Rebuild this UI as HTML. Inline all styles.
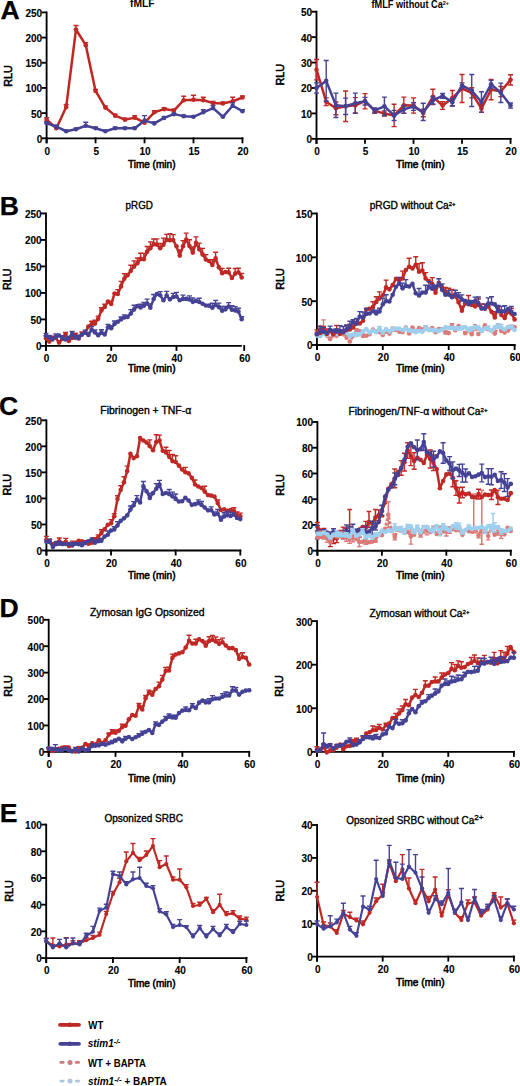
<!DOCTYPE html><html><head><meta charset="utf-8"><style>html,body{margin:0;padding:0;background:#fff;}svg{display:block;}text{font-family:"Liberation Sans", sans-serif;} .tk{font-size:10px;font-weight:bold;fill:#000;stroke:#000;stroke-width:0.1px;} .tt{font-size:10px;font-weight:normal;fill:#000;stroke:#000;stroke-width:0.35px;} .xl{font-size:10.4px;font-weight:normal;fill:#000;stroke:#000;stroke-width:0.55px;} .pl{font-size:26.6px;font-weight:bold;fill:#000;stroke:#000;stroke-width:0.25px;} .lg{font-size:10px;font-weight:bold;fill:#000;}</style></head><body>
<svg width="520" height="1086" viewBox="0 0 520 1086">
<rect width="520" height="1086" fill="#fff"/>
<line x1="46.6" y1="11.48" x2="46.6" y2="143.3" stroke="#000" stroke-width="1.85"/>
<line x1="45.68" y1="138.3" x2="243.38" y2="138.3" stroke="#000" stroke-width="1.85"/>
<line x1="41.6" y1="138.3" x2="46.6" y2="138.3" stroke="#000" stroke-width="1.85"/>
<text x="42.2" y="142.7" text-anchor="end" class="tk">0</text>
<line x1="41.6" y1="113.12" x2="46.6" y2="113.12" stroke="#000" stroke-width="1.85"/>
<text x="42.2" y="117.52" text-anchor="end" class="tk">50</text>
<line x1="41.6" y1="87.94" x2="46.6" y2="87.94" stroke="#000" stroke-width="1.85"/>
<text x="42.2" y="92.34" text-anchor="end" class="tk">100</text>
<line x1="41.6" y1="62.76" x2="46.6" y2="62.76" stroke="#000" stroke-width="1.85"/>
<text x="42.2" y="67.16" text-anchor="end" class="tk">150</text>
<line x1="41.6" y1="37.58" x2="46.6" y2="37.58" stroke="#000" stroke-width="1.85"/>
<text x="42.2" y="41.98" text-anchor="end" class="tk">200</text>
<line x1="41.6" y1="12.4" x2="46.6" y2="12.4" stroke="#000" stroke-width="1.85"/>
<text x="42.2" y="16.8" text-anchor="end" class="tk">250</text>
<line x1="46.6" y1="137.38" x2="46.6" y2="143.3" stroke="#000" stroke-width="1.85"/>
<text x="47.2" y="154.5" text-anchor="middle" class="tk">0</text>
<line x1="95.56" y1="137.38" x2="95.56" y2="143.3" stroke="#000" stroke-width="1.85"/>
<text x="96.16" y="154.5" text-anchor="middle" class="tk">5</text>
<line x1="144.53" y1="137.38" x2="144.53" y2="143.3" stroke="#000" stroke-width="1.85"/>
<text x="145.12" y="154.5" text-anchor="middle" class="tk">10</text>
<line x1="193.49" y1="137.38" x2="193.49" y2="143.3" stroke="#000" stroke-width="1.85"/>
<text x="194.09" y="154.5" text-anchor="middle" class="tk">15</text>
<line x1="242.45" y1="137.38" x2="242.45" y2="143.3" stroke="#000" stroke-width="1.85"/>
<text x="243.05" y="154.5" text-anchor="middle" class="tk">20</text>
<text x="130" y="7.4" class="tt" textLength="24.6" lengthAdjust="spacingAndGlyphs" style="font-weight:bold;stroke-width:0">fMLF</text>
<text x="127.9" y="167.5" class="xl" textLength="47.6" lengthAdjust="spacingAndGlyphs">Time (min)</text>
<text transform="translate(11.6,76) rotate(-90)" text-anchor="middle" class="xl" textLength="21.6" lengthAdjust="spacingAndGlyphs">RLU</text>
<path d="M46.6 119.67V117.65M44.1 117.65H49.1" stroke="#bf2824" stroke-width="1.4" fill="none"/>
<path d="M56.39 128.23V127.22M53.89 127.22H58.89" stroke="#bf2824" stroke-width="1.4" fill="none"/>
<path d="M66.19 107.08V104.56M63.69 104.56H68.69" stroke="#bf2824" stroke-width="1.4" fill="none"/>
<path d="M75.98 29.52V25.49M73.48 25.49H78.48" stroke="#bf2824" stroke-width="1.4" fill="none"/>
<path d="M85.77 45.13V42.62M83.27 42.62H88.27" stroke="#bf2824" stroke-width="1.4" fill="none"/>
<path d="M95.56 90.96V89.45M93.06 89.45H98.06" stroke="#bf2824" stroke-width="1.4" fill="none"/>
<path d="M105.36 107.58V106.07M102.86 106.07H107.86" stroke="#bf2824" stroke-width="1.4" fill="none"/>
<path d="M115.15 115.64V114.13M112.65 114.13H117.65" stroke="#bf2824" stroke-width="1.4" fill="none"/>
<path d="M124.94 119.67V118.16M122.44 118.16H127.44" stroke="#bf2824" stroke-width="1.4" fill="none"/>
<path d="M134.73 117.65V115.64M132.23 115.64H137.23" stroke="#bf2824" stroke-width="1.4" fill="none"/>
<path d="M144.53 122.69V121.18M142.03 121.18H147.03" stroke="#bf2824" stroke-width="1.4" fill="none"/>
<path d="M154.32 112.31V110.8M151.82 110.8H156.82" stroke="#bf2824" stroke-width="1.4" fill="none"/>
<path d="M164.11 109.09V107.58M161.61 107.58H166.61" stroke="#bf2824" stroke-width="1.4" fill="none"/>
<path d="M173.9 110.6V109.09M171.4 109.09H176.4" stroke="#bf2824" stroke-width="1.4" fill="none"/>
<path d="M183.69 100.23V96.2M181.19 96.2H186.19" stroke="#bf2824" stroke-width="1.4" fill="none"/>
<path d="M193.49 99.72V95.19M190.99 95.19H195.99" stroke="#bf2824" stroke-width="1.4" fill="none"/>
<path d="M203.28 100.23V97.21M200.78 97.21H205.78" stroke="#bf2824" stroke-width="1.4" fill="none"/>
<path d="M213.07 103.05V101.54M210.57 101.54H215.57" stroke="#bf2824" stroke-width="1.4" fill="none"/>
<path d="M222.87 103.55V102.04M220.37 102.04H225.37" stroke="#bf2824" stroke-width="1.4" fill="none"/>
<path d="M232.66 101.34V97.31M230.16 97.31H235.16" stroke="#bf2824" stroke-width="1.4" fill="none"/>
<path d="M242.45 97.51V96M239.95 96H244.95" stroke="#bf2824" stroke-width="1.4" fill="none"/>
<path d="M46.6 119.67 L56.39 128.23 L66.19 107.08 L75.98 29.52 L85.77 45.13 L95.56 90.96 L105.36 107.58 L115.15 115.64 L124.94 119.67 L134.73 117.65 L144.53 122.69 L154.32 112.31 L164.11 109.09 L173.9 110.6 L183.69 100.23 L193.49 99.72 L203.28 100.23 L213.07 103.05 L222.87 103.55 L232.66 101.34 L242.45 97.51" stroke="#bf2824" stroke-width="2.5" fill="none" stroke-linejoin="round"/>
<circle cx="46.6" cy="119.67" r="2.3" fill="#bf2824"/>
<circle cx="56.39" cy="128.23" r="2.3" fill="#bf2824"/>
<circle cx="66.19" cy="107.08" r="2.3" fill="#bf2824"/>
<circle cx="75.98" cy="29.52" r="2.3" fill="#bf2824"/>
<circle cx="85.77" cy="45.13" r="2.3" fill="#bf2824"/>
<circle cx="95.56" cy="90.96" r="2.3" fill="#bf2824"/>
<circle cx="105.36" cy="107.58" r="2.3" fill="#bf2824"/>
<circle cx="115.15" cy="115.64" r="2.3" fill="#bf2824"/>
<circle cx="124.94" cy="119.67" r="2.3" fill="#bf2824"/>
<circle cx="134.73" cy="117.65" r="2.3" fill="#bf2824"/>
<circle cx="144.53" cy="122.69" r="2.3" fill="#bf2824"/>
<circle cx="154.32" cy="112.31" r="2.3" fill="#bf2824"/>
<circle cx="164.11" cy="109.09" r="2.3" fill="#bf2824"/>
<circle cx="173.9" cy="110.6" r="2.3" fill="#bf2824"/>
<circle cx="183.69" cy="100.23" r="2.3" fill="#bf2824"/>
<circle cx="193.49" cy="99.72" r="2.3" fill="#bf2824"/>
<circle cx="203.28" cy="100.23" r="2.3" fill="#bf2824"/>
<circle cx="213.07" cy="103.05" r="2.3" fill="#bf2824"/>
<circle cx="222.87" cy="103.55" r="2.3" fill="#bf2824"/>
<circle cx="232.66" cy="101.34" r="2.3" fill="#bf2824"/>
<circle cx="242.45" cy="97.51" r="2.3" fill="#bf2824"/>
<path d="M46.6 123.19V121.68M44.1 121.68H49.1" stroke="#454296" stroke-width="1.4" fill="none"/>
<path d="M56.39 126.72V125.21M53.89 125.21H58.89" stroke="#454296" stroke-width="1.4" fill="none"/>
<path d="M66.19 131.25V130.24M63.69 130.24H68.69" stroke="#454296" stroke-width="1.4" fill="none"/>
<path d="M75.98 129.24V128.23M73.48 128.23H78.48" stroke="#454296" stroke-width="1.4" fill="none"/>
<path d="M85.77 125.71V122.18M83.27 122.18H88.27" stroke="#454296" stroke-width="1.4" fill="none"/>
<path d="M95.56 128.23V127.22M93.06 127.22H98.06" stroke="#454296" stroke-width="1.4" fill="none"/>
<path d="M105.36 131.25V130.24M102.86 130.24H107.86" stroke="#454296" stroke-width="1.4" fill="none"/>
<path d="M115.15 128.23V127.22M112.65 127.22H117.65" stroke="#454296" stroke-width="1.4" fill="none"/>
<path d="M124.94 128.23V127.22M122.44 127.22H127.44" stroke="#454296" stroke-width="1.4" fill="none"/>
<path d="M134.73 128.23V127.22M132.23 127.22H137.23" stroke="#454296" stroke-width="1.4" fill="none"/>
<path d="M144.53 120.67V115.64M142.03 115.64H147.03" stroke="#454296" stroke-width="1.4" fill="none"/>
<path d="M154.32 123.39V121.88M151.82 121.88H156.82" stroke="#454296" stroke-width="1.4" fill="none"/>
<path d="M164.11 117.9V116.9M161.61 116.9H166.61" stroke="#454296" stroke-width="1.4" fill="none"/>
<path d="M173.9 114.13V113.12M171.4 113.12H176.4" stroke="#454296" stroke-width="1.4" fill="none"/>
<path d="M183.69 116.14V115.13M181.19 115.13H186.19" stroke="#454296" stroke-width="1.4" fill="none"/>
<path d="M193.49 116.8V115.79M190.99 115.79H195.99" stroke="#454296" stroke-width="1.4" fill="none"/>
<path d="M203.28 112.31V109.8M200.78 109.8H205.78" stroke="#454296" stroke-width="1.4" fill="none"/>
<path d="M213.07 108.08V105.57M210.57 105.57H215.57" stroke="#454296" stroke-width="1.4" fill="none"/>
<path d="M222.87 116.8V115.79M220.37 115.79H225.37" stroke="#454296" stroke-width="1.4" fill="none"/>
<path d="M232.66 105.72V102.7M230.16 102.7H235.16" stroke="#454296" stroke-width="1.4" fill="none"/>
<path d="M242.45 111.21V109.7M239.95 109.7H244.95" stroke="#454296" stroke-width="1.4" fill="none"/>
<path d="M46.6 123.19 L56.39 126.72 L66.19 131.25 L75.98 129.24 L85.77 125.71 L95.56 128.23 L105.36 131.25 L115.15 128.23 L124.94 128.23 L134.73 128.23 L144.53 120.67 L154.32 123.39 L164.11 117.9 L173.9 114.13 L183.69 116.14 L193.49 116.8 L203.28 112.31 L213.07 108.08 L222.87 116.8 L232.66 105.72 L242.45 111.21" stroke="#454296" stroke-width="2.5" fill="none" stroke-linejoin="round"/>
<circle cx="46.6" cy="123.19" r="2.3" fill="#454296"/>
<circle cx="56.39" cy="126.72" r="2.3" fill="#454296"/>
<circle cx="66.19" cy="131.25" r="2.3" fill="#454296"/>
<circle cx="75.98" cy="129.24" r="2.3" fill="#454296"/>
<circle cx="85.77" cy="125.71" r="2.3" fill="#454296"/>
<circle cx="95.56" cy="128.23" r="2.3" fill="#454296"/>
<circle cx="105.36" cy="131.25" r="2.3" fill="#454296"/>
<circle cx="115.15" cy="128.23" r="2.3" fill="#454296"/>
<circle cx="124.94" cy="128.23" r="2.3" fill="#454296"/>
<circle cx="134.73" cy="128.23" r="2.3" fill="#454296"/>
<circle cx="144.53" cy="120.67" r="2.3" fill="#454296"/>
<circle cx="154.32" cy="123.39" r="2.3" fill="#454296"/>
<circle cx="164.11" cy="117.9" r="2.3" fill="#454296"/>
<circle cx="173.9" cy="114.13" r="2.3" fill="#454296"/>
<circle cx="183.69" cy="116.14" r="2.3" fill="#454296"/>
<circle cx="193.49" cy="116.8" r="2.3" fill="#454296"/>
<circle cx="203.28" cy="112.31" r="2.3" fill="#454296"/>
<circle cx="213.07" cy="108.08" r="2.3" fill="#454296"/>
<circle cx="222.87" cy="116.8" r="2.3" fill="#454296"/>
<circle cx="232.66" cy="105.72" r="2.3" fill="#454296"/>
<circle cx="242.45" cy="111.21" r="2.3" fill="#454296"/>
<line x1="316.5" y1="10.78" x2="316.5" y2="143.85" stroke="#000" stroke-width="1.85"/>
<line x1="315.57" y1="138.85" x2="511.48" y2="138.85" stroke="#000" stroke-width="1.85"/>
<line x1="311.5" y1="138.85" x2="316.5" y2="138.85" stroke="#000" stroke-width="1.85"/>
<text x="312.1" y="143.25" text-anchor="end" class="tk">0</text>
<line x1="311.5" y1="113.42" x2="316.5" y2="113.42" stroke="#000" stroke-width="1.85"/>
<text x="312.1" y="117.82" text-anchor="end" class="tk">10</text>
<line x1="311.5" y1="87.99" x2="316.5" y2="87.99" stroke="#000" stroke-width="1.85"/>
<text x="312.1" y="92.39" text-anchor="end" class="tk">20</text>
<line x1="311.5" y1="62.56" x2="316.5" y2="62.56" stroke="#000" stroke-width="1.85"/>
<text x="312.1" y="66.96" text-anchor="end" class="tk">30</text>
<line x1="311.5" y1="37.13" x2="316.5" y2="37.13" stroke="#000" stroke-width="1.85"/>
<text x="312.1" y="41.53" text-anchor="end" class="tk">40</text>
<line x1="311.5" y1="11.7" x2="316.5" y2="11.7" stroke="#000" stroke-width="1.85"/>
<text x="312.1" y="16.1" text-anchor="end" class="tk">50</text>
<line x1="316.5" y1="137.92" x2="316.5" y2="143.85" stroke="#000" stroke-width="1.85"/>
<text x="317.1" y="155.05" text-anchor="middle" class="tk">0</text>
<line x1="365.01" y1="137.92" x2="365.01" y2="143.85" stroke="#000" stroke-width="1.85"/>
<text x="365.61" y="155.05" text-anchor="middle" class="tk">5</text>
<line x1="413.52" y1="137.92" x2="413.52" y2="143.85" stroke="#000" stroke-width="1.85"/>
<text x="414.12" y="155.05" text-anchor="middle" class="tk">10</text>
<line x1="462.04" y1="137.92" x2="462.04" y2="143.85" stroke="#000" stroke-width="1.85"/>
<text x="462.64" y="155.05" text-anchor="middle" class="tk">15</text>
<line x1="510.55" y1="137.92" x2="510.55" y2="143.85" stroke="#000" stroke-width="1.85"/>
<text x="511.15" y="155.05" text-anchor="middle" class="tk">20</text>
<text x="371.5" y="7.6" class="tt" textLength="77.5" lengthAdjust="spacingAndGlyphs" style="font-weight:bold;stroke-width:0">fMLF without Ca<tspan dy="-3" font-size="6">2+</tspan></text>
<text x="396" y="167.7" class="xl" textLength="48.6" lengthAdjust="spacingAndGlyphs">Time (min)</text>
<text transform="translate(283.5,74.8) rotate(-90)" text-anchor="middle" class="xl" textLength="21.6" lengthAdjust="spacingAndGlyphs">RLU</text>
<path d="M316.5 79.85V59.51M314 59.51H319M314 79.85H319" stroke="#bf2824" stroke-width="1.4" fill="none"/>
<path d="M326.2 105.54V97.91M323.7 97.91H328.7M323.7 105.54H328.7" stroke="#bf2824" stroke-width="1.4" fill="none"/>
<path d="M335.9 114.69V101.98M333.4 101.98H338.4M333.4 114.69H338.4" stroke="#bf2824" stroke-width="1.4" fill="none"/>
<path d="M345.61 121.56V91.04M343.11 91.04H348.11M343.11 121.56H348.11" stroke="#bf2824" stroke-width="1.4" fill="none"/>
<path d="M355.31 112.91V97.65M352.81 97.65H357.81M352.81 112.91H357.81" stroke="#bf2824" stroke-width="1.4" fill="none"/>
<path d="M365.01 108.84V93.58M362.51 93.58H367.51M362.51 108.84H367.51" stroke="#bf2824" stroke-width="1.4" fill="none"/>
<path d="M374.72 113.42V108.33M372.22 108.33H377.22M372.22 113.42H377.22" stroke="#bf2824" stroke-width="1.4" fill="none"/>
<path d="M384.42 115.96V110.88M381.92 110.88H386.92M381.92 115.96H386.92" stroke="#bf2824" stroke-width="1.4" fill="none"/>
<path d="M394.12 126.64V104.27M391.62 104.27H396.62M391.62 126.64H396.62" stroke="#bf2824" stroke-width="1.4" fill="none"/>
<path d="M403.82 113.42V97.14M401.32 97.14H406.32M401.32 113.42H406.32" stroke="#bf2824" stroke-width="1.4" fill="none"/>
<path d="M413.52 113.17V97.91M411.02 97.91H416.02M411.02 113.17H416.02" stroke="#bf2824" stroke-width="1.4" fill="none"/>
<path d="M423.23 116.73V109.1M420.73 109.1H425.73M420.73 116.73H425.73" stroke="#bf2824" stroke-width="1.4" fill="none"/>
<path d="M432.93 104.52V89.26M430.43 89.26H435.43M430.43 104.52H435.43" stroke="#bf2824" stroke-width="1.4" fill="none"/>
<path d="M442.63 109.35V101.72M440.13 101.72H445.13M440.13 109.35H445.13" stroke="#bf2824" stroke-width="1.4" fill="none"/>
<path d="M452.34 105.79V90.53M449.84 90.53H454.84M449.84 105.79H454.84" stroke="#bf2824" stroke-width="1.4" fill="none"/>
<path d="M462.04 102.49V74.51M459.54 74.51H464.54M459.54 102.49H464.54" stroke="#bf2824" stroke-width="1.4" fill="none"/>
<path d="M471.74 97.91V87.74M469.24 87.74H474.24M469.24 97.91H474.24" stroke="#bf2824" stroke-width="1.4" fill="none"/>
<path d="M481.44 112.4V104.77M478.94 104.77H483.94M478.94 112.4H483.94" stroke="#bf2824" stroke-width="1.4" fill="none"/>
<path d="M491.14 99.69V79.34M488.64 79.34H493.64M488.64 99.69H493.64" stroke="#bf2824" stroke-width="1.4" fill="none"/>
<path d="M500.85 96.64V86.46M498.35 86.46H503.35M498.35 96.64H503.35" stroke="#bf2824" stroke-width="1.4" fill="none"/>
<path d="M510.55 84.94V74.77M508.05 74.77H513.05M508.05 84.94H513.05" stroke="#bf2824" stroke-width="1.4" fill="none"/>
<path d="M316.5 69.68 L326.2 101.72 L335.9 108.33 L345.61 106.3 L355.31 105.28 L365.01 101.21 L374.72 110.88 L384.42 113.42 L394.12 115.45 L403.82 105.28 L413.52 105.54 L423.23 112.91 L432.93 96.89 L442.63 105.54 L452.34 98.16 L462.04 88.5 L471.74 92.82 L481.44 108.59 L491.14 89.52 L500.85 91.55 L510.55 79.85" stroke="#bf2824" stroke-width="2.5" fill="none" stroke-linejoin="round"/>
<circle cx="316.5" cy="69.68" r="2.3" fill="#bf2824"/>
<circle cx="326.2" cy="101.72" r="2.3" fill="#bf2824"/>
<circle cx="335.9" cy="108.33" r="2.3" fill="#bf2824"/>
<circle cx="345.61" cy="106.3" r="2.3" fill="#bf2824"/>
<circle cx="355.31" cy="105.28" r="2.3" fill="#bf2824"/>
<circle cx="365.01" cy="101.21" r="2.3" fill="#bf2824"/>
<circle cx="374.72" cy="110.88" r="2.3" fill="#bf2824"/>
<circle cx="384.42" cy="113.42" r="2.3" fill="#bf2824"/>
<circle cx="394.12" cy="115.45" r="2.3" fill="#bf2824"/>
<circle cx="403.82" cy="105.28" r="2.3" fill="#bf2824"/>
<circle cx="413.52" cy="105.54" r="2.3" fill="#bf2824"/>
<circle cx="423.23" cy="112.91" r="2.3" fill="#bf2824"/>
<circle cx="432.93" cy="96.89" r="2.3" fill="#bf2824"/>
<circle cx="442.63" cy="105.54" r="2.3" fill="#bf2824"/>
<circle cx="452.34" cy="98.16" r="2.3" fill="#bf2824"/>
<circle cx="462.04" cy="88.5" r="2.3" fill="#bf2824"/>
<circle cx="471.74" cy="92.82" r="2.3" fill="#bf2824"/>
<circle cx="481.44" cy="108.59" r="2.3" fill="#bf2824"/>
<circle cx="491.14" cy="89.52" r="2.3" fill="#bf2824"/>
<circle cx="500.85" cy="91.55" r="2.3" fill="#bf2824"/>
<circle cx="510.55" cy="79.85" r="2.3" fill="#bf2824"/>
<path d="M316.5 93.08V82.9M314 82.9H319M314 93.08H319" stroke="#454296" stroke-width="1.4" fill="none"/>
<path d="M326.2 101.21V60.53M323.7 60.53H328.7M323.7 101.21H328.7" stroke="#454296" stroke-width="1.4" fill="none"/>
<path d="M335.9 117.49V93.08M333.4 93.08H338.4M333.4 117.49H338.4" stroke="#454296" stroke-width="1.4" fill="none"/>
<path d="M345.61 114.44V98.16M343.11 98.16H348.11M343.11 114.44H348.11" stroke="#454296" stroke-width="1.4" fill="none"/>
<path d="M355.31 113.42V93.08M352.81 93.08H357.81M352.81 113.42H357.81" stroke="#454296" stroke-width="1.4" fill="none"/>
<path d="M365.01 105.03V97.4M362.51 97.4H367.51M362.51 105.03H367.51" stroke="#454296" stroke-width="1.4" fill="none"/>
<path d="M374.72 112.91V107.83M372.22 107.83H377.22M372.22 112.91H377.22" stroke="#454296" stroke-width="1.4" fill="none"/>
<path d="M384.42 115.45V97.14M381.92 97.14H386.92M381.92 115.45H386.92" stroke="#454296" stroke-width="1.4" fill="none"/>
<path d="M394.12 120.54V110.37M391.62 110.37H396.62M391.62 120.54H396.62" stroke="#454296" stroke-width="1.4" fill="none"/>
<path d="M403.82 113.17V105.54M401.32 105.54H406.32M401.32 113.17H406.32" stroke="#454296" stroke-width="1.4" fill="none"/>
<path d="M413.52 110.37V102.74M411.02 102.74H416.02M411.02 110.37H416.02" stroke="#454296" stroke-width="1.4" fill="none"/>
<path d="M423.23 120.54V103.25M420.73 103.25H425.73M420.73 120.54H425.73" stroke="#454296" stroke-width="1.4" fill="none"/>
<path d="M432.93 104.01V96.38M430.43 96.38H435.43M430.43 104.01H435.43" stroke="#454296" stroke-width="1.4" fill="none"/>
<path d="M442.63 98.42V93.33M440.13 93.33H445.13M440.13 98.42H445.13" stroke="#454296" stroke-width="1.4" fill="none"/>
<path d="M452.34 106.05V98.42M449.84 98.42H454.84M449.84 106.05H454.84" stroke="#454296" stroke-width="1.4" fill="none"/>
<path d="M462.04 87.99V82.9M459.54 82.9H464.54M459.54 87.99H464.54" stroke="#454296" stroke-width="1.4" fill="none"/>
<path d="M471.74 106.55V74.51M469.24 74.51H474.24M469.24 106.55H474.24" stroke="#454296" stroke-width="1.4" fill="none"/>
<path d="M481.44 112.15V91.8M478.94 91.8H483.94M478.94 112.15H483.94" stroke="#454296" stroke-width="1.4" fill="none"/>
<path d="M491.14 87.99V80.36M488.64 80.36H493.64M488.64 87.99H493.64" stroke="#454296" stroke-width="1.4" fill="none"/>
<path d="M500.85 102.49V83.16M498.35 83.16H503.35M498.35 102.49H503.35" stroke="#454296" stroke-width="1.4" fill="none"/>
<path d="M510.55 108.08V102.99M508.05 102.99H513.05M508.05 108.08H513.05" stroke="#454296" stroke-width="1.4" fill="none"/>
<path d="M316.5 87.99 L326.2 80.87 L335.9 105.28 L345.61 106.3 L355.31 103.25 L365.01 101.21 L374.72 110.37 L384.42 106.3 L394.12 115.45 L403.82 109.35 L413.52 106.55 L423.23 111.89 L432.93 100.2 L442.63 95.87 L452.34 102.23 L462.04 85.45 L471.74 90.53 L481.44 101.98 L491.14 84.18 L500.85 92.82 L510.55 105.54" stroke="#454296" stroke-width="2.5" fill="none" stroke-linejoin="round"/>
<circle cx="316.5" cy="87.99" r="2.3" fill="#454296"/>
<circle cx="326.2" cy="80.87" r="2.3" fill="#454296"/>
<circle cx="335.9" cy="105.28" r="2.3" fill="#454296"/>
<circle cx="345.61" cy="106.3" r="2.3" fill="#454296"/>
<circle cx="355.31" cy="103.25" r="2.3" fill="#454296"/>
<circle cx="365.01" cy="101.21" r="2.3" fill="#454296"/>
<circle cx="374.72" cy="110.37" r="2.3" fill="#454296"/>
<circle cx="384.42" cy="106.3" r="2.3" fill="#454296"/>
<circle cx="394.12" cy="115.45" r="2.3" fill="#454296"/>
<circle cx="403.82" cy="109.35" r="2.3" fill="#454296"/>
<circle cx="413.52" cy="106.55" r="2.3" fill="#454296"/>
<circle cx="423.23" cy="111.89" r="2.3" fill="#454296"/>
<circle cx="432.93" cy="100.2" r="2.3" fill="#454296"/>
<circle cx="442.63" cy="95.87" r="2.3" fill="#454296"/>
<circle cx="452.34" cy="102.23" r="2.3" fill="#454296"/>
<circle cx="462.04" cy="85.45" r="2.3" fill="#454296"/>
<circle cx="471.74" cy="90.53" r="2.3" fill="#454296"/>
<circle cx="481.44" cy="101.98" r="2.3" fill="#454296"/>
<circle cx="491.14" cy="84.18" r="2.3" fill="#454296"/>
<circle cx="500.85" cy="92.82" r="2.3" fill="#454296"/>
<circle cx="510.55" cy="105.54" r="2.3" fill="#454296"/>
<line x1="46" y1="212.52" x2="46" y2="350.9" stroke="#000" stroke-width="1.85"/>
<line x1="45.08" y1="345.9" x2="241.8" y2="345.9" stroke="#000" stroke-width="1.85"/>
<line x1="41" y1="345.9" x2="46" y2="345.9" stroke="#000" stroke-width="1.85"/>
<text x="41.6" y="350.3" text-anchor="end" class="tk">0</text>
<line x1="41" y1="319.41" x2="46" y2="319.41" stroke="#000" stroke-width="1.85"/>
<text x="41.6" y="323.81" text-anchor="end" class="tk">50</text>
<line x1="41" y1="292.92" x2="46" y2="292.92" stroke="#000" stroke-width="1.85"/>
<text x="41.6" y="297.32" text-anchor="end" class="tk">100</text>
<line x1="41" y1="266.43" x2="46" y2="266.43" stroke="#000" stroke-width="1.85"/>
<text x="41.6" y="270.83" text-anchor="end" class="tk">150</text>
<line x1="41" y1="239.94" x2="46" y2="239.94" stroke="#000" stroke-width="1.85"/>
<text x="41.6" y="244.34" text-anchor="end" class="tk">200</text>
<line x1="41" y1="213.45" x2="46" y2="213.45" stroke="#000" stroke-width="1.85"/>
<text x="41.6" y="217.85" text-anchor="end" class="tk">250</text>
<line x1="46" y1="344.97" x2="46" y2="350.9" stroke="#000" stroke-width="1.85"/>
<text x="46.6" y="362.1" text-anchor="middle" class="tk">0</text>
<line x1="111.23" y1="344.97" x2="111.23" y2="350.9" stroke="#000" stroke-width="1.85"/>
<text x="111.83" y="362.1" text-anchor="middle" class="tk">20</text>
<line x1="176.47" y1="344.97" x2="176.47" y2="350.9" stroke="#000" stroke-width="1.85"/>
<text x="177.07" y="362.1" text-anchor="middle" class="tk">40</text>
<line x1="244.2" y1="344.97" x2="244.2" y2="350.9" stroke="#000" stroke-width="1.85"/>
<text x="244.8" y="362.1" text-anchor="middle" class="tk">60</text>
<text x="125.6" y="209.2" class="tt" textLength="27.3" lengthAdjust="spacingAndGlyphs">pRGD</text>
<text x="127.9" y="372.3" class="xl" textLength="47.6" lengthAdjust="spacingAndGlyphs">Time (min)</text>
<text transform="translate(11.4,279.3) rotate(-90)" text-anchor="middle" class="xl" textLength="21.6" lengthAdjust="spacingAndGlyphs">RLU</text>
<path d="M46 338.32V335.78M43.5 335.78H48.5" stroke="#bf2824" stroke-width="1.4" fill="none"/>
<path d="M52.52 338.11V336.26M50.02 336.26H55.02" stroke="#bf2824" stroke-width="1.4" fill="none"/>
<path d="M59.05 342.62V340.97M56.55 340.97H61.55" stroke="#bf2824" stroke-width="1.4" fill="none"/>
<path d="M62.31 338.96V336.42M59.81 336.42H64.81" stroke="#bf2824" stroke-width="1.4" fill="none"/>
<path d="M65.57 334.62V332.5M63.07 332.5H68.07" stroke="#bf2824" stroke-width="1.4" fill="none"/>
<path d="M72.09 337.95V335.62M69.59 335.62H74.59" stroke="#bf2824" stroke-width="1.4" fill="none"/>
<path d="M75.35 335.62V333.18M72.85 333.18H77.85" stroke="#bf2824" stroke-width="1.4" fill="none"/>
<path d="M78.62 338.54V337M76.12 337H81.12" stroke="#bf2824" stroke-width="1.4" fill="none"/>
<path d="M81.88 334.35V332.07M79.38 332.07H84.38" stroke="#bf2824" stroke-width="1.4" fill="none"/>
<path d="M91.66 323.97V321.26M89.16 321.26H94.16" stroke="#bf2824" stroke-width="1.4" fill="none"/>
<path d="M94.92 323.6V320.26M92.42 320.26H97.42" stroke="#bf2824" stroke-width="1.4" fill="none"/>
<path d="M98.19 318.83V316.13M95.69 316.13H100.69" stroke="#bf2824" stroke-width="1.4" fill="none"/>
<path d="M101.45 310.4V307.7M98.95 307.7H103.95" stroke="#bf2824" stroke-width="1.4" fill="none"/>
<path d="M104.71 307.01V304.31M102.21 304.31H107.21" stroke="#bf2824" stroke-width="1.4" fill="none"/>
<path d="M111.23 304.05V301.08M108.73 301.08H113.73" stroke="#bf2824" stroke-width="1.4" fill="none"/>
<path d="M117.76 293.98V289.64M115.26 289.64H120.26" stroke="#bf2824" stroke-width="1.4" fill="none"/>
<path d="M121.02 286.4V281.37M118.52 281.37H123.52" stroke="#bf2824" stroke-width="1.4" fill="none"/>
<path d="M124.28 278.83V273.64M121.78 273.64H126.78" stroke="#bf2824" stroke-width="1.4" fill="none"/>
<path d="M130.8 270.83V265.32M128.3 265.32H133.3" stroke="#bf2824" stroke-width="1.4" fill="none"/>
<path d="M134.06 266.59V260.87M131.56 260.87H136.56" stroke="#bf2824" stroke-width="1.4" fill="none"/>
<path d="M137.33 263.2V258.06M134.83 258.06H139.83" stroke="#bf2824" stroke-width="1.4" fill="none"/>
<path d="M140.59 258.91V253.24M138.09 253.24H143.09" stroke="#bf2824" stroke-width="1.4" fill="none"/>
<path d="M143.85 259.22V253.34M141.35 253.34H146.35" stroke="#bf2824" stroke-width="1.4" fill="none"/>
<path d="M147.11 251.65V246.56M144.61 246.56H149.61" stroke="#bf2824" stroke-width="1.4" fill="none"/>
<path d="M150.37 248.31V241.85M147.87 241.85H152.87" stroke="#bf2824" stroke-width="1.4" fill="none"/>
<path d="M153.63 244.13V238.93M151.13 238.93H156.13" stroke="#bf2824" stroke-width="1.4" fill="none"/>
<path d="M156.9 244.6V238.83M154.4 238.83H159.4" stroke="#bf2824" stroke-width="1.4" fill="none"/>
<path d="M160.16 248.31V243.33M157.66 243.33H162.66" stroke="#bf2824" stroke-width="1.4" fill="none"/>
<path d="M163.42 244.76V238.14M160.92 238.14H165.92" stroke="#bf2824" stroke-width="1.4" fill="none"/>
<path d="M166.68 239.73V234.38M164.18 234.38H169.18" stroke="#bf2824" stroke-width="1.4" fill="none"/>
<path d="M169.94 240.2V233.58M167.44 233.58H172.44" stroke="#bf2824" stroke-width="1.4" fill="none"/>
<path d="M173.2 240.1V234.59M170.7 234.59H175.7" stroke="#bf2824" stroke-width="1.4" fill="none"/>
<path d="M179.73 255.62V249.95M177.23 249.95H182.23" stroke="#bf2824" stroke-width="1.4" fill="none"/>
<path d="M182.99 246.3V240.63M180.49 240.63H185.49" stroke="#bf2824" stroke-width="1.4" fill="none"/>
<path d="M186.25 239.46V233.16M183.75 233.16H188.75" stroke="#bf2824" stroke-width="1.4" fill="none"/>
<path d="M189.51 246.09V239.78M187.01 239.78H192.01" stroke="#bf2824" stroke-width="1.4" fill="none"/>
<path d="M192.77 252.6V246.83M190.27 246.83H195.27" stroke="#bf2824" stroke-width="1.4" fill="none"/>
<path d="M196.04 242.8V236.87M193.54 236.87H198.54" stroke="#bf2824" stroke-width="1.4" fill="none"/>
<path d="M199.3 249.26V243.17M196.8 243.17H201.8" stroke="#bf2824" stroke-width="1.4" fill="none"/>
<path d="M202.56 254.4V248.36M200.06 248.36H205.06" stroke="#bf2824" stroke-width="1.4" fill="none"/>
<path d="M205.82 259.44V254.62M203.32 254.62H208.32" stroke="#bf2824" stroke-width="1.4" fill="none"/>
<path d="M212.34 264.89V259.6M209.84 259.6H214.84" stroke="#bf2824" stroke-width="1.4" fill="none"/>
<path d="M215.61 258.38V252.28M213.11 252.28H218.11" stroke="#bf2824" stroke-width="1.4" fill="none"/>
<path d="M222.13 273.16V268.39M219.63 268.39H224.63" stroke="#bf2824" stroke-width="1.4" fill="none"/>
<path d="M228.65 272.42V268.28M226.15 268.28H231.15" stroke="#bf2824" stroke-width="1.4" fill="none"/>
<path d="M235.18 273.58V268.55M232.68 268.55H237.68" stroke="#bf2824" stroke-width="1.4" fill="none"/>
<path d="M238.44 272.36V268.28M235.94 268.28H240.94" stroke="#bf2824" stroke-width="1.4" fill="none"/>
<path d="M241.7 277.45V273.37M239.2 273.37H244.2" stroke="#bf2824" stroke-width="1.4" fill="none"/>
<path d="M46 338.32 L49.26 341.61 L52.52 338.11 L55.78 337.58 L59.05 342.62 L62.31 338.96 L65.57 334.62 L68.83 340.97 L72.09 337.95 L75.35 335.62 L78.62 338.54 L81.88 334.35 L85.14 332.71 L88.4 326.56 L91.66 323.97 L94.92 323.6 L98.19 318.83 L101.45 310.4 L104.71 307.01 L107.97 301.45 L111.23 304.05 L114.49 293.56 L117.76 293.98 L121.02 286.4 L124.28 278.83 L127.54 275.17 L130.8 270.83 L134.06 266.59 L137.33 263.2 L140.59 258.91 L143.85 259.22 L147.11 251.65 L150.37 248.31 L153.63 244.13 L156.9 244.6 L160.16 248.31 L163.42 244.76 L166.68 239.73 L169.94 240.2 L173.2 240.1 L176.47 246.35 L179.73 255.62 L182.99 246.3 L186.25 239.46 L189.51 246.09 L192.77 252.6 L196.04 242.8 L199.3 249.26 L202.56 254.4 L205.82 259.44 L209.08 261.03 L212.34 264.89 L215.61 258.38 L218.87 267.22 L222.13 273.16 L225.39 272.05 L228.65 272.42 L231.91 277.98 L235.18 273.58 L238.44 272.36 L241.7 277.45" stroke="#bf2824" stroke-width="2.5" fill="none" stroke-linejoin="round"/>
<circle cx="46" cy="338.32" r="2.3" fill="#bf2824"/>
<circle cx="49.26" cy="341.61" r="2.3" fill="#bf2824"/>
<circle cx="52.52" cy="338.11" r="2.3" fill="#bf2824"/>
<circle cx="55.78" cy="337.58" r="2.3" fill="#bf2824"/>
<circle cx="59.05" cy="342.62" r="2.3" fill="#bf2824"/>
<circle cx="62.31" cy="338.96" r="2.3" fill="#bf2824"/>
<circle cx="65.57" cy="334.62" r="2.3" fill="#bf2824"/>
<circle cx="68.83" cy="340.97" r="2.3" fill="#bf2824"/>
<circle cx="72.09" cy="337.95" r="2.3" fill="#bf2824"/>
<circle cx="75.35" cy="335.62" r="2.3" fill="#bf2824"/>
<circle cx="78.62" cy="338.54" r="2.3" fill="#bf2824"/>
<circle cx="81.88" cy="334.35" r="2.3" fill="#bf2824"/>
<circle cx="85.14" cy="332.71" r="2.3" fill="#bf2824"/>
<circle cx="88.4" cy="326.56" r="2.3" fill="#bf2824"/>
<circle cx="91.66" cy="323.97" r="2.3" fill="#bf2824"/>
<circle cx="94.92" cy="323.6" r="2.3" fill="#bf2824"/>
<circle cx="98.19" cy="318.83" r="2.3" fill="#bf2824"/>
<circle cx="101.45" cy="310.4" r="2.3" fill="#bf2824"/>
<circle cx="104.71" cy="307.01" r="2.3" fill="#bf2824"/>
<circle cx="107.97" cy="301.45" r="2.3" fill="#bf2824"/>
<circle cx="111.23" cy="304.05" r="2.3" fill="#bf2824"/>
<circle cx="114.49" cy="293.56" r="2.3" fill="#bf2824"/>
<circle cx="117.76" cy="293.98" r="2.3" fill="#bf2824"/>
<circle cx="121.02" cy="286.4" r="2.3" fill="#bf2824"/>
<circle cx="124.28" cy="278.83" r="2.3" fill="#bf2824"/>
<circle cx="127.54" cy="275.17" r="2.3" fill="#bf2824"/>
<circle cx="130.8" cy="270.83" r="2.3" fill="#bf2824"/>
<circle cx="134.06" cy="266.59" r="2.3" fill="#bf2824"/>
<circle cx="137.33" cy="263.2" r="2.3" fill="#bf2824"/>
<circle cx="140.59" cy="258.91" r="2.3" fill="#bf2824"/>
<circle cx="143.85" cy="259.22" r="2.3" fill="#bf2824"/>
<circle cx="147.11" cy="251.65" r="2.3" fill="#bf2824"/>
<circle cx="150.37" cy="248.31" r="2.3" fill="#bf2824"/>
<circle cx="153.63" cy="244.13" r="2.3" fill="#bf2824"/>
<circle cx="156.9" cy="244.6" r="2.3" fill="#bf2824"/>
<circle cx="160.16" cy="248.31" r="2.3" fill="#bf2824"/>
<circle cx="163.42" cy="244.76" r="2.3" fill="#bf2824"/>
<circle cx="166.68" cy="239.73" r="2.3" fill="#bf2824"/>
<circle cx="169.94" cy="240.2" r="2.3" fill="#bf2824"/>
<circle cx="173.2" cy="240.1" r="2.3" fill="#bf2824"/>
<circle cx="176.47" cy="246.35" r="2.3" fill="#bf2824"/>
<circle cx="179.73" cy="255.62" r="2.3" fill="#bf2824"/>
<circle cx="182.99" cy="246.3" r="2.3" fill="#bf2824"/>
<circle cx="186.25" cy="239.46" r="2.3" fill="#bf2824"/>
<circle cx="189.51" cy="246.09" r="2.3" fill="#bf2824"/>
<circle cx="192.77" cy="252.6" r="2.3" fill="#bf2824"/>
<circle cx="196.04" cy="242.8" r="2.3" fill="#bf2824"/>
<circle cx="199.3" cy="249.26" r="2.3" fill="#bf2824"/>
<circle cx="202.56" cy="254.4" r="2.3" fill="#bf2824"/>
<circle cx="205.82" cy="259.44" r="2.3" fill="#bf2824"/>
<circle cx="209.08" cy="261.03" r="2.3" fill="#bf2824"/>
<circle cx="212.34" cy="264.89" r="2.3" fill="#bf2824"/>
<circle cx="215.61" cy="258.38" r="2.3" fill="#bf2824"/>
<circle cx="218.87" cy="267.22" r="2.3" fill="#bf2824"/>
<circle cx="222.13" cy="273.16" r="2.3" fill="#bf2824"/>
<circle cx="225.39" cy="272.05" r="2.3" fill="#bf2824"/>
<circle cx="228.65" cy="272.42" r="2.3" fill="#bf2824"/>
<circle cx="231.91" cy="277.98" r="2.3" fill="#bf2824"/>
<circle cx="235.18" cy="273.58" r="2.3" fill="#bf2824"/>
<circle cx="238.44" cy="272.36" r="2.3" fill="#bf2824"/>
<circle cx="241.7" cy="277.45" r="2.3" fill="#bf2824"/>
<path d="M46 335.78V333.34M43.5 333.34H48.5" stroke="#454296" stroke-width="1.4" fill="none"/>
<path d="M49.26 337.53V335.57M46.76 335.57H51.76" stroke="#454296" stroke-width="1.4" fill="none"/>
<path d="M52.52 339.38V337.53M50.02 337.53H55.02" stroke="#454296" stroke-width="1.4" fill="none"/>
<path d="M55.78 337V333.93M53.28 333.93H58.28" stroke="#454296" stroke-width="1.4" fill="none"/>
<path d="M62.31 338.11V335.67M59.81 335.67H64.81" stroke="#454296" stroke-width="1.4" fill="none"/>
<path d="M68.83 338.01V336.52M66.33 336.52H71.33" stroke="#454296" stroke-width="1.4" fill="none"/>
<path d="M72.09 333.98V331.54M69.59 331.54H74.59" stroke="#454296" stroke-width="1.4" fill="none"/>
<path d="M75.35 337.79V335.83M72.85 335.83H77.85" stroke="#454296" stroke-width="1.4" fill="none"/>
<path d="M78.62 337.95V335.09M76.12 335.09H81.12" stroke="#454296" stroke-width="1.4" fill="none"/>
<path d="M85.14 332.6V330.11M82.64 330.11H87.64" stroke="#454296" stroke-width="1.4" fill="none"/>
<path d="M88.4 334.93V332.39M85.9 332.39H90.9" stroke="#454296" stroke-width="1.4" fill="none"/>
<path d="M91.66 329.85V326.56M89.16 326.56H94.16" stroke="#454296" stroke-width="1.4" fill="none"/>
<path d="M94.92 332.44V329.95M92.42 329.95H97.42" stroke="#454296" stroke-width="1.4" fill="none"/>
<path d="M98.19 335.25V333.18M95.69 333.18H100.69" stroke="#454296" stroke-width="1.4" fill="none"/>
<path d="M101.45 332.65V329.79M98.95 329.79H103.95" stroke="#454296" stroke-width="1.4" fill="none"/>
<path d="M104.71 334.46V332.71M102.21 332.71H107.21" stroke="#454296" stroke-width="1.4" fill="none"/>
<path d="M107.97 327.25V324.39M105.47 324.39H110.47" stroke="#454296" stroke-width="1.4" fill="none"/>
<path d="M111.23 328.2V325.61M108.73 325.61H113.73" stroke="#454296" stroke-width="1.4" fill="none"/>
<path d="M114.49 324.02V321M111.99 321H116.99" stroke="#454296" stroke-width="1.4" fill="none"/>
<path d="M121.02 319.57V316.97M118.52 316.97H123.52" stroke="#454296" stroke-width="1.4" fill="none"/>
<path d="M124.28 317.45V314.85M121.78 314.85H126.78" stroke="#454296" stroke-width="1.4" fill="none"/>
<path d="M130.8 313.58V309.66M128.3 309.66H133.3" stroke="#454296" stroke-width="1.4" fill="none"/>
<path d="M134.06 309.4V305.21M131.56 305.21H136.56" stroke="#454296" stroke-width="1.4" fill="none"/>
<path d="M140.59 307.54V304.26M138.09 304.26H143.09" stroke="#454296" stroke-width="1.4" fill="none"/>
<path d="M143.85 305.64V302.4M141.35 302.4H146.35" stroke="#454296" stroke-width="1.4" fill="none"/>
<path d="M147.11 303.46V299.12M144.61 299.12H149.61" stroke="#454296" stroke-width="1.4" fill="none"/>
<path d="M150.37 307.65V303.89M147.87 303.89H152.87" stroke="#454296" stroke-width="1.4" fill="none"/>
<path d="M153.63 299.07V294.51M151.13 294.51H156.13" stroke="#454296" stroke-width="1.4" fill="none"/>
<path d="M160.16 295.3V291.6M157.66 291.6H162.66" stroke="#454296" stroke-width="1.4" fill="none"/>
<path d="M166.68 295.62V291.38M164.18 291.38H169.18" stroke="#454296" stroke-width="1.4" fill="none"/>
<path d="M173.2 297.05V293.4M170.7 293.4H175.7" stroke="#454296" stroke-width="1.4" fill="none"/>
<path d="M176.47 296.47V292.34M173.97 292.34H178.97" stroke="#454296" stroke-width="1.4" fill="none"/>
<path d="M182.99 298.91V295.15M180.49 295.15H185.49" stroke="#454296" stroke-width="1.4" fill="none"/>
<path d="M189.51 299.54V295.89M187.01 295.89H192.01" stroke="#454296" stroke-width="1.4" fill="none"/>
<path d="M192.77 301.87V298.06M190.27 298.06H195.27" stroke="#454296" stroke-width="1.4" fill="none"/>
<path d="M199.3 301.93V298.27M196.8 298.27H201.8" stroke="#454296" stroke-width="1.4" fill="none"/>
<path d="M212.34 307.7V303.2M209.84 303.2H214.84" stroke="#454296" stroke-width="1.4" fill="none"/>
<path d="M215.61 305V300.39M213.11 300.39H218.11" stroke="#454296" stroke-width="1.4" fill="none"/>
<path d="M218.87 307.12V303.15M216.37 303.15H221.37" stroke="#454296" stroke-width="1.4" fill="none"/>
<path d="M222.13 310.72V306.48M219.63 306.48H224.63" stroke="#454296" stroke-width="1.4" fill="none"/>
<path d="M225.39 309.34V306.43M222.89 306.43H227.89" stroke="#454296" stroke-width="1.4" fill="none"/>
<path d="M228.65 306.43V302.62M226.15 302.62H231.15" stroke="#454296" stroke-width="1.4" fill="none"/>
<path d="M231.91 309.82V305.79M229.41 305.79H234.41" stroke="#454296" stroke-width="1.4" fill="none"/>
<path d="M235.18 310.56V306.59M232.68 306.59H237.68" stroke="#454296" stroke-width="1.4" fill="none"/>
<path d="M238.44 311.62V308.18M235.94 308.18H240.94" stroke="#454296" stroke-width="1.4" fill="none"/>
<path d="M241.7 319.25V316.76M239.2 316.76H244.2" stroke="#454296" stroke-width="1.4" fill="none"/>
<path d="M46 335.78 L49.26 337.53 L52.52 339.38 L55.78 337 L59.05 335.46 L62.31 338.11 L65.57 339.38 L68.83 338.01 L72.09 333.98 L75.35 337.79 L78.62 337.95 L81.88 334.67 L85.14 332.6 L88.4 334.93 L91.66 329.85 L94.92 332.44 L98.19 335.25 L101.45 332.65 L104.71 334.46 L107.97 327.25 L111.23 328.2 L114.49 324.02 L117.76 321.69 L121.02 319.57 L124.28 317.45 L127.54 316.92 L130.8 313.58 L134.06 309.4 L137.33 306.11 L140.59 307.54 L143.85 305.64 L147.11 303.46 L150.37 307.65 L153.63 299.07 L156.9 293.98 L160.16 295.3 L163.42 300.23 L166.68 295.62 L169.94 299.33 L173.2 297.05 L176.47 296.47 L179.73 300.23 L182.99 298.91 L186.25 298.91 L189.51 299.54 L192.77 301.87 L196.04 300.92 L199.3 301.93 L202.56 303.73 L205.82 305.48 L209.08 305.64 L212.34 307.7 L215.61 305 L218.87 307.12 L222.13 310.72 L225.39 309.34 L228.65 306.43 L231.91 309.82 L235.18 310.56 L238.44 311.62 L241.7 319.25" stroke="#454296" stroke-width="2.5" fill="none" stroke-linejoin="round"/>
<circle cx="46" cy="335.78" r="2.3" fill="#454296"/>
<circle cx="49.26" cy="337.53" r="2.3" fill="#454296"/>
<circle cx="52.52" cy="339.38" r="2.3" fill="#454296"/>
<circle cx="55.78" cy="337" r="2.3" fill="#454296"/>
<circle cx="59.05" cy="335.46" r="2.3" fill="#454296"/>
<circle cx="62.31" cy="338.11" r="2.3" fill="#454296"/>
<circle cx="65.57" cy="339.38" r="2.3" fill="#454296"/>
<circle cx="68.83" cy="338.01" r="2.3" fill="#454296"/>
<circle cx="72.09" cy="333.98" r="2.3" fill="#454296"/>
<circle cx="75.35" cy="337.79" r="2.3" fill="#454296"/>
<circle cx="78.62" cy="337.95" r="2.3" fill="#454296"/>
<circle cx="81.88" cy="334.67" r="2.3" fill="#454296"/>
<circle cx="85.14" cy="332.6" r="2.3" fill="#454296"/>
<circle cx="88.4" cy="334.93" r="2.3" fill="#454296"/>
<circle cx="91.66" cy="329.85" r="2.3" fill="#454296"/>
<circle cx="94.92" cy="332.44" r="2.3" fill="#454296"/>
<circle cx="98.19" cy="335.25" r="2.3" fill="#454296"/>
<circle cx="101.45" cy="332.65" r="2.3" fill="#454296"/>
<circle cx="104.71" cy="334.46" r="2.3" fill="#454296"/>
<circle cx="107.97" cy="327.25" r="2.3" fill="#454296"/>
<circle cx="111.23" cy="328.2" r="2.3" fill="#454296"/>
<circle cx="114.49" cy="324.02" r="2.3" fill="#454296"/>
<circle cx="117.76" cy="321.69" r="2.3" fill="#454296"/>
<circle cx="121.02" cy="319.57" r="2.3" fill="#454296"/>
<circle cx="124.28" cy="317.45" r="2.3" fill="#454296"/>
<circle cx="127.54" cy="316.92" r="2.3" fill="#454296"/>
<circle cx="130.8" cy="313.58" r="2.3" fill="#454296"/>
<circle cx="134.06" cy="309.4" r="2.3" fill="#454296"/>
<circle cx="137.33" cy="306.11" r="2.3" fill="#454296"/>
<circle cx="140.59" cy="307.54" r="2.3" fill="#454296"/>
<circle cx="143.85" cy="305.64" r="2.3" fill="#454296"/>
<circle cx="147.11" cy="303.46" r="2.3" fill="#454296"/>
<circle cx="150.37" cy="307.65" r="2.3" fill="#454296"/>
<circle cx="153.63" cy="299.07" r="2.3" fill="#454296"/>
<circle cx="156.9" cy="293.98" r="2.3" fill="#454296"/>
<circle cx="160.16" cy="295.3" r="2.3" fill="#454296"/>
<circle cx="163.42" cy="300.23" r="2.3" fill="#454296"/>
<circle cx="166.68" cy="295.62" r="2.3" fill="#454296"/>
<circle cx="169.94" cy="299.33" r="2.3" fill="#454296"/>
<circle cx="173.2" cy="297.05" r="2.3" fill="#454296"/>
<circle cx="176.47" cy="296.47" r="2.3" fill="#454296"/>
<circle cx="179.73" cy="300.23" r="2.3" fill="#454296"/>
<circle cx="182.99" cy="298.91" r="2.3" fill="#454296"/>
<circle cx="186.25" cy="298.91" r="2.3" fill="#454296"/>
<circle cx="189.51" cy="299.54" r="2.3" fill="#454296"/>
<circle cx="192.77" cy="301.87" r="2.3" fill="#454296"/>
<circle cx="196.04" cy="300.92" r="2.3" fill="#454296"/>
<circle cx="199.3" cy="301.93" r="2.3" fill="#454296"/>
<circle cx="202.56" cy="303.73" r="2.3" fill="#454296"/>
<circle cx="205.82" cy="305.48" r="2.3" fill="#454296"/>
<circle cx="209.08" cy="305.64" r="2.3" fill="#454296"/>
<circle cx="212.34" cy="307.7" r="2.3" fill="#454296"/>
<circle cx="215.61" cy="305" r="2.3" fill="#454296"/>
<circle cx="218.87" cy="307.12" r="2.3" fill="#454296"/>
<circle cx="222.13" cy="310.72" r="2.3" fill="#454296"/>
<circle cx="225.39" cy="309.34" r="2.3" fill="#454296"/>
<circle cx="228.65" cy="306.43" r="2.3" fill="#454296"/>
<circle cx="231.91" cy="309.82" r="2.3" fill="#454296"/>
<circle cx="235.18" cy="310.56" r="2.3" fill="#454296"/>
<circle cx="238.44" cy="311.62" r="2.3" fill="#454296"/>
<circle cx="241.7" cy="319.25" r="2.3" fill="#454296"/>
<line x1="316.9" y1="212.57" x2="316.9" y2="350" stroke="#000" stroke-width="1.85"/>
<line x1="315.97" y1="345" x2="515.52" y2="345" stroke="#000" stroke-width="1.85"/>
<line x1="311.9" y1="345" x2="316.9" y2="345" stroke="#000" stroke-width="1.85"/>
<text x="312.5" y="349.4" text-anchor="end" class="tk">0</text>
<line x1="311.9" y1="301.17" x2="316.9" y2="301.17" stroke="#000" stroke-width="1.85"/>
<text x="312.5" y="305.57" text-anchor="end" class="tk">50</text>
<line x1="311.9" y1="257.33" x2="316.9" y2="257.33" stroke="#000" stroke-width="1.85"/>
<text x="312.5" y="261.73" text-anchor="end" class="tk">100</text>
<line x1="311.9" y1="213.5" x2="316.9" y2="213.5" stroke="#000" stroke-width="1.85"/>
<text x="312.5" y="217.9" text-anchor="end" class="tk">150</text>
<line x1="316.9" y1="344.07" x2="316.9" y2="350" stroke="#000" stroke-width="1.85"/>
<text x="317.5" y="361.2" text-anchor="middle" class="tk">0</text>
<line x1="382.8" y1="344.07" x2="382.8" y2="350" stroke="#000" stroke-width="1.85"/>
<text x="383.4" y="361.2" text-anchor="middle" class="tk">20</text>
<line x1="448.7" y1="344.07" x2="448.7" y2="350" stroke="#000" stroke-width="1.85"/>
<text x="449.3" y="361.2" text-anchor="middle" class="tk">40</text>
<line x1="514.6" y1="344.07" x2="514.6" y2="350" stroke="#000" stroke-width="1.85"/>
<text x="515.2" y="361.2" text-anchor="middle" class="tk">60</text>
<text x="369.7" y="209" class="tt" textLength="86" lengthAdjust="spacingAndGlyphs">pRGD without Ca<tspan dy="-3" font-size="6">2+</tspan></text>
<text x="396" y="372.3" class="xl" textLength="48.6" lengthAdjust="spacingAndGlyphs">Time (min)</text>
<text transform="translate(283.7,279) rotate(-90)" text-anchor="middle" class="xl" textLength="21.6" lengthAdjust="spacingAndGlyphs">RLU</text>
<path d="M323.49 330.36V319.84M321.19 319.84H325.79" stroke="#dc7a78" stroke-width="1.4" fill="none"/>
<path d="M333.38 335.27V333.08M331.07 333.08H335.68" stroke="#dc7a78" stroke-width="1.4" fill="none"/>
<path d="M336.67 335.8V333.17M334.37 333.17H338.97" stroke="#dc7a78" stroke-width="1.4" fill="none"/>
<path d="M339.96 333.95V332.55M337.66 332.55H342.26" stroke="#dc7a78" stroke-width="1.4" fill="none"/>
<path d="M346.56 337.81V335.71M344.25 335.71H348.86" stroke="#dc7a78" stroke-width="1.4" fill="none"/>
<path d="M356.44 331.15V328.78M354.14 328.78H358.74" stroke="#dc7a78" stroke-width="1.4" fill="none"/>
<path d="M363.03 335.97V333.87M360.73 333.87H365.33" stroke="#dc7a78" stroke-width="1.4" fill="none"/>
<path d="M376.21 331.85V330.36M373.91 330.36H378.51" stroke="#dc7a78" stroke-width="1.4" fill="none"/>
<path d="M379.5 332.11V329.13M377.2 329.13H381.81" stroke="#dc7a78" stroke-width="1.4" fill="none"/>
<path d="M386.1 331.5V329.66M383.8 329.66H388.4" stroke="#dc7a78" stroke-width="1.4" fill="none"/>
<path d="M389.39 333.6V332.2M387.09 332.2H391.69" stroke="#dc7a78" stroke-width="1.4" fill="none"/>
<path d="M392.69 329.92V327.29M390.38 327.29H394.99" stroke="#dc7a78" stroke-width="1.4" fill="none"/>
<path d="M399.27 331.76V329.04M396.97 329.04H401.57" stroke="#dc7a78" stroke-width="1.4" fill="none"/>
<path d="M422.34 330.62V327.99M420.04 327.99H424.64" stroke="#dc7a78" stroke-width="1.4" fill="none"/>
<path d="M425.63 328.78V325.98M423.33 325.98H427.94" stroke="#dc7a78" stroke-width="1.4" fill="none"/>
<path d="M442.11 329.57V328.08M439.81 328.08H444.41" stroke="#dc7a78" stroke-width="1.4" fill="none"/>
<path d="M445.4 332.64V330.45M443.1 330.45H447.7" stroke="#dc7a78" stroke-width="1.4" fill="none"/>
<path d="M452 326.06V323.61M449.69 323.61H454.3" stroke="#dc7a78" stroke-width="1.4" fill="none"/>
<path d="M455.29 330.18V327.38M452.99 327.38H457.59" stroke="#dc7a78" stroke-width="1.4" fill="none"/>
<path d="M465.18 333.17V331.67M462.88 331.67H467.48" stroke="#dc7a78" stroke-width="1.4" fill="none"/>
<path d="M468.47 330.54V328.34M466.17 328.34H470.77" stroke="#dc7a78" stroke-width="1.4" fill="none"/>
<path d="M494.83 333.6V331.76M492.53 331.76H497.13" stroke="#dc7a78" stroke-width="1.4" fill="none"/>
<path d="M498.12 326.59V323.78M495.82 323.78H500.43" stroke="#dc7a78" stroke-width="1.4" fill="none"/>
<path d="M511.31 327.9V325.19M509.01 325.19H513.61" stroke="#dc7a78" stroke-width="1.4" fill="none"/>
<path d="M316.9 332.2 L320.19 327.12 L323.49 330.36 L326.78 335.62 L330.08 339.04 L333.38 335.27 L336.67 335.8 L339.96 333.95 L343.26 334.22 L346.56 337.81 L349.85 341.49 L353.14 335.71 L356.44 331.15 L359.74 331.41 L363.03 335.97 L366.32 335.71 L369.62 334.3 L372.91 329.66 L376.21 331.85 L379.5 332.11 L382.8 334.92 L386.1 331.5 L389.39 333.6 L392.69 329.92 L395.98 330.01 L399.27 331.76 L402.57 332.11 L405.87 327.47 L409.16 333.52 L412.45 327.47 L415.75 330.97 L419.05 328.17 L422.34 330.62 L425.63 328.78 L428.93 329.66 L432.23 327.99 L435.52 332.29 L438.81 329.04 L442.11 329.57 L445.4 332.64 L448.7 333.08 L452 326.06 L455.29 330.18 L458.59 326.06 L461.88 327.73 L465.18 333.17 L468.47 330.54 L471.76 334.13 L475.06 326.06 L478.36 333.95 L481.65 331.06 L484.95 325.36 L488.24 329.22 L491.54 331.06 L494.83 333.6 L498.12 326.59 L501.42 330.97 L504.72 332.46 L508.01 330.54 L511.31 327.9 L514.6 326.94" stroke="#dc7a78" stroke-width="2.8" fill="none" stroke-linejoin="round" stroke-dasharray="3 1.5"/>
<circle cx="316.9" cy="332.2" r="2.3" fill="#dc7a78"/>
<circle cx="320.19" cy="327.12" r="2.3" fill="#dc7a78"/>
<circle cx="323.49" cy="330.36" r="2.3" fill="#dc7a78"/>
<circle cx="326.78" cy="335.62" r="2.3" fill="#dc7a78"/>
<circle cx="330.08" cy="339.04" r="2.3" fill="#dc7a78"/>
<circle cx="333.38" cy="335.27" r="2.3" fill="#dc7a78"/>
<circle cx="336.67" cy="335.8" r="2.3" fill="#dc7a78"/>
<circle cx="339.96" cy="333.95" r="2.3" fill="#dc7a78"/>
<circle cx="343.26" cy="334.22" r="2.3" fill="#dc7a78"/>
<circle cx="346.56" cy="337.81" r="2.3" fill="#dc7a78"/>
<circle cx="349.85" cy="341.49" r="2.3" fill="#dc7a78"/>
<circle cx="353.14" cy="335.71" r="2.3" fill="#dc7a78"/>
<circle cx="356.44" cy="331.15" r="2.3" fill="#dc7a78"/>
<circle cx="359.74" cy="331.41" r="2.3" fill="#dc7a78"/>
<circle cx="363.03" cy="335.97" r="2.3" fill="#dc7a78"/>
<circle cx="366.32" cy="335.71" r="2.3" fill="#dc7a78"/>
<circle cx="369.62" cy="334.3" r="2.3" fill="#dc7a78"/>
<circle cx="372.91" cy="329.66" r="2.3" fill="#dc7a78"/>
<circle cx="376.21" cy="331.85" r="2.3" fill="#dc7a78"/>
<circle cx="379.5" cy="332.11" r="2.3" fill="#dc7a78"/>
<circle cx="382.8" cy="334.92" r="2.3" fill="#dc7a78"/>
<circle cx="386.1" cy="331.5" r="2.3" fill="#dc7a78"/>
<circle cx="389.39" cy="333.6" r="2.3" fill="#dc7a78"/>
<circle cx="392.69" cy="329.92" r="2.3" fill="#dc7a78"/>
<circle cx="395.98" cy="330.01" r="2.3" fill="#dc7a78"/>
<circle cx="399.27" cy="331.76" r="2.3" fill="#dc7a78"/>
<circle cx="402.57" cy="332.11" r="2.3" fill="#dc7a78"/>
<circle cx="405.87" cy="327.47" r="2.3" fill="#dc7a78"/>
<circle cx="409.16" cy="333.52" r="2.3" fill="#dc7a78"/>
<circle cx="412.45" cy="327.47" r="2.3" fill="#dc7a78"/>
<circle cx="415.75" cy="330.97" r="2.3" fill="#dc7a78"/>
<circle cx="419.05" cy="328.17" r="2.3" fill="#dc7a78"/>
<circle cx="422.34" cy="330.62" r="2.3" fill="#dc7a78"/>
<circle cx="425.63" cy="328.78" r="2.3" fill="#dc7a78"/>
<circle cx="428.93" cy="329.66" r="2.3" fill="#dc7a78"/>
<circle cx="432.23" cy="327.99" r="2.3" fill="#dc7a78"/>
<circle cx="435.52" cy="332.29" r="2.3" fill="#dc7a78"/>
<circle cx="438.81" cy="329.04" r="2.3" fill="#dc7a78"/>
<circle cx="442.11" cy="329.57" r="2.3" fill="#dc7a78"/>
<circle cx="445.4" cy="332.64" r="2.3" fill="#dc7a78"/>
<circle cx="448.7" cy="333.08" r="2.3" fill="#dc7a78"/>
<circle cx="452" cy="326.06" r="2.3" fill="#dc7a78"/>
<circle cx="455.29" cy="330.18" r="2.3" fill="#dc7a78"/>
<circle cx="458.59" cy="326.06" r="2.3" fill="#dc7a78"/>
<circle cx="461.88" cy="327.73" r="2.3" fill="#dc7a78"/>
<circle cx="465.18" cy="333.17" r="2.3" fill="#dc7a78"/>
<circle cx="468.47" cy="330.54" r="2.3" fill="#dc7a78"/>
<circle cx="471.76" cy="334.13" r="2.3" fill="#dc7a78"/>
<circle cx="475.06" cy="326.06" r="2.3" fill="#dc7a78"/>
<circle cx="478.36" cy="333.95" r="2.3" fill="#dc7a78"/>
<circle cx="481.65" cy="331.06" r="2.3" fill="#dc7a78"/>
<circle cx="484.95" cy="325.36" r="2.3" fill="#dc7a78"/>
<circle cx="488.24" cy="329.22" r="2.3" fill="#dc7a78"/>
<circle cx="491.54" cy="331.06" r="2.3" fill="#dc7a78"/>
<circle cx="494.83" cy="333.6" r="2.3" fill="#dc7a78"/>
<circle cx="498.12" cy="326.59" r="2.3" fill="#dc7a78"/>
<circle cx="501.42" cy="330.97" r="2.3" fill="#dc7a78"/>
<circle cx="504.72" cy="332.46" r="2.3" fill="#dc7a78"/>
<circle cx="508.01" cy="330.54" r="2.3" fill="#dc7a78"/>
<circle cx="511.31" cy="327.9" r="2.3" fill="#dc7a78"/>
<circle cx="514.6" cy="326.94" r="2.3" fill="#dc7a78"/>
<path d="M316.9 335.71V334.22M314.6 334.22H319.2" stroke="#9fcfee" stroke-width="1.4" fill="none"/>
<path d="M323.49 333.08V330.1M321.19 330.1H325.79" stroke="#9fcfee" stroke-width="1.4" fill="none"/>
<path d="M333.38 332.55V329.83M331.07 329.83H335.68" stroke="#9fcfee" stroke-width="1.4" fill="none"/>
<path d="M336.67 333.87V331.24M334.37 331.24H338.97" stroke="#9fcfee" stroke-width="1.4" fill="none"/>
<path d="M349.85 336.32V334.04M347.55 334.04H352.15" stroke="#9fcfee" stroke-width="1.4" fill="none"/>
<path d="M353.14 334.74V333.43M350.84 333.43H355.44" stroke="#9fcfee" stroke-width="1.4" fill="none"/>
<path d="M356.44 335.18V332.55M354.14 332.55H358.74" stroke="#9fcfee" stroke-width="1.4" fill="none"/>
<path d="M379.5 328.87V326.5M377.2 326.5H381.81" stroke="#9fcfee" stroke-width="1.4" fill="none"/>
<path d="M392.69 329.48V327.73M390.38 327.73H394.99" stroke="#9fcfee" stroke-width="1.4" fill="none"/>
<path d="M395.98 328.78V327.47M393.68 327.47H398.28" stroke="#9fcfee" stroke-width="1.4" fill="none"/>
<path d="M405.87 328.96V327.03M403.56 327.03H408.17" stroke="#9fcfee" stroke-width="1.4" fill="none"/>
<path d="M409.16 330.62V328.96M406.86 328.96H411.46" stroke="#9fcfee" stroke-width="1.4" fill="none"/>
<path d="M415.75 332.29V329.66M413.45 329.66H418.05" stroke="#9fcfee" stroke-width="1.4" fill="none"/>
<path d="M425.63 328.87V325.98M423.33 325.98H427.94" stroke="#9fcfee" stroke-width="1.4" fill="none"/>
<path d="M428.93 330.1V328.26M426.63 328.26H431.23" stroke="#9fcfee" stroke-width="1.4" fill="none"/>
<path d="M432.23 330.27V328.43M429.93 328.43H434.53" stroke="#9fcfee" stroke-width="1.4" fill="none"/>
<path d="M435.52 330.54V329.13M433.22 329.13H437.82" stroke="#9fcfee" stroke-width="1.4" fill="none"/>
<path d="M455.29 328.78V326.68M452.99 326.68H457.59" stroke="#9fcfee" stroke-width="1.4" fill="none"/>
<path d="M458.59 328.87V326.94M456.29 326.94H460.89" stroke="#9fcfee" stroke-width="1.4" fill="none"/>
<path d="M461.88 328.43V325.89M459.58 325.89H464.18" stroke="#9fcfee" stroke-width="1.4" fill="none"/>
<path d="M468.47 330.27V327.38M466.17 327.38H470.77" stroke="#9fcfee" stroke-width="1.4" fill="none"/>
<path d="M471.76 329.48V326.59M469.46 326.59H474.06" stroke="#9fcfee" stroke-width="1.4" fill="none"/>
<path d="M478.36 328.17V326.06M476.06 326.06H480.66" stroke="#9fcfee" stroke-width="1.4" fill="none"/>
<path d="M481.65 330.89V328.08M479.35 328.08H483.95" stroke="#9fcfee" stroke-width="1.4" fill="none"/>
<path d="M488.24 328.26V325.98M485.94 325.98H490.54" stroke="#9fcfee" stroke-width="1.4" fill="none"/>
<path d="M498.12 326.68V323.87M495.82 323.87H500.43" stroke="#9fcfee" stroke-width="1.4" fill="none"/>
<path d="M501.42 327.64V324.57M499.12 324.57H503.72" stroke="#9fcfee" stroke-width="1.4" fill="none"/>
<path d="M511.31 327.12V325.63M509.01 325.63H513.61" stroke="#9fcfee" stroke-width="1.4" fill="none"/>
<path d="M316.9 335.71 L320.19 336.32 L323.49 333.08 L326.78 335.18 L330.08 332.29 L333.38 332.55 L336.67 333.87 L339.96 331.67 L343.26 333.08 L346.56 332.73 L349.85 336.32 L353.14 334.74 L356.44 335.18 L359.74 334.39 L363.03 331.32 L366.32 329.04 L369.62 332.46 L372.91 330.45 L376.21 332.29 L379.5 328.87 L382.8 332.64 L386.1 329.04 L389.39 331.41 L392.69 329.48 L395.98 328.78 L399.27 328.61 L402.57 330.18 L405.87 328.96 L409.16 330.62 L412.45 330.89 L415.75 332.29 L419.05 330.97 L422.34 331.67 L425.63 328.87 L428.93 330.1 L432.23 330.27 L435.52 330.54 L438.81 330.89 L442.11 329.92 L445.4 327.29 L448.7 327.64 L452 327.82 L455.29 328.78 L458.59 328.87 L461.88 328.43 L465.18 327.03 L468.47 330.27 L471.76 329.48 L475.06 327.03 L478.36 328.17 L481.65 330.89 L484.95 328.43 L488.24 328.26 L491.54 331.06 L494.83 326.94 L498.12 326.68 L501.42 327.64 L504.72 329.48 L508.01 326.94 L511.31 327.12 L514.6 330.01" stroke="#9fcfee" stroke-width="3.4" fill="none" stroke-linejoin="round"/>
<circle cx="316.9" cy="335.71" r="2.3" fill="#9fcfee"/>
<circle cx="320.19" cy="336.32" r="2.3" fill="#9fcfee"/>
<circle cx="323.49" cy="333.08" r="2.3" fill="#9fcfee"/>
<circle cx="326.78" cy="335.18" r="2.3" fill="#9fcfee"/>
<circle cx="330.08" cy="332.29" r="2.3" fill="#9fcfee"/>
<circle cx="333.38" cy="332.55" r="2.3" fill="#9fcfee"/>
<circle cx="336.67" cy="333.87" r="2.3" fill="#9fcfee"/>
<circle cx="339.96" cy="331.67" r="2.3" fill="#9fcfee"/>
<circle cx="343.26" cy="333.08" r="2.3" fill="#9fcfee"/>
<circle cx="346.56" cy="332.73" r="2.3" fill="#9fcfee"/>
<circle cx="349.85" cy="336.32" r="2.3" fill="#9fcfee"/>
<circle cx="353.14" cy="334.74" r="2.3" fill="#9fcfee"/>
<circle cx="356.44" cy="335.18" r="2.3" fill="#9fcfee"/>
<circle cx="359.74" cy="334.39" r="2.3" fill="#9fcfee"/>
<circle cx="363.03" cy="331.32" r="2.3" fill="#9fcfee"/>
<circle cx="366.32" cy="329.04" r="2.3" fill="#9fcfee"/>
<circle cx="369.62" cy="332.46" r="2.3" fill="#9fcfee"/>
<circle cx="372.91" cy="330.45" r="2.3" fill="#9fcfee"/>
<circle cx="376.21" cy="332.29" r="2.3" fill="#9fcfee"/>
<circle cx="379.5" cy="328.87" r="2.3" fill="#9fcfee"/>
<circle cx="382.8" cy="332.64" r="2.3" fill="#9fcfee"/>
<circle cx="386.1" cy="329.04" r="2.3" fill="#9fcfee"/>
<circle cx="389.39" cy="331.41" r="2.3" fill="#9fcfee"/>
<circle cx="392.69" cy="329.48" r="2.3" fill="#9fcfee"/>
<circle cx="395.98" cy="328.78" r="2.3" fill="#9fcfee"/>
<circle cx="399.27" cy="328.61" r="2.3" fill="#9fcfee"/>
<circle cx="402.57" cy="330.18" r="2.3" fill="#9fcfee"/>
<circle cx="405.87" cy="328.96" r="2.3" fill="#9fcfee"/>
<circle cx="409.16" cy="330.62" r="2.3" fill="#9fcfee"/>
<circle cx="412.45" cy="330.89" r="2.3" fill="#9fcfee"/>
<circle cx="415.75" cy="332.29" r="2.3" fill="#9fcfee"/>
<circle cx="419.05" cy="330.97" r="2.3" fill="#9fcfee"/>
<circle cx="422.34" cy="331.67" r="2.3" fill="#9fcfee"/>
<circle cx="425.63" cy="328.87" r="2.3" fill="#9fcfee"/>
<circle cx="428.93" cy="330.1" r="2.3" fill="#9fcfee"/>
<circle cx="432.23" cy="330.27" r="2.3" fill="#9fcfee"/>
<circle cx="435.52" cy="330.54" r="2.3" fill="#9fcfee"/>
<circle cx="438.81" cy="330.89" r="2.3" fill="#9fcfee"/>
<circle cx="442.11" cy="329.92" r="2.3" fill="#9fcfee"/>
<circle cx="445.4" cy="327.29" r="2.3" fill="#9fcfee"/>
<circle cx="448.7" cy="327.64" r="2.3" fill="#9fcfee"/>
<circle cx="452" cy="327.82" r="2.3" fill="#9fcfee"/>
<circle cx="455.29" cy="328.78" r="2.3" fill="#9fcfee"/>
<circle cx="458.59" cy="328.87" r="2.3" fill="#9fcfee"/>
<circle cx="461.88" cy="328.43" r="2.3" fill="#9fcfee"/>
<circle cx="465.18" cy="327.03" r="2.3" fill="#9fcfee"/>
<circle cx="468.47" cy="330.27" r="2.3" fill="#9fcfee"/>
<circle cx="471.76" cy="329.48" r="2.3" fill="#9fcfee"/>
<circle cx="475.06" cy="327.03" r="2.3" fill="#9fcfee"/>
<circle cx="478.36" cy="328.17" r="2.3" fill="#9fcfee"/>
<circle cx="481.65" cy="330.89" r="2.3" fill="#9fcfee"/>
<circle cx="484.95" cy="328.43" r="2.3" fill="#9fcfee"/>
<circle cx="488.24" cy="328.26" r="2.3" fill="#9fcfee"/>
<circle cx="491.54" cy="331.06" r="2.3" fill="#9fcfee"/>
<circle cx="494.83" cy="326.94" r="2.3" fill="#9fcfee"/>
<circle cx="498.12" cy="326.68" r="2.3" fill="#9fcfee"/>
<circle cx="501.42" cy="327.64" r="2.3" fill="#9fcfee"/>
<circle cx="504.72" cy="329.48" r="2.3" fill="#9fcfee"/>
<circle cx="508.01" cy="326.94" r="2.3" fill="#9fcfee"/>
<circle cx="511.31" cy="327.12" r="2.3" fill="#9fcfee"/>
<circle cx="514.6" cy="330.01" r="2.3" fill="#9fcfee"/>
<path d="M316.9 334.04V329.83M314.4 329.83H319.4" stroke="#bf2824" stroke-width="1.4" fill="none"/>
<path d="M320.19 332.9V329.04M317.69 329.04H322.69" stroke="#bf2824" stroke-width="1.4" fill="none"/>
<path d="M323.49 329.83V326.5M320.99 326.5H325.99" stroke="#bf2824" stroke-width="1.4" fill="none"/>
<path d="M326.78 334.04V329.04M324.28 329.04H329.28" stroke="#bf2824" stroke-width="1.4" fill="none"/>
<path d="M336.67 330.18V325.45M334.17 325.45H339.17" stroke="#bf2824" stroke-width="1.4" fill="none"/>
<path d="M343.26 332.46V330.01M340.76 330.01H345.76" stroke="#bf2824" stroke-width="1.4" fill="none"/>
<path d="M346.56 329.92V325.8M344.06 325.8H349.06" stroke="#bf2824" stroke-width="1.4" fill="none"/>
<path d="M349.85 329.57V324.31M347.35 324.31H352.35" stroke="#bf2824" stroke-width="1.4" fill="none"/>
<path d="M353.14 327.55V322.03M350.64 322.03H355.64" stroke="#bf2824" stroke-width="1.4" fill="none"/>
<path d="M363.03 320.8V316.77M360.53 316.77H365.53" stroke="#bf2824" stroke-width="1.4" fill="none"/>
<path d="M372.91 307.13V301.78M370.41 301.78H375.41" stroke="#bf2824" stroke-width="1.4" fill="none"/>
<path d="M376.21 302.04V296.7M373.71 296.7H378.71" stroke="#bf2824" stroke-width="1.4" fill="none"/>
<path d="M379.5 298.36V291.87M377 291.87H382" stroke="#bf2824" stroke-width="1.4" fill="none"/>
<path d="M386.1 287.4V280.13M383.6 280.13H388.6" stroke="#bf2824" stroke-width="1.4" fill="none"/>
<path d="M402.57 278.46V271.1M400.07 271.1H405.07" stroke="#bf2824" stroke-width="1.4" fill="none"/>
<path d="M409.16 266.8V258.3M406.66 258.3H411.66" stroke="#bf2824" stroke-width="1.4" fill="none"/>
<path d="M415.75 264.7V256.81M413.25 256.81H418.25" stroke="#bf2824" stroke-width="1.4" fill="none"/>
<path d="M419.05 271.71V263.65M416.55 263.65H421.55" stroke="#bf2824" stroke-width="1.4" fill="none"/>
<path d="M422.34 270.48V262.77M419.84 262.77H424.84" stroke="#bf2824" stroke-width="1.4" fill="none"/>
<path d="M425.63 278.46V272.59M423.13 272.59H428.13" stroke="#bf2824" stroke-width="1.4" fill="none"/>
<path d="M432.23 284.07V277.67M429.73 277.67H434.73" stroke="#bf2824" stroke-width="1.4" fill="none"/>
<path d="M435.52 292.75V285.91M433.02 285.91H438.02" stroke="#bf2824" stroke-width="1.4" fill="none"/>
<path d="M445.4 291.52V287.49M442.9 287.49H447.9" stroke="#bf2824" stroke-width="1.4" fill="none"/>
<path d="M448.7 294.33V288.28M446.2 288.28H451.2" stroke="#bf2824" stroke-width="1.4" fill="none"/>
<path d="M452 295.82V289.33M449.5 289.33H454.5" stroke="#bf2824" stroke-width="1.4" fill="none"/>
<path d="M461.88 310.72V306.16M459.38 306.16H464.38" stroke="#bf2824" stroke-width="1.4" fill="none"/>
<path d="M468.47 302.13V295.47M465.97 295.47H470.97" stroke="#bf2824" stroke-width="1.4" fill="none"/>
<path d="M471.76 304.94V300.99M469.26 300.99H474.26" stroke="#bf2824" stroke-width="1.4" fill="none"/>
<path d="M475.06 306.34V303.01M472.56 303.01H477.56" stroke="#bf2824" stroke-width="1.4" fill="none"/>
<path d="M478.36 304.85V299.06M475.86 299.06H480.86" stroke="#bf2824" stroke-width="1.4" fill="none"/>
<path d="M481.65 308.18V304.06M479.15 304.06H484.15" stroke="#bf2824" stroke-width="1.4" fill="none"/>
<path d="M484.95 308.71V304.15M482.45 304.15H487.45" stroke="#bf2824" stroke-width="1.4" fill="none"/>
<path d="M494.83 317.38V311.6M492.33 311.6H497.33" stroke="#bf2824" stroke-width="1.4" fill="none"/>
<path d="M504.72 318V312.04M502.22 312.04H507.22" stroke="#bf2824" stroke-width="1.4" fill="none"/>
<path d="M511.31 313.62V308.44M508.81 308.44H513.81" stroke="#bf2824" stroke-width="1.4" fill="none"/>
<path d="M316.9 334.04 L320.19 332.9 L323.49 329.83 L326.78 334.04 L330.08 331.32 L333.38 334.13 L336.67 330.18 L339.96 333.69 L343.26 332.46 L346.56 329.92 L349.85 329.57 L353.14 327.55 L356.44 323.08 L359.74 323.43 L363.03 320.8 L366.32 309.58 L369.62 308.71 L372.91 307.13 L376.21 302.04 L379.5 298.36 L382.8 295.21 L386.1 287.4 L389.39 289.33 L392.69 285.12 L395.98 278.81 L399.27 280.13 L402.57 278.46 L405.87 269.96 L409.16 266.8 L412.45 268.38 L415.75 264.7 L419.05 271.71 L422.34 270.48 L425.63 278.46 L428.93 281.09 L432.23 284.07 L435.52 292.75 L438.81 282.84 L442.11 287.23 L445.4 291.52 L448.7 294.33 L452 295.82 L455.29 296.17 L458.59 302.13 L461.88 310.72 L465.18 303.36 L468.47 302.13 L471.76 304.94 L475.06 306.34 L478.36 304.85 L481.65 308.18 L484.95 308.71 L488.24 306.25 L491.54 311.86 L494.83 317.38 L498.12 307.04 L501.42 314.93 L504.72 318 L508.01 311.69 L511.31 313.62 L514.6 319.4" stroke="#bf2824" stroke-width="2.5" fill="none" stroke-linejoin="round"/>
<circle cx="316.9" cy="334.04" r="2.3" fill="#bf2824"/>
<circle cx="320.19" cy="332.9" r="2.3" fill="#bf2824"/>
<circle cx="323.49" cy="329.83" r="2.3" fill="#bf2824"/>
<circle cx="326.78" cy="334.04" r="2.3" fill="#bf2824"/>
<circle cx="330.08" cy="331.32" r="2.3" fill="#bf2824"/>
<circle cx="333.38" cy="334.13" r="2.3" fill="#bf2824"/>
<circle cx="336.67" cy="330.18" r="2.3" fill="#bf2824"/>
<circle cx="339.96" cy="333.69" r="2.3" fill="#bf2824"/>
<circle cx="343.26" cy="332.46" r="2.3" fill="#bf2824"/>
<circle cx="346.56" cy="329.92" r="2.3" fill="#bf2824"/>
<circle cx="349.85" cy="329.57" r="2.3" fill="#bf2824"/>
<circle cx="353.14" cy="327.55" r="2.3" fill="#bf2824"/>
<circle cx="356.44" cy="323.08" r="2.3" fill="#bf2824"/>
<circle cx="359.74" cy="323.43" r="2.3" fill="#bf2824"/>
<circle cx="363.03" cy="320.8" r="2.3" fill="#bf2824"/>
<circle cx="366.32" cy="309.58" r="2.3" fill="#bf2824"/>
<circle cx="369.62" cy="308.71" r="2.3" fill="#bf2824"/>
<circle cx="372.91" cy="307.13" r="2.3" fill="#bf2824"/>
<circle cx="376.21" cy="302.04" r="2.3" fill="#bf2824"/>
<circle cx="379.5" cy="298.36" r="2.3" fill="#bf2824"/>
<circle cx="382.8" cy="295.21" r="2.3" fill="#bf2824"/>
<circle cx="386.1" cy="287.4" r="2.3" fill="#bf2824"/>
<circle cx="389.39" cy="289.33" r="2.3" fill="#bf2824"/>
<circle cx="392.69" cy="285.12" r="2.3" fill="#bf2824"/>
<circle cx="395.98" cy="278.81" r="2.3" fill="#bf2824"/>
<circle cx="399.27" cy="280.13" r="2.3" fill="#bf2824"/>
<circle cx="402.57" cy="278.46" r="2.3" fill="#bf2824"/>
<circle cx="405.87" cy="269.96" r="2.3" fill="#bf2824"/>
<circle cx="409.16" cy="266.8" r="2.3" fill="#bf2824"/>
<circle cx="412.45" cy="268.38" r="2.3" fill="#bf2824"/>
<circle cx="415.75" cy="264.7" r="2.3" fill="#bf2824"/>
<circle cx="419.05" cy="271.71" r="2.3" fill="#bf2824"/>
<circle cx="422.34" cy="270.48" r="2.3" fill="#bf2824"/>
<circle cx="425.63" cy="278.46" r="2.3" fill="#bf2824"/>
<circle cx="428.93" cy="281.09" r="2.3" fill="#bf2824"/>
<circle cx="432.23" cy="284.07" r="2.3" fill="#bf2824"/>
<circle cx="435.52" cy="292.75" r="2.3" fill="#bf2824"/>
<circle cx="438.81" cy="282.84" r="2.3" fill="#bf2824"/>
<circle cx="442.11" cy="287.23" r="2.3" fill="#bf2824"/>
<circle cx="445.4" cy="291.52" r="2.3" fill="#bf2824"/>
<circle cx="448.7" cy="294.33" r="2.3" fill="#bf2824"/>
<circle cx="452" cy="295.82" r="2.3" fill="#bf2824"/>
<circle cx="455.29" cy="296.17" r="2.3" fill="#bf2824"/>
<circle cx="458.59" cy="302.13" r="2.3" fill="#bf2824"/>
<circle cx="461.88" cy="310.72" r="2.3" fill="#bf2824"/>
<circle cx="465.18" cy="303.36" r="2.3" fill="#bf2824"/>
<circle cx="468.47" cy="302.13" r="2.3" fill="#bf2824"/>
<circle cx="471.76" cy="304.94" r="2.3" fill="#bf2824"/>
<circle cx="475.06" cy="306.34" r="2.3" fill="#bf2824"/>
<circle cx="478.36" cy="304.85" r="2.3" fill="#bf2824"/>
<circle cx="481.65" cy="308.18" r="2.3" fill="#bf2824"/>
<circle cx="484.95" cy="308.71" r="2.3" fill="#bf2824"/>
<circle cx="488.24" cy="306.25" r="2.3" fill="#bf2824"/>
<circle cx="491.54" cy="311.86" r="2.3" fill="#bf2824"/>
<circle cx="494.83" cy="317.38" r="2.3" fill="#bf2824"/>
<circle cx="498.12" cy="307.04" r="2.3" fill="#bf2824"/>
<circle cx="501.42" cy="314.93" r="2.3" fill="#bf2824"/>
<circle cx="504.72" cy="318" r="2.3" fill="#bf2824"/>
<circle cx="508.01" cy="311.69" r="2.3" fill="#bf2824"/>
<circle cx="511.31" cy="313.62" r="2.3" fill="#bf2824"/>
<circle cx="514.6" cy="319.4" r="2.3" fill="#bf2824"/>
<path d="M320.19 331.06V326.33M317.69 326.33H322.69" stroke="#454296" stroke-width="1.4" fill="none"/>
<path d="M323.49 331.76V327.64M320.99 327.64H325.99" stroke="#454296" stroke-width="1.4" fill="none"/>
<path d="M330.08 329.92V326.15M327.58 326.15H332.58" stroke="#454296" stroke-width="1.4" fill="none"/>
<path d="M336.67 331.59V329.04M334.17 329.04H339.17" stroke="#454296" stroke-width="1.4" fill="none"/>
<path d="M339.96 331.15V325.63M337.46 325.63H342.46" stroke="#454296" stroke-width="1.4" fill="none"/>
<path d="M343.26 331.67V326.5M340.76 326.5H345.76" stroke="#454296" stroke-width="1.4" fill="none"/>
<path d="M346.56 329.57V325.01M344.06 325.01H349.06" stroke="#454296" stroke-width="1.4" fill="none"/>
<path d="M349.85 326.77V321.24M347.35 321.24H352.35" stroke="#454296" stroke-width="1.4" fill="none"/>
<path d="M353.14 322.12V319.66M350.64 319.66H355.64" stroke="#454296" stroke-width="1.4" fill="none"/>
<path d="M356.44 323.7V318.35M353.94 318.35H358.94" stroke="#454296" stroke-width="1.4" fill="none"/>
<path d="M359.74 316.51V311.6M357.24 311.6H362.24" stroke="#454296" stroke-width="1.4" fill="none"/>
<path d="M363.03 317.47V312.04M360.53 312.04H365.53" stroke="#454296" stroke-width="1.4" fill="none"/>
<path d="M366.32 313.97V308.44M363.82 308.44H368.82" stroke="#454296" stroke-width="1.4" fill="none"/>
<path d="M376.21 313.44V310.28M373.71 310.28H378.71" stroke="#454296" stroke-width="1.4" fill="none"/>
<path d="M379.5 311.51V308.27M377 308.27H382" stroke="#454296" stroke-width="1.4" fill="none"/>
<path d="M382.8 304.24V298.19M380.3 298.19H385.3" stroke="#454296" stroke-width="1.4" fill="none"/>
<path d="M386.1 301.08V294.77M383.6 294.77H388.6" stroke="#454296" stroke-width="1.4" fill="none"/>
<path d="M399.27 283.37V277.41M396.77 277.41H401.77" stroke="#454296" stroke-width="1.4" fill="none"/>
<path d="M402.57 288.37V283.11M400.07 283.11H405.07" stroke="#454296" stroke-width="1.4" fill="none"/>
<path d="M405.87 285.91V279.6M403.37 279.6H408.37" stroke="#454296" stroke-width="1.4" fill="none"/>
<path d="M419.05 295.47V288.54M416.55 288.54H421.55" stroke="#454296" stroke-width="1.4" fill="none"/>
<path d="M425.63 292.58V285.21M423.13 285.21H428.13" stroke="#454296" stroke-width="1.4" fill="none"/>
<path d="M428.93 287.23V281.53M426.43 281.53H431.43" stroke="#454296" stroke-width="1.4" fill="none"/>
<path d="M432.23 288.63V284.42M429.73 284.42H434.73" stroke="#454296" stroke-width="1.4" fill="none"/>
<path d="M438.81 284.25V278.72M436.31 278.72H441.31" stroke="#454296" stroke-width="1.4" fill="none"/>
<path d="M442.11 289.77V284.07M439.61 284.07H444.61" stroke="#454296" stroke-width="1.4" fill="none"/>
<path d="M448.7 294.5V290.56M446.2 290.56H451.2" stroke="#454296" stroke-width="1.4" fill="none"/>
<path d="M455.29 294.33V290.3M452.79 290.3H457.79" stroke="#454296" stroke-width="1.4" fill="none"/>
<path d="M458.59 296.52V292.66M456.09 292.66H461.09" stroke="#454296" stroke-width="1.4" fill="none"/>
<path d="M461.88 299.59V294.85M459.38 294.85H464.38" stroke="#454296" stroke-width="1.4" fill="none"/>
<path d="M468.47 304.32V300.55M465.97 300.55H470.97" stroke="#454296" stroke-width="1.4" fill="none"/>
<path d="M475.06 301.17V297.13M472.56 297.13H477.56" stroke="#454296" stroke-width="1.4" fill="none"/>
<path d="M478.36 303.1V296.96M475.86 296.96H480.86" stroke="#454296" stroke-width="1.4" fill="none"/>
<path d="M484.95 308.18V304.15M482.45 304.15H487.45" stroke="#454296" stroke-width="1.4" fill="none"/>
<path d="M488.24 303.53V297.92M485.74 297.92H490.74" stroke="#454296" stroke-width="1.4" fill="none"/>
<path d="M491.54 303.53V296.78M489.04 296.78H494.04" stroke="#454296" stroke-width="1.4" fill="none"/>
<path d="M498.12 311.16V305.46M495.62 305.46H500.62" stroke="#454296" stroke-width="1.4" fill="none"/>
<path d="M501.42 311.34V306.34M498.92 306.34H503.92" stroke="#454296" stroke-width="1.4" fill="none"/>
<path d="M504.72 311.42V305.81M502.22 305.81H507.22" stroke="#454296" stroke-width="1.4" fill="none"/>
<path d="M511.31 311.69V306.43M508.81 306.43H513.81" stroke="#454296" stroke-width="1.4" fill="none"/>
<path d="M316.9 334.3 L320.19 331.06 L323.49 331.76 L326.78 332.81 L330.08 329.92 L333.38 330.71 L336.67 331.59 L339.96 331.15 L343.26 331.67 L346.56 329.57 L349.85 326.77 L353.14 322.12 L356.44 323.7 L359.74 316.51 L363.03 317.47 L366.32 313.97 L369.62 313.44 L372.91 311.25 L376.21 313.44 L379.5 311.51 L382.8 304.24 L386.1 301.08 L389.39 301.52 L392.69 294.68 L395.98 286.79 L399.27 283.37 L402.57 288.37 L405.87 285.91 L409.16 286.53 L412.45 283.9 L415.75 293.19 L419.05 295.47 L422.34 292.49 L425.63 292.58 L428.93 287.23 L432.23 288.63 L435.52 286.88 L438.81 284.25 L442.11 289.77 L445.4 294.77 L448.7 294.5 L452 297.13 L455.29 294.33 L458.59 296.52 L461.88 299.59 L465.18 300.9 L468.47 304.32 L471.76 301.96 L475.06 301.17 L478.36 303.1 L481.65 308.44 L484.95 308.18 L488.24 303.53 L491.54 303.53 L494.83 304.41 L498.12 311.16 L501.42 311.34 L504.72 311.42 L508.01 309.14 L511.31 311.69 L514.6 314.05" stroke="#454296" stroke-width="2.5" fill="none" stroke-linejoin="round"/>
<circle cx="316.9" cy="334.3" r="2.3" fill="#454296"/>
<circle cx="320.19" cy="331.06" r="2.3" fill="#454296"/>
<circle cx="323.49" cy="331.76" r="2.3" fill="#454296"/>
<circle cx="326.78" cy="332.81" r="2.3" fill="#454296"/>
<circle cx="330.08" cy="329.92" r="2.3" fill="#454296"/>
<circle cx="333.38" cy="330.71" r="2.3" fill="#454296"/>
<circle cx="336.67" cy="331.59" r="2.3" fill="#454296"/>
<circle cx="339.96" cy="331.15" r="2.3" fill="#454296"/>
<circle cx="343.26" cy="331.67" r="2.3" fill="#454296"/>
<circle cx="346.56" cy="329.57" r="2.3" fill="#454296"/>
<circle cx="349.85" cy="326.77" r="2.3" fill="#454296"/>
<circle cx="353.14" cy="322.12" r="2.3" fill="#454296"/>
<circle cx="356.44" cy="323.7" r="2.3" fill="#454296"/>
<circle cx="359.74" cy="316.51" r="2.3" fill="#454296"/>
<circle cx="363.03" cy="317.47" r="2.3" fill="#454296"/>
<circle cx="366.32" cy="313.97" r="2.3" fill="#454296"/>
<circle cx="369.62" cy="313.44" r="2.3" fill="#454296"/>
<circle cx="372.91" cy="311.25" r="2.3" fill="#454296"/>
<circle cx="376.21" cy="313.44" r="2.3" fill="#454296"/>
<circle cx="379.5" cy="311.51" r="2.3" fill="#454296"/>
<circle cx="382.8" cy="304.24" r="2.3" fill="#454296"/>
<circle cx="386.1" cy="301.08" r="2.3" fill="#454296"/>
<circle cx="389.39" cy="301.52" r="2.3" fill="#454296"/>
<circle cx="392.69" cy="294.68" r="2.3" fill="#454296"/>
<circle cx="395.98" cy="286.79" r="2.3" fill="#454296"/>
<circle cx="399.27" cy="283.37" r="2.3" fill="#454296"/>
<circle cx="402.57" cy="288.37" r="2.3" fill="#454296"/>
<circle cx="405.87" cy="285.91" r="2.3" fill="#454296"/>
<circle cx="409.16" cy="286.53" r="2.3" fill="#454296"/>
<circle cx="412.45" cy="283.9" r="2.3" fill="#454296"/>
<circle cx="415.75" cy="293.19" r="2.3" fill="#454296"/>
<circle cx="419.05" cy="295.47" r="2.3" fill="#454296"/>
<circle cx="422.34" cy="292.49" r="2.3" fill="#454296"/>
<circle cx="425.63" cy="292.58" r="2.3" fill="#454296"/>
<circle cx="428.93" cy="287.23" r="2.3" fill="#454296"/>
<circle cx="432.23" cy="288.63" r="2.3" fill="#454296"/>
<circle cx="435.52" cy="286.88" r="2.3" fill="#454296"/>
<circle cx="438.81" cy="284.25" r="2.3" fill="#454296"/>
<circle cx="442.11" cy="289.77" r="2.3" fill="#454296"/>
<circle cx="445.4" cy="294.77" r="2.3" fill="#454296"/>
<circle cx="448.7" cy="294.5" r="2.3" fill="#454296"/>
<circle cx="452" cy="297.13" r="2.3" fill="#454296"/>
<circle cx="455.29" cy="294.33" r="2.3" fill="#454296"/>
<circle cx="458.59" cy="296.52" r="2.3" fill="#454296"/>
<circle cx="461.88" cy="299.59" r="2.3" fill="#454296"/>
<circle cx="465.18" cy="300.9" r="2.3" fill="#454296"/>
<circle cx="468.47" cy="304.32" r="2.3" fill="#454296"/>
<circle cx="471.76" cy="301.96" r="2.3" fill="#454296"/>
<circle cx="475.06" cy="301.17" r="2.3" fill="#454296"/>
<circle cx="478.36" cy="303.1" r="2.3" fill="#454296"/>
<circle cx="481.65" cy="308.44" r="2.3" fill="#454296"/>
<circle cx="484.95" cy="308.18" r="2.3" fill="#454296"/>
<circle cx="488.24" cy="303.53" r="2.3" fill="#454296"/>
<circle cx="491.54" cy="303.53" r="2.3" fill="#454296"/>
<circle cx="494.83" cy="304.41" r="2.3" fill="#454296"/>
<circle cx="498.12" cy="311.16" r="2.3" fill="#454296"/>
<circle cx="501.42" cy="311.34" r="2.3" fill="#454296"/>
<circle cx="504.72" cy="311.42" r="2.3" fill="#454296"/>
<circle cx="508.01" cy="309.14" r="2.3" fill="#454296"/>
<circle cx="511.31" cy="311.69" r="2.3" fill="#454296"/>
<circle cx="514.6" cy="314.05" r="2.3" fill="#454296"/>
<line x1="46.4" y1="419.38" x2="46.4" y2="555.5" stroke="#000" stroke-width="1.85"/>
<line x1="45.48" y1="550.5" x2="241.23" y2="550.5" stroke="#000" stroke-width="1.85"/>
<line x1="41.4" y1="550.5" x2="46.4" y2="550.5" stroke="#000" stroke-width="1.85"/>
<text x="42" y="554.9" text-anchor="end" class="tk">0</text>
<line x1="41.4" y1="524.46" x2="46.4" y2="524.46" stroke="#000" stroke-width="1.85"/>
<text x="42" y="528.86" text-anchor="end" class="tk">50</text>
<line x1="41.4" y1="498.42" x2="46.4" y2="498.42" stroke="#000" stroke-width="1.85"/>
<text x="42" y="502.82" text-anchor="end" class="tk">100</text>
<line x1="41.4" y1="472.38" x2="46.4" y2="472.38" stroke="#000" stroke-width="1.85"/>
<text x="42" y="476.78" text-anchor="end" class="tk">150</text>
<line x1="41.4" y1="446.34" x2="46.4" y2="446.34" stroke="#000" stroke-width="1.85"/>
<text x="42" y="450.74" text-anchor="end" class="tk">200</text>
<line x1="41.4" y1="420.3" x2="46.4" y2="420.3" stroke="#000" stroke-width="1.85"/>
<text x="42" y="424.7" text-anchor="end" class="tk">250</text>
<line x1="46.4" y1="549.58" x2="46.4" y2="555.5" stroke="#000" stroke-width="1.85"/>
<text x="47" y="566.7" text-anchor="middle" class="tk">0</text>
<line x1="111.03" y1="549.58" x2="111.03" y2="555.5" stroke="#000" stroke-width="1.85"/>
<text x="111.63" y="566.7" text-anchor="middle" class="tk">20</text>
<line x1="175.67" y1="549.58" x2="175.67" y2="555.5" stroke="#000" stroke-width="1.85"/>
<text x="176.27" y="566.7" text-anchor="middle" class="tk">40</text>
<line x1="240.3" y1="549.58" x2="240.3" y2="555.5" stroke="#000" stroke-width="1.85"/>
<text x="240.9" y="566.7" text-anchor="middle" class="tk">60</text>
<text x="100.3" y="414.3" class="tt" textLength="91" lengthAdjust="spacingAndGlyphs">Fibrinogen + TNF-α</text>
<text x="127.9" y="578.7" class="xl" textLength="47.6" lengthAdjust="spacingAndGlyphs">Time (min)</text>
<text transform="translate(10.5,484.8) rotate(-90)" text-anchor="middle" class="xl" textLength="21.6" lengthAdjust="spacingAndGlyphs">RLU</text>
<path d="M46.4 539.77V536.39M43.9 536.39H48.9" stroke="#bf2824" stroke-width="1.4" fill="none"/>
<path d="M49.63 541.33V539.2M47.13 539.2H52.13" stroke="#bf2824" stroke-width="1.4" fill="none"/>
<path d="M52.86 544.51V543M50.36 543H55.36" stroke="#bf2824" stroke-width="1.4" fill="none"/>
<path d="M59.33 541.28V538.05M56.83 538.05H61.83" stroke="#bf2824" stroke-width="1.4" fill="none"/>
<path d="M65.79 541.7V538.42M63.29 538.42H68.29" stroke="#bf2824" stroke-width="1.4" fill="none"/>
<path d="M69.02 546.07V544.41M66.52 544.41H71.52" stroke="#bf2824" stroke-width="1.4" fill="none"/>
<path d="M72.25 544.35V541.13M69.75 541.13H74.75" stroke="#bf2824" stroke-width="1.4" fill="none"/>
<path d="M88.41 543.68V540.55M85.91 540.55H90.91" stroke="#bf2824" stroke-width="1.4" fill="none"/>
<path d="M94.88 539.67V537.64M92.38 537.64H97.38" stroke="#bf2824" stroke-width="1.4" fill="none"/>
<path d="M98.11 537.64V534.88M95.61 534.88H100.61" stroke="#bf2824" stroke-width="1.4" fill="none"/>
<path d="M101.34 533.11V529.72M98.84 529.72H103.84" stroke="#bf2824" stroke-width="1.4" fill="none"/>
<path d="M111.03 523.37V519.67M108.53 519.67H113.53" stroke="#bf2824" stroke-width="1.4" fill="none"/>
<path d="M114.27 516.28V513.63M111.77 513.63H116.77" stroke="#bf2824" stroke-width="1.4" fill="none"/>
<path d="M117.5 499.1V495.82M115 495.82H120" stroke="#bf2824" stroke-width="1.4" fill="none"/>
<path d="M120.73 489.83V485.71M118.23 485.71H123.23" stroke="#bf2824" stroke-width="1.4" fill="none"/>
<path d="M123.96 482.33V476.7M121.46 476.7H126.46" stroke="#bf2824" stroke-width="1.4" fill="none"/>
<path d="M127.19 471.08V466.08M124.69 466.08H129.69" stroke="#bf2824" stroke-width="1.4" fill="none"/>
<path d="M149.81 446.24V439.88M147.31 439.88H152.31" stroke="#bf2824" stroke-width="1.4" fill="none"/>
<path d="M156.28 442.02V434.78M153.78 434.78H158.78" stroke="#bf2824" stroke-width="1.4" fill="none"/>
<path d="M159.51 440.61V435.14M157.01 435.14H162.01" stroke="#bf2824" stroke-width="1.4" fill="none"/>
<path d="M165.97 452.38V447.28M163.47 447.28H168.47" stroke="#bf2824" stroke-width="1.4" fill="none"/>
<path d="M169.2 456.86V450.51M166.7 450.51H171.7" stroke="#bf2824" stroke-width="1.4" fill="none"/>
<path d="M172.44 461.08V454.57M169.94 454.57H174.94" stroke="#bf2824" stroke-width="1.4" fill="none"/>
<path d="M175.67 462.02V455.71M173.17 455.71H178.17" stroke="#bf2824" stroke-width="1.4" fill="none"/>
<path d="M185.36 472.22V467.33M182.86 467.33H187.86" stroke="#bf2824" stroke-width="1.4" fill="none"/>
<path d="M195.06 484.46V480.04M192.56 480.04H197.56" stroke="#bf2824" stroke-width="1.4" fill="none"/>
<path d="M204.75 491.6V486.18M202.25 486.18H207.25" stroke="#bf2824" stroke-width="1.4" fill="none"/>
<path d="M217.68 502.9V499.93M215.18 499.93H220.18" stroke="#bf2824" stroke-width="1.4" fill="none"/>
<path d="M233.84 510.76V507.69M231.34 507.69H236.34" stroke="#bf2824" stroke-width="1.4" fill="none"/>
<path d="M237.07 515.66V512.01M234.57 512.01H239.57" stroke="#bf2824" stroke-width="1.4" fill="none"/>
<path d="M240.3 516.28V513.11M237.8 513.11H242.8" stroke="#bf2824" stroke-width="1.4" fill="none"/>
<path d="M46.4 539.77 L49.63 541.33 L52.86 544.51 L56.09 542.9 L59.33 541.28 L62.56 543.37 L65.79 541.7 L69.02 546.07 L72.25 544.35 L75.48 542.69 L78.72 540.87 L81.95 541.39 L85.18 542.06 L88.41 543.68 L91.64 542.74 L94.88 539.67 L98.11 537.64 L101.34 533.11 L104.57 529.25 L107.8 524.72 L111.03 523.37 L114.27 516.28 L117.5 499.1 L120.73 489.83 L123.96 482.33 L127.19 471.08 L130.42 453.79 L133.66 458.11 L136.89 456.18 L140.12 438.01 L143.35 440.45 L146.58 442.54 L149.81 446.24 L153.05 450.19 L156.28 442.02 L159.51 440.61 L162.74 450.77 L165.97 452.38 L169.2 456.86 L172.44 461.08 L175.67 462.02 L178.9 465.66 L182.13 469.46 L185.36 472.22 L188.59 473.37 L191.83 477.85 L195.06 484.46 L198.29 486.44 L201.52 488 L204.75 491.6 L207.98 495.09 L211.22 495.61 L214.45 496.6 L217.68 502.9 L220.91 509.98 L224.14 509.41 L227.37 510.82 L230.61 510.09 L233.84 510.76 L237.07 515.66 L240.3 516.28" stroke="#bf2824" stroke-width="2.5" fill="none" stroke-linejoin="round"/>
<circle cx="46.4" cy="539.77" r="2.3" fill="#bf2824"/>
<circle cx="49.63" cy="541.33" r="2.3" fill="#bf2824"/>
<circle cx="52.86" cy="544.51" r="2.3" fill="#bf2824"/>
<circle cx="56.09" cy="542.9" r="2.3" fill="#bf2824"/>
<circle cx="59.33" cy="541.28" r="2.3" fill="#bf2824"/>
<circle cx="62.56" cy="543.37" r="2.3" fill="#bf2824"/>
<circle cx="65.79" cy="541.7" r="2.3" fill="#bf2824"/>
<circle cx="69.02" cy="546.07" r="2.3" fill="#bf2824"/>
<circle cx="72.25" cy="544.35" r="2.3" fill="#bf2824"/>
<circle cx="75.48" cy="542.69" r="2.3" fill="#bf2824"/>
<circle cx="78.72" cy="540.87" r="2.3" fill="#bf2824"/>
<circle cx="81.95" cy="541.39" r="2.3" fill="#bf2824"/>
<circle cx="85.18" cy="542.06" r="2.3" fill="#bf2824"/>
<circle cx="88.41" cy="543.68" r="2.3" fill="#bf2824"/>
<circle cx="91.64" cy="542.74" r="2.3" fill="#bf2824"/>
<circle cx="94.88" cy="539.67" r="2.3" fill="#bf2824"/>
<circle cx="98.11" cy="537.64" r="2.3" fill="#bf2824"/>
<circle cx="101.34" cy="533.11" r="2.3" fill="#bf2824"/>
<circle cx="104.57" cy="529.25" r="2.3" fill="#bf2824"/>
<circle cx="107.8" cy="524.72" r="2.3" fill="#bf2824"/>
<circle cx="111.03" cy="523.37" r="2.3" fill="#bf2824"/>
<circle cx="114.27" cy="516.28" r="2.3" fill="#bf2824"/>
<circle cx="117.5" cy="499.1" r="2.3" fill="#bf2824"/>
<circle cx="120.73" cy="489.83" r="2.3" fill="#bf2824"/>
<circle cx="123.96" cy="482.33" r="2.3" fill="#bf2824"/>
<circle cx="127.19" cy="471.08" r="2.3" fill="#bf2824"/>
<circle cx="130.42" cy="453.79" r="2.3" fill="#bf2824"/>
<circle cx="133.66" cy="458.11" r="2.3" fill="#bf2824"/>
<circle cx="136.89" cy="456.18" r="2.3" fill="#bf2824"/>
<circle cx="140.12" cy="438.01" r="2.3" fill="#bf2824"/>
<circle cx="143.35" cy="440.45" r="2.3" fill="#bf2824"/>
<circle cx="146.58" cy="442.54" r="2.3" fill="#bf2824"/>
<circle cx="149.81" cy="446.24" r="2.3" fill="#bf2824"/>
<circle cx="153.05" cy="450.19" r="2.3" fill="#bf2824"/>
<circle cx="156.28" cy="442.02" r="2.3" fill="#bf2824"/>
<circle cx="159.51" cy="440.61" r="2.3" fill="#bf2824"/>
<circle cx="162.74" cy="450.77" r="2.3" fill="#bf2824"/>
<circle cx="165.97" cy="452.38" r="2.3" fill="#bf2824"/>
<circle cx="169.2" cy="456.86" r="2.3" fill="#bf2824"/>
<circle cx="172.44" cy="461.08" r="2.3" fill="#bf2824"/>
<circle cx="175.67" cy="462.02" r="2.3" fill="#bf2824"/>
<circle cx="178.9" cy="465.66" r="2.3" fill="#bf2824"/>
<circle cx="182.13" cy="469.46" r="2.3" fill="#bf2824"/>
<circle cx="185.36" cy="472.22" r="2.3" fill="#bf2824"/>
<circle cx="188.59" cy="473.37" r="2.3" fill="#bf2824"/>
<circle cx="191.83" cy="477.85" r="2.3" fill="#bf2824"/>
<circle cx="195.06" cy="484.46" r="2.3" fill="#bf2824"/>
<circle cx="198.29" cy="486.44" r="2.3" fill="#bf2824"/>
<circle cx="201.52" cy="488" r="2.3" fill="#bf2824"/>
<circle cx="204.75" cy="491.6" r="2.3" fill="#bf2824"/>
<circle cx="207.98" cy="495.09" r="2.3" fill="#bf2824"/>
<circle cx="211.22" cy="495.61" r="2.3" fill="#bf2824"/>
<circle cx="214.45" cy="496.6" r="2.3" fill="#bf2824"/>
<circle cx="217.68" cy="502.9" r="2.3" fill="#bf2824"/>
<circle cx="220.91" cy="509.98" r="2.3" fill="#bf2824"/>
<circle cx="224.14" cy="509.41" r="2.3" fill="#bf2824"/>
<circle cx="227.37" cy="510.82" r="2.3" fill="#bf2824"/>
<circle cx="230.61" cy="510.09" r="2.3" fill="#bf2824"/>
<circle cx="233.84" cy="510.76" r="2.3" fill="#bf2824"/>
<circle cx="237.07" cy="515.66" r="2.3" fill="#bf2824"/>
<circle cx="240.3" cy="516.28" r="2.3" fill="#bf2824"/>
<path d="M49.63 541.96V539.09M47.13 539.09H52.13" stroke="#454296" stroke-width="1.4" fill="none"/>
<path d="M56.09 544.25V542.06M53.59 542.06H58.59" stroke="#454296" stroke-width="1.4" fill="none"/>
<path d="M59.33 543.78V541.49M56.83 541.49H61.83" stroke="#454296" stroke-width="1.4" fill="none"/>
<path d="M72.25 545.55V542.58M69.75 542.58H74.75" stroke="#454296" stroke-width="1.4" fill="none"/>
<path d="M81.95 545.19V542.64M79.45 542.64H84.45" stroke="#454296" stroke-width="1.4" fill="none"/>
<path d="M85.18 543V541.39M82.68 541.39H87.68" stroke="#454296" stroke-width="1.4" fill="none"/>
<path d="M94.88 542.74V540.14M92.38 540.14H97.38" stroke="#454296" stroke-width="1.4" fill="none"/>
<path d="M101.34 540.87V538.52M98.84 538.52H103.84" stroke="#454296" stroke-width="1.4" fill="none"/>
<path d="M107.8 534.72V531.02M105.3 531.02H110.3" stroke="#454296" stroke-width="1.4" fill="none"/>
<path d="M114.27 529.51V526.8M111.77 526.8H116.77" stroke="#454296" stroke-width="1.4" fill="none"/>
<path d="M117.5 525.55V521.65M115 521.65H120" stroke="#454296" stroke-width="1.4" fill="none"/>
<path d="M130.42 509.62V505.97M127.92 505.97H132.92" stroke="#454296" stroke-width="1.4" fill="none"/>
<path d="M133.66 505.35V501.65M131.16 501.65H136.16" stroke="#454296" stroke-width="1.4" fill="none"/>
<path d="M136.89 499.46V495.66M134.39 495.66H139.39" stroke="#454296" stroke-width="1.4" fill="none"/>
<path d="M143.35 486.29V481.49M140.85 481.49H145.85" stroke="#454296" stroke-width="1.4" fill="none"/>
<path d="M149.81 497.95V493.26M147.31 493.26H152.31" stroke="#454296" stroke-width="1.4" fill="none"/>
<path d="M156.28 488.73V483.63M153.78 483.63H158.78" stroke="#454296" stroke-width="1.4" fill="none"/>
<path d="M159.51 484.57V480.35M157.01 480.35H162.01" stroke="#454296" stroke-width="1.4" fill="none"/>
<path d="M169.2 494.1V489.51M166.7 489.51H171.7" stroke="#454296" stroke-width="1.4" fill="none"/>
<path d="M172.44 496.34V492.17M169.94 492.17H174.94" stroke="#454296" stroke-width="1.4" fill="none"/>
<path d="M175.67 498.89V493.94M173.17 493.94H178.17" stroke="#454296" stroke-width="1.4" fill="none"/>
<path d="M198.29 503.16V499.83M195.79 499.83H200.79" stroke="#454296" stroke-width="1.4" fill="none"/>
<path d="M201.52 504.88V501.44M199.02 501.44H204.02" stroke="#454296" stroke-width="1.4" fill="none"/>
<path d="M211.22 510.29V506.86M208.72 506.86H213.72" stroke="#454296" stroke-width="1.4" fill="none"/>
<path d="M214.45 514.46V511.86M211.95 511.86H216.95" stroke="#454296" stroke-width="1.4" fill="none"/>
<path d="M217.68 513.73V509.46M215.18 509.46H220.18" stroke="#454296" stroke-width="1.4" fill="none"/>
<path d="M220.91 519.77V516.08M218.41 516.08H223.41" stroke="#454296" stroke-width="1.4" fill="none"/>
<path d="M224.14 516.39V512.79M221.64 512.79H226.64" stroke="#454296" stroke-width="1.4" fill="none"/>
<path d="M227.37 515.14V511.18M224.87 511.18H229.87" stroke="#454296" stroke-width="1.4" fill="none"/>
<path d="M230.61 516.02V512.48M228.11 512.48H233.11" stroke="#454296" stroke-width="1.4" fill="none"/>
<path d="M46.4 541.8 L49.63 541.96 L52.86 546.96 L56.09 544.25 L59.33 543.78 L62.56 544.09 L65.79 543.99 L69.02 543.99 L72.25 545.55 L75.48 543.73 L78.72 544.2 L81.95 545.19 L85.18 543 L88.41 541.28 L91.64 539.2 L94.88 542.74 L98.11 541.13 L101.34 540.87 L104.57 536.59 L107.8 534.72 L111.03 530.5 L114.27 529.51 L117.5 525.55 L120.73 520.87 L123.96 518.37 L127.19 515.35 L130.42 509.62 L133.66 505.35 L136.89 499.46 L140.12 502.53 L143.35 486.29 L146.58 491.18 L149.81 497.95 L153.05 493.11 L156.28 488.73 L159.51 484.57 L162.74 493.89 L165.97 492.95 L169.2 494.1 L172.44 496.34 L175.67 498.89 L178.9 501.54 L182.13 501.18 L185.36 497.85 L188.59 500.5 L191.83 504.83 L195.06 504.15 L198.29 503.16 L201.52 504.88 L204.75 507.53 L207.98 510.35 L211.22 510.29 L214.45 514.46 L217.68 513.73 L220.91 519.77 L224.14 516.39 L227.37 515.14 L230.61 516.02 L233.84 514.41 L237.07 518.05 L240.3 519.1" stroke="#454296" stroke-width="2.5" fill="none" stroke-linejoin="round"/>
<circle cx="46.4" cy="541.8" r="2.3" fill="#454296"/>
<circle cx="49.63" cy="541.96" r="2.3" fill="#454296"/>
<circle cx="52.86" cy="546.96" r="2.3" fill="#454296"/>
<circle cx="56.09" cy="544.25" r="2.3" fill="#454296"/>
<circle cx="59.33" cy="543.78" r="2.3" fill="#454296"/>
<circle cx="62.56" cy="544.09" r="2.3" fill="#454296"/>
<circle cx="65.79" cy="543.99" r="2.3" fill="#454296"/>
<circle cx="69.02" cy="543.99" r="2.3" fill="#454296"/>
<circle cx="72.25" cy="545.55" r="2.3" fill="#454296"/>
<circle cx="75.48" cy="543.73" r="2.3" fill="#454296"/>
<circle cx="78.72" cy="544.2" r="2.3" fill="#454296"/>
<circle cx="81.95" cy="545.19" r="2.3" fill="#454296"/>
<circle cx="85.18" cy="543" r="2.3" fill="#454296"/>
<circle cx="88.41" cy="541.28" r="2.3" fill="#454296"/>
<circle cx="91.64" cy="539.2" r="2.3" fill="#454296"/>
<circle cx="94.88" cy="542.74" r="2.3" fill="#454296"/>
<circle cx="98.11" cy="541.13" r="2.3" fill="#454296"/>
<circle cx="101.34" cy="540.87" r="2.3" fill="#454296"/>
<circle cx="104.57" cy="536.59" r="2.3" fill="#454296"/>
<circle cx="107.8" cy="534.72" r="2.3" fill="#454296"/>
<circle cx="111.03" cy="530.5" r="2.3" fill="#454296"/>
<circle cx="114.27" cy="529.51" r="2.3" fill="#454296"/>
<circle cx="117.5" cy="525.55" r="2.3" fill="#454296"/>
<circle cx="120.73" cy="520.87" r="2.3" fill="#454296"/>
<circle cx="123.96" cy="518.37" r="2.3" fill="#454296"/>
<circle cx="127.19" cy="515.35" r="2.3" fill="#454296"/>
<circle cx="130.42" cy="509.62" r="2.3" fill="#454296"/>
<circle cx="133.66" cy="505.35" r="2.3" fill="#454296"/>
<circle cx="136.89" cy="499.46" r="2.3" fill="#454296"/>
<circle cx="140.12" cy="502.53" r="2.3" fill="#454296"/>
<circle cx="143.35" cy="486.29" r="2.3" fill="#454296"/>
<circle cx="146.58" cy="491.18" r="2.3" fill="#454296"/>
<circle cx="149.81" cy="497.95" r="2.3" fill="#454296"/>
<circle cx="153.05" cy="493.11" r="2.3" fill="#454296"/>
<circle cx="156.28" cy="488.73" r="2.3" fill="#454296"/>
<circle cx="159.51" cy="484.57" r="2.3" fill="#454296"/>
<circle cx="162.74" cy="493.89" r="2.3" fill="#454296"/>
<circle cx="165.97" cy="492.95" r="2.3" fill="#454296"/>
<circle cx="169.2" cy="494.1" r="2.3" fill="#454296"/>
<circle cx="172.44" cy="496.34" r="2.3" fill="#454296"/>
<circle cx="175.67" cy="498.89" r="2.3" fill="#454296"/>
<circle cx="178.9" cy="501.54" r="2.3" fill="#454296"/>
<circle cx="182.13" cy="501.18" r="2.3" fill="#454296"/>
<circle cx="185.36" cy="497.85" r="2.3" fill="#454296"/>
<circle cx="188.59" cy="500.5" r="2.3" fill="#454296"/>
<circle cx="191.83" cy="504.83" r="2.3" fill="#454296"/>
<circle cx="195.06" cy="504.15" r="2.3" fill="#454296"/>
<circle cx="198.29" cy="503.16" r="2.3" fill="#454296"/>
<circle cx="201.52" cy="504.88" r="2.3" fill="#454296"/>
<circle cx="204.75" cy="507.53" r="2.3" fill="#454296"/>
<circle cx="207.98" cy="510.35" r="2.3" fill="#454296"/>
<circle cx="211.22" cy="510.29" r="2.3" fill="#454296"/>
<circle cx="214.45" cy="514.46" r="2.3" fill="#454296"/>
<circle cx="217.68" cy="513.73" r="2.3" fill="#454296"/>
<circle cx="220.91" cy="519.77" r="2.3" fill="#454296"/>
<circle cx="224.14" cy="516.39" r="2.3" fill="#454296"/>
<circle cx="227.37" cy="515.14" r="2.3" fill="#454296"/>
<circle cx="230.61" cy="516.02" r="2.3" fill="#454296"/>
<circle cx="233.84" cy="514.41" r="2.3" fill="#454296"/>
<circle cx="237.07" cy="518.05" r="2.3" fill="#454296"/>
<circle cx="240.3" cy="519.1" r="2.3" fill="#454296"/>
<line x1="317.4" y1="421.07" x2="317.4" y2="555.7" stroke="#000" stroke-width="1.85"/>
<line x1="316.47" y1="550.7" x2="511.73" y2="550.7" stroke="#000" stroke-width="1.85"/>
<line x1="312.4" y1="550.7" x2="317.4" y2="550.7" stroke="#000" stroke-width="1.85"/>
<text x="313" y="555.1" text-anchor="end" class="tk">0</text>
<line x1="312.4" y1="524.96" x2="317.4" y2="524.96" stroke="#000" stroke-width="1.85"/>
<text x="313" y="529.36" text-anchor="end" class="tk">20</text>
<line x1="312.4" y1="499.22" x2="317.4" y2="499.22" stroke="#000" stroke-width="1.85"/>
<text x="313" y="503.62" text-anchor="end" class="tk">40</text>
<line x1="312.4" y1="473.48" x2="317.4" y2="473.48" stroke="#000" stroke-width="1.85"/>
<text x="313" y="477.88" text-anchor="end" class="tk">60</text>
<line x1="312.4" y1="447.74" x2="317.4" y2="447.74" stroke="#000" stroke-width="1.85"/>
<text x="313" y="452.14" text-anchor="end" class="tk">80</text>
<line x1="312.4" y1="422" x2="317.4" y2="422" stroke="#000" stroke-width="1.85"/>
<text x="313" y="426.4" text-anchor="end" class="tk">100</text>
<line x1="317.4" y1="549.78" x2="317.4" y2="555.7" stroke="#000" stroke-width="1.85"/>
<text x="318" y="566.9" text-anchor="middle" class="tk">0</text>
<line x1="381.87" y1="549.78" x2="381.87" y2="555.7" stroke="#000" stroke-width="1.85"/>
<text x="382.47" y="566.9" text-anchor="middle" class="tk">20</text>
<line x1="446.33" y1="549.78" x2="446.33" y2="555.7" stroke="#000" stroke-width="1.85"/>
<text x="446.93" y="566.9" text-anchor="middle" class="tk">40</text>
<line x1="510.8" y1="549.78" x2="510.8" y2="555.7" stroke="#000" stroke-width="1.85"/>
<text x="511.4" y="566.9" text-anchor="middle" class="tk">60</text>
<text x="348.5" y="414.5" class="tt" textLength="139" lengthAdjust="spacingAndGlyphs" style="font-weight:normal;stroke:#000;stroke-width:0.35px">Fibrinogen/TNF-α without Ca<tspan dy="-3" font-size="6">2+</tspan></text>
<text x="396" y="578.7" class="xl" textLength="48.6" lengthAdjust="spacingAndGlyphs">Time (min)</text>
<text transform="translate(283.7,485) rotate(-90)" text-anchor="middle" class="xl" textLength="21.6" lengthAdjust="spacingAndGlyphs">RLU</text>
<path d="M349.63 526.25V509.52M347.33 509.52H351.93M347.33 526.25H351.93" stroke="#bf2824" stroke-width="1.5" fill="none"/>
<path d="M368.97 527.53V511.45M366.67 511.45H371.27M366.67 527.53H371.27" stroke="#bf2824" stroke-width="1.5" fill="none"/>
<path d="M375.42 526.25V509.52M373.12 509.52H377.72M373.12 526.25H377.72" stroke="#bf2824" stroke-width="1.5" fill="none"/>
<path d="M473.73 532.68V494.07M471.43 494.07H476.03M471.43 532.68H476.03" stroke="#dc7a78" stroke-width="1.5" fill="none"/>
<path d="M481.79 544.27V490.21M479.49 490.21H484.09M479.49 544.27H484.09" stroke="#dc7a78" stroke-width="1.5" fill="none"/>
<path d="M493.07 530.11V513.38M490.77 513.38H495.37M490.77 530.11H495.37" stroke="#9fcfee" stroke-width="1.5" fill="none"/>
<path d="M317.4 531.01V522.51M314.9 522.51H319.9M314.9 531.01H319.9" stroke="#bf2824" stroke-width="1.4" fill="none"/>
<path d="M323.85 537.7V528.43M321.35 528.43H326.35M321.35 537.7H326.35" stroke="#bf2824" stroke-width="1.4" fill="none"/>
<path d="M330.29 546.58V534.74M327.79 534.74H332.79M327.79 546.58H332.79" stroke="#bf2824" stroke-width="1.4" fill="none"/>
<path d="M333.52 543.62V533.07M331.02 533.07H336.02M331.02 543.62H336.02" stroke="#bf2824" stroke-width="1.4" fill="none"/>
<path d="M336.74 542.59V534.1M334.24 534.1H339.24M334.24 542.59H339.24" stroke="#bf2824" stroke-width="1.4" fill="none"/>
<path d="M339.96 537.19V530.49M337.46 530.49H342.46M337.46 537.19H342.46" stroke="#bf2824" stroke-width="1.4" fill="none"/>
<path d="M343.19 538.73V527.15M340.69 527.15H345.69M340.69 538.73H345.69" stroke="#bf2824" stroke-width="1.4" fill="none"/>
<path d="M346.41 535.51V528.31M343.91 528.31H348.91M343.91 535.51H348.91" stroke="#bf2824" stroke-width="1.4" fill="none"/>
<path d="M352.86 537.44V531.52M350.36 531.52H355.36M350.36 537.44H355.36" stroke="#bf2824" stroke-width="1.4" fill="none"/>
<path d="M365.75 534.23V521.36M363.25 521.36H368.25M363.25 534.23H368.25" stroke="#bf2824" stroke-width="1.4" fill="none"/>
<path d="M378.64 520.46V509.9M376.14 509.9H381.14M376.14 520.46H381.14" stroke="#bf2824" stroke-width="1.4" fill="none"/>
<path d="M381.87 516.72V505.66M379.37 505.66H384.37M379.37 516.72H384.37" stroke="#bf2824" stroke-width="1.4" fill="none"/>
<path d="M394.76 487.77V468.98M392.26 468.98H397.26M392.26 487.77H397.26" stroke="#bf2824" stroke-width="1.4" fill="none"/>
<path d="M401.21 475.28V460.61M398.71 460.61H403.71M398.71 475.28H403.71" stroke="#bf2824" stroke-width="1.4" fill="none"/>
<path d="M404.43 471.03V453.27M401.93 453.27H406.93M401.93 471.03H406.93" stroke="#bf2824" stroke-width="1.4" fill="none"/>
<path d="M407.65 458.42V442.72M405.15 442.72H410.15M405.15 458.42H410.15" stroke="#bf2824" stroke-width="1.4" fill="none"/>
<path d="M410.88 465.63V446.32M408.38 446.32H413.38M408.38 465.63H413.38" stroke="#bf2824" stroke-width="1.4" fill="none"/>
<path d="M414.1 469.23V452.76M411.6 452.76H416.6M411.6 469.23H416.6" stroke="#bf2824" stroke-width="1.4" fill="none"/>
<path d="M430.22 467.95V449.93M427.72 449.93H432.72M427.72 467.95H432.72" stroke="#bf2824" stroke-width="1.4" fill="none"/>
<path d="M433.44 470.65V454.95M430.94 454.95H435.94M430.94 470.65H435.94" stroke="#bf2824" stroke-width="1.4" fill="none"/>
<path d="M452.78 486.74V468.98M450.28 468.98H455.28M450.28 486.74H455.28" stroke="#bf2824" stroke-width="1.4" fill="none"/>
<path d="M456 495.36V480.69M453.5 480.69H458.5M453.5 495.36H458.5" stroke="#bf2824" stroke-width="1.4" fill="none"/>
<path d="M459.23 502.95V487.51M456.73 487.51H461.73M456.73 502.95H461.73" stroke="#bf2824" stroke-width="1.4" fill="none"/>
<path d="M462.45 497.8V487.25M459.95 487.25H464.95M459.95 497.8H464.95" stroke="#bf2824" stroke-width="1.4" fill="none"/>
<path d="M478.57 498.96V489.18M476.07 489.18H481.07M476.07 498.96H481.07" stroke="#bf2824" stroke-width="1.4" fill="none"/>
<path d="M491.46 499.48V489.95M488.96 489.95H493.96M488.96 499.48H493.96" stroke="#bf2824" stroke-width="1.4" fill="none"/>
<path d="M497.91 504.5V490.08M495.41 490.08H500.41M495.41 504.5H500.41" stroke="#bf2824" stroke-width="1.4" fill="none"/>
<path d="M317.4 526.76 L320.62 530.49 L323.85 533.07 L327.07 537.57 L330.29 540.66 L333.52 538.34 L336.74 538.34 L339.96 533.84 L343.19 532.94 L346.41 531.91 L349.63 532.3 L352.86 534.48 L356.08 531.52 L359.3 529.59 L362.53 527.15 L365.75 527.79 L368.97 522 L372.2 523.42 L375.42 517.62 L378.64 515.18 L381.87 511.19 L385.09 502.57 L388.31 488.92 L391.54 484.03 L394.76 478.37 L397.98 471.94 L401.21 467.95 L404.43 462.15 L407.65 450.57 L410.88 455.98 L414.1 461 L417.32 457.78 L420.55 459.71 L423.77 463.06 L426.99 454.82 L430.22 458.94 L433.44 462.8 L436.66 468.98 L439.89 488.28 L443.11 480.94 L446.33 474.38 L449.56 473.61 L452.78 477.86 L456 488.02 L459.23 495.23 L462.45 492.53 L465.67 494.33 L468.9 493.56 L472.12 496.9 L475.34 497.29 L478.57 494.07 L481.79 497.03 L485.01 494.59 L488.24 495.1 L491.46 494.72 L494.68 490.08 L497.91 497.29 L501.13 498.71 L504.35 498.58 L507.58 499.99 L510.8 493.17" stroke="#bf2824" stroke-width="2.5" fill="none" stroke-linejoin="round"/>
<circle cx="317.4" cy="526.76" r="2.3" fill="#bf2824"/>
<circle cx="320.62" cy="530.49" r="2.3" fill="#bf2824"/>
<circle cx="323.85" cy="533.07" r="2.3" fill="#bf2824"/>
<circle cx="327.07" cy="537.57" r="2.3" fill="#bf2824"/>
<circle cx="330.29" cy="540.66" r="2.3" fill="#bf2824"/>
<circle cx="333.52" cy="538.34" r="2.3" fill="#bf2824"/>
<circle cx="336.74" cy="538.34" r="2.3" fill="#bf2824"/>
<circle cx="339.96" cy="533.84" r="2.3" fill="#bf2824"/>
<circle cx="343.19" cy="532.94" r="2.3" fill="#bf2824"/>
<circle cx="346.41" cy="531.91" r="2.3" fill="#bf2824"/>
<circle cx="349.63" cy="532.3" r="2.3" fill="#bf2824"/>
<circle cx="352.86" cy="534.48" r="2.3" fill="#bf2824"/>
<circle cx="356.08" cy="531.52" r="2.3" fill="#bf2824"/>
<circle cx="359.3" cy="529.59" r="2.3" fill="#bf2824"/>
<circle cx="362.53" cy="527.15" r="2.3" fill="#bf2824"/>
<circle cx="365.75" cy="527.79" r="2.3" fill="#bf2824"/>
<circle cx="368.97" cy="522" r="2.3" fill="#bf2824"/>
<circle cx="372.2" cy="523.42" r="2.3" fill="#bf2824"/>
<circle cx="375.42" cy="517.62" r="2.3" fill="#bf2824"/>
<circle cx="378.64" cy="515.18" r="2.3" fill="#bf2824"/>
<circle cx="381.87" cy="511.19" r="2.3" fill="#bf2824"/>
<circle cx="385.09" cy="502.57" r="2.3" fill="#bf2824"/>
<circle cx="388.31" cy="488.92" r="2.3" fill="#bf2824"/>
<circle cx="391.54" cy="484.03" r="2.3" fill="#bf2824"/>
<circle cx="394.76" cy="478.37" r="2.3" fill="#bf2824"/>
<circle cx="397.98" cy="471.94" r="2.3" fill="#bf2824"/>
<circle cx="401.21" cy="467.95" r="2.3" fill="#bf2824"/>
<circle cx="404.43" cy="462.15" r="2.3" fill="#bf2824"/>
<circle cx="407.65" cy="450.57" r="2.3" fill="#bf2824"/>
<circle cx="410.88" cy="455.98" r="2.3" fill="#bf2824"/>
<circle cx="414.1" cy="461" r="2.3" fill="#bf2824"/>
<circle cx="417.32" cy="457.78" r="2.3" fill="#bf2824"/>
<circle cx="420.55" cy="459.71" r="2.3" fill="#bf2824"/>
<circle cx="423.77" cy="463.06" r="2.3" fill="#bf2824"/>
<circle cx="426.99" cy="454.82" r="2.3" fill="#bf2824"/>
<circle cx="430.22" cy="458.94" r="2.3" fill="#bf2824"/>
<circle cx="433.44" cy="462.8" r="2.3" fill="#bf2824"/>
<circle cx="436.66" cy="468.98" r="2.3" fill="#bf2824"/>
<circle cx="439.89" cy="488.28" r="2.3" fill="#bf2824"/>
<circle cx="443.11" cy="480.94" r="2.3" fill="#bf2824"/>
<circle cx="446.33" cy="474.38" r="2.3" fill="#bf2824"/>
<circle cx="449.56" cy="473.61" r="2.3" fill="#bf2824"/>
<circle cx="452.78" cy="477.86" r="2.3" fill="#bf2824"/>
<circle cx="456" cy="488.02" r="2.3" fill="#bf2824"/>
<circle cx="459.23" cy="495.23" r="2.3" fill="#bf2824"/>
<circle cx="462.45" cy="492.53" r="2.3" fill="#bf2824"/>
<circle cx="465.67" cy="494.33" r="2.3" fill="#bf2824"/>
<circle cx="468.9" cy="493.56" r="2.3" fill="#bf2824"/>
<circle cx="472.12" cy="496.9" r="2.3" fill="#bf2824"/>
<circle cx="475.34" cy="497.29" r="2.3" fill="#bf2824"/>
<circle cx="478.57" cy="494.07" r="2.3" fill="#bf2824"/>
<circle cx="481.79" cy="497.03" r="2.3" fill="#bf2824"/>
<circle cx="485.01" cy="494.59" r="2.3" fill="#bf2824"/>
<circle cx="488.24" cy="495.1" r="2.3" fill="#bf2824"/>
<circle cx="491.46" cy="494.72" r="2.3" fill="#bf2824"/>
<circle cx="494.68" cy="490.08" r="2.3" fill="#bf2824"/>
<circle cx="497.91" cy="497.29" r="2.3" fill="#bf2824"/>
<circle cx="501.13" cy="498.71" r="2.3" fill="#bf2824"/>
<circle cx="504.35" cy="498.58" r="2.3" fill="#bf2824"/>
<circle cx="507.58" cy="499.99" r="2.3" fill="#bf2824"/>
<circle cx="510.8" cy="493.17" r="2.3" fill="#bf2824"/>
<path d="M317.4 538.73V525.35M314.9 525.35H319.9M314.9 538.73H319.9" stroke="#454296" stroke-width="1.4" fill="none"/>
<path d="M323.85 537.83V529.59M321.35 529.59H326.35M321.35 537.83H326.35" stroke="#454296" stroke-width="1.4" fill="none"/>
<path d="M330.29 539.63V531.91M327.79 531.91H332.79M327.79 539.63H332.79" stroke="#454296" stroke-width="1.4" fill="none"/>
<path d="M333.52 535V528.82M331.02 528.82H336.02M331.02 535H336.02" stroke="#454296" stroke-width="1.4" fill="none"/>
<path d="M346.41 536.41V524.83M343.91 524.83H348.91M343.91 536.41H348.91" stroke="#454296" stroke-width="1.4" fill="none"/>
<path d="M349.63 537.32V527.02M347.13 527.02H352.13M347.13 537.32H352.13" stroke="#454296" stroke-width="1.4" fill="none"/>
<path d="M352.86 536.93V524.32M350.36 524.32H355.36M350.36 536.93H355.36" stroke="#454296" stroke-width="1.4" fill="none"/>
<path d="M359.3 537.19V528.69M356.8 528.69H361.8M356.8 537.19H361.8" stroke="#454296" stroke-width="1.4" fill="none"/>
<path d="M365.75 539.37V525.99M363.25 525.99H368.25M363.25 539.37H368.25" stroke="#454296" stroke-width="1.4" fill="none"/>
<path d="M372.2 534.87V521.23M369.7 521.23H374.7M369.7 534.87H374.7" stroke="#454296" stroke-width="1.4" fill="none"/>
<path d="M375.42 529.98V523.29M372.92 523.29H377.92M372.92 529.98H377.92" stroke="#454296" stroke-width="1.4" fill="none"/>
<path d="M381.87 515.31V505.27M379.37 505.27H384.37M379.37 515.31H384.37" stroke="#454296" stroke-width="1.4" fill="none"/>
<path d="M394.76 484.81V472.97M392.26 472.97H397.26M392.26 484.81H397.26" stroke="#454296" stroke-width="1.4" fill="none"/>
<path d="M417.32 459.84V440.02M414.82 440.02H419.82M414.82 459.84H419.82" stroke="#454296" stroke-width="1.4" fill="none"/>
<path d="M423.77 450.44V433.71M421.27 433.71H426.27M421.27 450.44H426.27" stroke="#454296" stroke-width="1.4" fill="none"/>
<path d="M433.44 467.17V451.21M430.94 451.21H435.94M430.94 467.17H435.94" stroke="#454296" stroke-width="1.4" fill="none"/>
<path d="M443.11 463.31V442.72M440.61 442.72H445.61M440.61 463.31H445.61" stroke="#454296" stroke-width="1.4" fill="none"/>
<path d="M449.56 470.52V456.62M447.06 456.62H452.06M447.06 470.52H452.06" stroke="#454296" stroke-width="1.4" fill="none"/>
<path d="M452.78 478.63V461.9M450.28 461.9H455.28M450.28 478.63H455.28" stroke="#454296" stroke-width="1.4" fill="none"/>
<path d="M459.23 476.44V464.34M456.73 464.34H461.73M456.73 476.44H461.73" stroke="#454296" stroke-width="1.4" fill="none"/>
<path d="M462.45 482.1V464.08M459.95 464.08H464.95M459.95 482.1H464.95" stroke="#454296" stroke-width="1.4" fill="none"/>
<path d="M465.67 482.1V468.98M463.17 468.98H468.17M463.17 482.1H468.17" stroke="#454296" stroke-width="1.4" fill="none"/>
<path d="M481.79 481.85V464.08M479.29 464.08H484.29M479.29 481.85H484.29" stroke="#454296" stroke-width="1.4" fill="none"/>
<path d="M488.24 484.29V468.59M485.74 468.59H490.74M485.74 484.29H490.74" stroke="#454296" stroke-width="1.4" fill="none"/>
<path d="M491.46 484.81V468.59M488.96 468.59H493.96M488.96 484.81H493.96" stroke="#454296" stroke-width="1.4" fill="none"/>
<path d="M501.13 488.41V471.68M498.63 471.68H503.63M498.63 488.41H503.63" stroke="#454296" stroke-width="1.4" fill="none"/>
<path d="M504.35 491.5V473.74M501.85 473.74H506.85M501.85 491.5H506.85" stroke="#454296" stroke-width="1.4" fill="none"/>
<path d="M507.58 496.39V478.63M505.08 478.63H510.08M505.08 496.39H510.08" stroke="#454296" stroke-width="1.4" fill="none"/>
<path d="M317.4 532.04 L320.62 532.04 L323.85 533.71 L327.07 532.55 L330.29 535.77 L333.52 531.91 L336.74 533.07 L339.96 534.74 L343.19 532.3 L346.41 530.62 L349.63 532.17 L352.86 530.62 L356.08 530.49 L359.3 532.94 L362.53 529.21 L365.75 532.68 L368.97 531.65 L372.2 528.05 L375.42 526.63 L378.64 522 L381.87 510.29 L385.09 496.65 L388.31 489.7 L391.54 486.61 L394.76 478.89 L397.98 474.9 L401.21 467.82 L404.43 459.84 L407.65 446.71 L410.88 443.24 L414.1 447.23 L417.32 449.93 L420.55 449.16 L423.77 442.08 L426.99 452.24 L430.22 453.79 L433.44 459.19 L436.66 456.49 L439.89 451.34 L443.11 453.02 L446.33 460.61 L449.56 463.57 L452.78 470.26 L456 468.59 L459.23 470.39 L462.45 473.09 L465.67 475.54 L468.9 473.35 L472.12 476.95 L475.34 476.18 L478.57 474.64 L481.79 472.97 L485.01 477.08 L488.24 476.44 L491.46 476.7 L494.68 474.77 L497.91 480.94 L501.13 480.04 L504.35 482.62 L507.58 487.51 L510.8 483.9" stroke="#454296" stroke-width="2.5" fill="none" stroke-linejoin="round"/>
<circle cx="317.4" cy="532.04" r="2.3" fill="#454296"/>
<circle cx="320.62" cy="532.04" r="2.3" fill="#454296"/>
<circle cx="323.85" cy="533.71" r="2.3" fill="#454296"/>
<circle cx="327.07" cy="532.55" r="2.3" fill="#454296"/>
<circle cx="330.29" cy="535.77" r="2.3" fill="#454296"/>
<circle cx="333.52" cy="531.91" r="2.3" fill="#454296"/>
<circle cx="336.74" cy="533.07" r="2.3" fill="#454296"/>
<circle cx="339.96" cy="534.74" r="2.3" fill="#454296"/>
<circle cx="343.19" cy="532.3" r="2.3" fill="#454296"/>
<circle cx="346.41" cy="530.62" r="2.3" fill="#454296"/>
<circle cx="349.63" cy="532.17" r="2.3" fill="#454296"/>
<circle cx="352.86" cy="530.62" r="2.3" fill="#454296"/>
<circle cx="356.08" cy="530.49" r="2.3" fill="#454296"/>
<circle cx="359.3" cy="532.94" r="2.3" fill="#454296"/>
<circle cx="362.53" cy="529.21" r="2.3" fill="#454296"/>
<circle cx="365.75" cy="532.68" r="2.3" fill="#454296"/>
<circle cx="368.97" cy="531.65" r="2.3" fill="#454296"/>
<circle cx="372.2" cy="528.05" r="2.3" fill="#454296"/>
<circle cx="375.42" cy="526.63" r="2.3" fill="#454296"/>
<circle cx="378.64" cy="522" r="2.3" fill="#454296"/>
<circle cx="381.87" cy="510.29" r="2.3" fill="#454296"/>
<circle cx="385.09" cy="496.65" r="2.3" fill="#454296"/>
<circle cx="388.31" cy="489.7" r="2.3" fill="#454296"/>
<circle cx="391.54" cy="486.61" r="2.3" fill="#454296"/>
<circle cx="394.76" cy="478.89" r="2.3" fill="#454296"/>
<circle cx="397.98" cy="474.9" r="2.3" fill="#454296"/>
<circle cx="401.21" cy="467.82" r="2.3" fill="#454296"/>
<circle cx="404.43" cy="459.84" r="2.3" fill="#454296"/>
<circle cx="407.65" cy="446.71" r="2.3" fill="#454296"/>
<circle cx="410.88" cy="443.24" r="2.3" fill="#454296"/>
<circle cx="414.1" cy="447.23" r="2.3" fill="#454296"/>
<circle cx="417.32" cy="449.93" r="2.3" fill="#454296"/>
<circle cx="420.55" cy="449.16" r="2.3" fill="#454296"/>
<circle cx="423.77" cy="442.08" r="2.3" fill="#454296"/>
<circle cx="426.99" cy="452.24" r="2.3" fill="#454296"/>
<circle cx="430.22" cy="453.79" r="2.3" fill="#454296"/>
<circle cx="433.44" cy="459.19" r="2.3" fill="#454296"/>
<circle cx="436.66" cy="456.49" r="2.3" fill="#454296"/>
<circle cx="439.89" cy="451.34" r="2.3" fill="#454296"/>
<circle cx="443.11" cy="453.02" r="2.3" fill="#454296"/>
<circle cx="446.33" cy="460.61" r="2.3" fill="#454296"/>
<circle cx="449.56" cy="463.57" r="2.3" fill="#454296"/>
<circle cx="452.78" cy="470.26" r="2.3" fill="#454296"/>
<circle cx="456" cy="468.59" r="2.3" fill="#454296"/>
<circle cx="459.23" cy="470.39" r="2.3" fill="#454296"/>
<circle cx="462.45" cy="473.09" r="2.3" fill="#454296"/>
<circle cx="465.67" cy="475.54" r="2.3" fill="#454296"/>
<circle cx="468.9" cy="473.35" r="2.3" fill="#454296"/>
<circle cx="472.12" cy="476.95" r="2.3" fill="#454296"/>
<circle cx="475.34" cy="476.18" r="2.3" fill="#454296"/>
<circle cx="478.57" cy="474.64" r="2.3" fill="#454296"/>
<circle cx="481.79" cy="472.97" r="2.3" fill="#454296"/>
<circle cx="485.01" cy="477.08" r="2.3" fill="#454296"/>
<circle cx="488.24" cy="476.44" r="2.3" fill="#454296"/>
<circle cx="491.46" cy="476.7" r="2.3" fill="#454296"/>
<circle cx="494.68" cy="474.77" r="2.3" fill="#454296"/>
<circle cx="497.91" cy="480.94" r="2.3" fill="#454296"/>
<circle cx="501.13" cy="480.04" r="2.3" fill="#454296"/>
<circle cx="504.35" cy="482.62" r="2.3" fill="#454296"/>
<circle cx="507.58" cy="487.51" r="2.3" fill="#454296"/>
<circle cx="510.8" cy="483.9" r="2.3" fill="#454296"/>
<path d="M320.62 538.22V531.27M318.32 531.27H322.92M318.32 538.22H322.92" stroke="#dc7a78" stroke-width="1.4" fill="none"/>
<path d="M323.85 539.12V533.2M321.55 533.2H326.15M321.55 539.12H326.15" stroke="#dc7a78" stroke-width="1.4" fill="none"/>
<path d="M327.07 542.33V534.36M324.77 534.36H329.37M324.77 542.33H329.37" stroke="#dc7a78" stroke-width="1.4" fill="none"/>
<path d="M343.19 538.09V531.91M340.89 531.91H345.49M340.89 538.09H345.49" stroke="#dc7a78" stroke-width="1.4" fill="none"/>
<path d="M346.41 541.3V533.84M344.11 533.84H348.71M344.11 541.3H348.71" stroke="#dc7a78" stroke-width="1.4" fill="none"/>
<path d="M349.63 543.36V534.87M347.33 534.87H351.93M347.33 543.36H351.93" stroke="#dc7a78" stroke-width="1.4" fill="none"/>
<path d="M352.86 541.69V534.48M350.56 534.48H355.16M350.56 541.69H355.16" stroke="#dc7a78" stroke-width="1.4" fill="none"/>
<path d="M359.3 546.58V537.57M357 537.57H361.6M357 546.58H361.6" stroke="#dc7a78" stroke-width="1.4" fill="none"/>
<path d="M365.75 544.27V539.37M363.45 539.37H368.05M363.45 544.27H368.05" stroke="#dc7a78" stroke-width="1.4" fill="none"/>
<path d="M375.42 542.21V538.09M373.12 538.09H377.72M373.12 542.21H377.72" stroke="#dc7a78" stroke-width="1.4" fill="none"/>
<path d="M388.31 527.53V501.79M386.01 501.79H390.61M386.01 527.53H390.61" stroke="#dc7a78" stroke-width="1.4" fill="none"/>
<path d="M394.76 539.89V533.97M392.46 533.97H397.06M392.46 539.89H397.06" stroke="#dc7a78" stroke-width="1.4" fill="none"/>
<path d="M397.98 531.01V527.15M395.68 527.15H400.28M395.68 531.01H400.28" stroke="#dc7a78" stroke-width="1.4" fill="none"/>
<path d="M404.43 532.81V528.95M402.13 528.95H406.73M402.13 532.81H406.73" stroke="#dc7a78" stroke-width="1.4" fill="none"/>
<path d="M410.88 544.14V528.69M408.58 528.69H413.18M408.58 544.14H413.18" stroke="#dc7a78" stroke-width="1.4" fill="none"/>
<path d="M420.55 537.06V531.65M418.25 531.65H422.85M418.25 537.06H422.85" stroke="#dc7a78" stroke-width="1.4" fill="none"/>
<path d="M423.77 532.94V525.73M421.47 525.73H426.07M421.47 532.94H426.07" stroke="#dc7a78" stroke-width="1.4" fill="none"/>
<path d="M426.99 534.87V526.38M424.69 526.38H429.29M424.69 534.87H429.29" stroke="#dc7a78" stroke-width="1.4" fill="none"/>
<path d="M433.44 532.04V526.12M431.14 526.12H435.74M431.14 532.04H435.74" stroke="#dc7a78" stroke-width="1.4" fill="none"/>
<path d="M439.89 534.23V526.25M437.59 526.25H442.19M437.59 534.23H442.19" stroke="#dc7a78" stroke-width="1.4" fill="none"/>
<path d="M446.33 536.03V527.28M444.03 527.28H448.63M444.03 536.03H448.63" stroke="#dc7a78" stroke-width="1.4" fill="none"/>
<path d="M449.56 533.2V526.76M447.26 526.76H451.86M447.26 533.2H451.86" stroke="#dc7a78" stroke-width="1.4" fill="none"/>
<path d="M478.57 537.83V533.2M476.27 533.2H480.87M476.27 537.83H480.87" stroke="#dc7a78" stroke-width="1.4" fill="none"/>
<path d="M485.01 532.81V528.43M482.71 528.43H487.31M482.71 532.81H487.31" stroke="#dc7a78" stroke-width="1.4" fill="none"/>
<path d="M488.24 539.89V532.17M485.94 532.17H490.54M485.94 539.89H490.54" stroke="#dc7a78" stroke-width="1.4" fill="none"/>
<path d="M497.91 535V528.56M495.61 528.56H500.21M495.61 535H500.21" stroke="#dc7a78" stroke-width="1.4" fill="none"/>
<path d="M501.13 538.34V530.37M498.83 530.37H503.43M498.83 538.34H503.43" stroke="#dc7a78" stroke-width="1.4" fill="none"/>
<path d="M317.4 537.44 L320.62 534.74 L323.85 536.16 L327.07 538.34 L330.29 542.33 L333.52 535.9 L336.74 536.67 L339.96 535 L343.19 535 L346.41 537.57 L349.63 539.12 L352.86 538.09 L356.08 538.73 L359.3 542.08 L362.53 541.82 L365.75 541.82 L368.97 542.21 L372.2 541.82 L375.42 540.15 L378.64 534.48 L381.87 535.26 L385.09 528.82 L388.31 514.66 L391.54 530.49 L394.76 536.93 L397.98 529.08 L401.21 531.01 L404.43 530.88 L407.65 531.78 L410.88 536.41 L414.1 534.74 L417.32 528.56 L420.55 534.36 L423.77 529.34 L426.99 530.62 L430.22 531.91 L433.44 529.08 L436.66 533.97 L439.89 530.24 L443.11 531.52 L446.33 531.65 L449.56 529.98 L452.78 529.08 L456 530.11 L459.23 529.85 L462.45 534.87 L465.67 530.11 L468.9 531.27 L472.12 531.65 L475.34 528.69 L478.57 535.51 L481.79 528.82 L485.01 530.62 L488.24 536.03 L491.46 528.05 L494.68 534.74 L497.91 531.78 L501.13 534.36 L504.35 534.36 L507.58 527.79 L510.8 530.88" stroke="#dc7a78" stroke-width="2.8" fill="none" stroke-linejoin="round" stroke-dasharray="3 1.5"/>
<circle cx="317.4" cy="537.44" r="2.3" fill="#dc7a78"/>
<circle cx="320.62" cy="534.74" r="2.3" fill="#dc7a78"/>
<circle cx="323.85" cy="536.16" r="2.3" fill="#dc7a78"/>
<circle cx="327.07" cy="538.34" r="2.3" fill="#dc7a78"/>
<circle cx="330.29" cy="542.33" r="2.3" fill="#dc7a78"/>
<circle cx="333.52" cy="535.9" r="2.3" fill="#dc7a78"/>
<circle cx="336.74" cy="536.67" r="2.3" fill="#dc7a78"/>
<circle cx="339.96" cy="535" r="2.3" fill="#dc7a78"/>
<circle cx="343.19" cy="535" r="2.3" fill="#dc7a78"/>
<circle cx="346.41" cy="537.57" r="2.3" fill="#dc7a78"/>
<circle cx="349.63" cy="539.12" r="2.3" fill="#dc7a78"/>
<circle cx="352.86" cy="538.09" r="2.3" fill="#dc7a78"/>
<circle cx="356.08" cy="538.73" r="2.3" fill="#dc7a78"/>
<circle cx="359.3" cy="542.08" r="2.3" fill="#dc7a78"/>
<circle cx="362.53" cy="541.82" r="2.3" fill="#dc7a78"/>
<circle cx="365.75" cy="541.82" r="2.3" fill="#dc7a78"/>
<circle cx="368.97" cy="542.21" r="2.3" fill="#dc7a78"/>
<circle cx="372.2" cy="541.82" r="2.3" fill="#dc7a78"/>
<circle cx="375.42" cy="540.15" r="2.3" fill="#dc7a78"/>
<circle cx="378.64" cy="534.48" r="2.3" fill="#dc7a78"/>
<circle cx="381.87" cy="535.26" r="2.3" fill="#dc7a78"/>
<circle cx="385.09" cy="528.82" r="2.3" fill="#dc7a78"/>
<circle cx="388.31" cy="514.66" r="2.3" fill="#dc7a78"/>
<circle cx="391.54" cy="530.49" r="2.3" fill="#dc7a78"/>
<circle cx="394.76" cy="536.93" r="2.3" fill="#dc7a78"/>
<circle cx="397.98" cy="529.08" r="2.3" fill="#dc7a78"/>
<circle cx="401.21" cy="531.01" r="2.3" fill="#dc7a78"/>
<circle cx="404.43" cy="530.88" r="2.3" fill="#dc7a78"/>
<circle cx="407.65" cy="531.78" r="2.3" fill="#dc7a78"/>
<circle cx="410.88" cy="536.41" r="2.3" fill="#dc7a78"/>
<circle cx="414.1" cy="534.74" r="2.3" fill="#dc7a78"/>
<circle cx="417.32" cy="528.56" r="2.3" fill="#dc7a78"/>
<circle cx="420.55" cy="534.36" r="2.3" fill="#dc7a78"/>
<circle cx="423.77" cy="529.34" r="2.3" fill="#dc7a78"/>
<circle cx="426.99" cy="530.62" r="2.3" fill="#dc7a78"/>
<circle cx="430.22" cy="531.91" r="2.3" fill="#dc7a78"/>
<circle cx="433.44" cy="529.08" r="2.3" fill="#dc7a78"/>
<circle cx="436.66" cy="533.97" r="2.3" fill="#dc7a78"/>
<circle cx="439.89" cy="530.24" r="2.3" fill="#dc7a78"/>
<circle cx="443.11" cy="531.52" r="2.3" fill="#dc7a78"/>
<circle cx="446.33" cy="531.65" r="2.3" fill="#dc7a78"/>
<circle cx="449.56" cy="529.98" r="2.3" fill="#dc7a78"/>
<circle cx="452.78" cy="529.08" r="2.3" fill="#dc7a78"/>
<circle cx="456" cy="530.11" r="2.3" fill="#dc7a78"/>
<circle cx="459.23" cy="529.85" r="2.3" fill="#dc7a78"/>
<circle cx="462.45" cy="534.87" r="2.3" fill="#dc7a78"/>
<circle cx="465.67" cy="530.11" r="2.3" fill="#dc7a78"/>
<circle cx="468.9" cy="531.27" r="2.3" fill="#dc7a78"/>
<circle cx="472.12" cy="531.65" r="2.3" fill="#dc7a78"/>
<circle cx="475.34" cy="528.69" r="2.3" fill="#dc7a78"/>
<circle cx="478.57" cy="535.51" r="2.3" fill="#dc7a78"/>
<circle cx="481.79" cy="528.82" r="2.3" fill="#dc7a78"/>
<circle cx="485.01" cy="530.62" r="2.3" fill="#dc7a78"/>
<circle cx="488.24" cy="536.03" r="2.3" fill="#dc7a78"/>
<circle cx="491.46" cy="528.05" r="2.3" fill="#dc7a78"/>
<circle cx="494.68" cy="534.74" r="2.3" fill="#dc7a78"/>
<circle cx="497.91" cy="531.78" r="2.3" fill="#dc7a78"/>
<circle cx="501.13" cy="534.36" r="2.3" fill="#dc7a78"/>
<circle cx="504.35" cy="534.36" r="2.3" fill="#dc7a78"/>
<circle cx="507.58" cy="527.79" r="2.3" fill="#dc7a78"/>
<circle cx="510.8" cy="530.88" r="2.3" fill="#dc7a78"/>
<path d="M330.29 538.6V536.8M327.99 536.8H332.59M327.99 538.6H332.59" stroke="#9fcfee" stroke-width="1.4" fill="none"/>
<path d="M333.52 535.38V533.84M331.22 533.84H335.82M331.22 535.38H335.82" stroke="#9fcfee" stroke-width="1.4" fill="none"/>
<path d="M336.74 536.41V531.01M334.44 531.01H339.04M334.44 536.41H339.04" stroke="#9fcfee" stroke-width="1.4" fill="none"/>
<path d="M339.96 536.93V532.3M337.66 532.3H342.26M337.66 536.93H342.26" stroke="#9fcfee" stroke-width="1.4" fill="none"/>
<path d="M343.19 536.16V534.36M340.89 534.36H345.49M340.89 536.16H345.49" stroke="#9fcfee" stroke-width="1.4" fill="none"/>
<path d="M346.41 537.06V532.68M344.11 532.68H348.71M344.11 537.06H348.71" stroke="#9fcfee" stroke-width="1.4" fill="none"/>
<path d="M362.53 533.97V528.82M360.23 528.82H364.83M360.23 533.97H364.83" stroke="#9fcfee" stroke-width="1.4" fill="none"/>
<path d="M365.75 538.73V535.38M363.45 535.38H368.05M363.45 538.73H368.05" stroke="#9fcfee" stroke-width="1.4" fill="none"/>
<path d="M368.97 536.41V534.87M366.67 534.87H371.27M366.67 536.41H371.27" stroke="#9fcfee" stroke-width="1.4" fill="none"/>
<path d="M372.2 539.25V535.38M369.9 535.38H374.5M369.9 539.25H374.5" stroke="#9fcfee" stroke-width="1.4" fill="none"/>
<path d="M375.42 536.03V532.94M373.12 532.94H377.72M373.12 536.03H377.72" stroke="#9fcfee" stroke-width="1.4" fill="none"/>
<path d="M385.09 532.81V531.01M382.79 531.01H387.39M382.79 532.81H387.39" stroke="#9fcfee" stroke-width="1.4" fill="none"/>
<path d="M388.31 531.27V529.98M386.01 529.98H390.61M386.01 531.27H390.61" stroke="#9fcfee" stroke-width="1.4" fill="none"/>
<path d="M394.76 530.75V523.8M392.46 523.8H397.06M392.46 530.75H397.06" stroke="#9fcfee" stroke-width="1.4" fill="none"/>
<path d="M401.21 532.17V526.5M398.91 526.5H403.51M398.91 532.17H403.51" stroke="#9fcfee" stroke-width="1.4" fill="none"/>
<path d="M404.43 534.36V528.95M402.13 528.95H406.73M402.13 534.36H406.73" stroke="#9fcfee" stroke-width="1.4" fill="none"/>
<path d="M407.65 528.43V524.57M405.35 524.57H409.95M405.35 528.43H409.95" stroke="#9fcfee" stroke-width="1.4" fill="none"/>
<path d="M414.1 533.2V531.39M411.8 531.39H416.4M411.8 533.2H416.4" stroke="#9fcfee" stroke-width="1.4" fill="none"/>
<path d="M417.32 529.34V525.22M415.02 525.22H419.62M415.02 529.34H419.62" stroke="#9fcfee" stroke-width="1.4" fill="none"/>
<path d="M426.99 527.53V525.99M424.69 525.99H429.29M424.69 527.53H429.29" stroke="#9fcfee" stroke-width="1.4" fill="none"/>
<path d="M433.44 532.81V527.41M431.14 527.41H435.74M431.14 532.81H435.74" stroke="#9fcfee" stroke-width="1.4" fill="none"/>
<path d="M436.66 527.15V524.83M434.36 524.83H438.96M434.36 527.15H438.96" stroke="#9fcfee" stroke-width="1.4" fill="none"/>
<path d="M439.89 535.77V528.82M437.59 528.82H442.19M437.59 535.77H442.19" stroke="#9fcfee" stroke-width="1.4" fill="none"/>
<path d="M443.11 528.43V523.8M440.81 523.8H445.41M440.81 528.43H445.41" stroke="#9fcfee" stroke-width="1.4" fill="none"/>
<path d="M446.33 530.49V526.38M444.03 526.38H448.63M444.03 530.49H448.63" stroke="#9fcfee" stroke-width="1.4" fill="none"/>
<path d="M449.56 531.78V528.69M447.26 528.69H451.86M447.26 531.78H451.86" stroke="#9fcfee" stroke-width="1.4" fill="none"/>
<path d="M456 529.21V522.77M453.7 522.77H458.3M453.7 529.21H458.3" stroke="#9fcfee" stroke-width="1.4" fill="none"/>
<path d="M459.23 529.59V523.16M456.93 523.16H461.53M456.93 529.59H461.53" stroke="#9fcfee" stroke-width="1.4" fill="none"/>
<path d="M462.45 533.84V531.27M460.15 531.27H464.75M460.15 533.84H464.75" stroke="#9fcfee" stroke-width="1.4" fill="none"/>
<path d="M468.9 528.82V524.96M466.6 524.96H471.2M466.6 528.82H471.2" stroke="#9fcfee" stroke-width="1.4" fill="none"/>
<path d="M481.79 527.41V526.12M479.49 526.12H484.09M479.49 527.41H484.09" stroke="#9fcfee" stroke-width="1.4" fill="none"/>
<path d="M485.01 533.45V527.28M482.71 527.28H487.31M482.71 533.45H487.31" stroke="#9fcfee" stroke-width="1.4" fill="none"/>
<path d="M491.46 531.91V524.45M489.16 524.45H493.76M489.16 531.91H493.76" stroke="#9fcfee" stroke-width="1.4" fill="none"/>
<path d="M494.68 531.78V522.77M492.38 522.77H496.98M492.38 531.78H496.98" stroke="#9fcfee" stroke-width="1.4" fill="none"/>
<path d="M497.91 527.41V526.12M495.61 526.12H500.21M495.61 527.41H500.21" stroke="#9fcfee" stroke-width="1.4" fill="none"/>
<path d="M501.13 534.36V528.69M498.83 528.69H503.43M498.83 534.36H503.43" stroke="#9fcfee" stroke-width="1.4" fill="none"/>
<path d="M317.4 533.58 L320.62 533.97 L323.85 532.55 L327.07 534.23 L330.29 537.7 L333.52 534.61 L336.74 533.71 L339.96 534.61 L343.19 535.26 L346.41 534.87 L349.63 536.67 L352.86 530.37 L356.08 535.9 L359.3 534.48 L362.53 531.39 L365.75 537.06 L368.97 535.64 L372.2 537.32 L375.42 534.48 L378.64 534.87 L381.87 530.62 L385.09 531.91 L388.31 530.62 L391.54 531.01 L394.76 527.28 L397.98 528.95 L401.21 529.34 L404.43 531.65 L407.65 526.5 L410.88 526.25 L414.1 532.3 L417.32 527.28 L420.55 532.55 L423.77 527.15 L426.99 526.76 L430.22 530.37 L433.44 530.11 L436.66 525.99 L439.89 532.3 L443.11 526.12 L446.33 528.43 L449.56 530.24 L452.78 526.12 L456 525.99 L459.23 526.38 L462.45 532.55 L465.67 529.98 L468.9 526.89 L472.12 528.95 L475.34 527.92 L478.57 528.05 L481.79 526.76 L485.01 530.37 L488.24 525.99 L491.46 528.18 L494.68 527.28 L497.91 526.76 L501.13 531.52 L504.35 531.01 L507.58 530.88 L510.8 528.43" stroke="#9fcfee" stroke-width="3.4" fill="none" stroke-linejoin="round"/>
<circle cx="317.4" cy="533.58" r="2.3" fill="#9fcfee"/>
<circle cx="320.62" cy="533.97" r="2.3" fill="#9fcfee"/>
<circle cx="323.85" cy="532.55" r="2.3" fill="#9fcfee"/>
<circle cx="327.07" cy="534.23" r="2.3" fill="#9fcfee"/>
<circle cx="330.29" cy="537.7" r="2.3" fill="#9fcfee"/>
<circle cx="333.52" cy="534.61" r="2.3" fill="#9fcfee"/>
<circle cx="336.74" cy="533.71" r="2.3" fill="#9fcfee"/>
<circle cx="339.96" cy="534.61" r="2.3" fill="#9fcfee"/>
<circle cx="343.19" cy="535.26" r="2.3" fill="#9fcfee"/>
<circle cx="346.41" cy="534.87" r="2.3" fill="#9fcfee"/>
<circle cx="349.63" cy="536.67" r="2.3" fill="#9fcfee"/>
<circle cx="352.86" cy="530.37" r="2.3" fill="#9fcfee"/>
<circle cx="356.08" cy="535.9" r="2.3" fill="#9fcfee"/>
<circle cx="359.3" cy="534.48" r="2.3" fill="#9fcfee"/>
<circle cx="362.53" cy="531.39" r="2.3" fill="#9fcfee"/>
<circle cx="365.75" cy="537.06" r="2.3" fill="#9fcfee"/>
<circle cx="368.97" cy="535.64" r="2.3" fill="#9fcfee"/>
<circle cx="372.2" cy="537.32" r="2.3" fill="#9fcfee"/>
<circle cx="375.42" cy="534.48" r="2.3" fill="#9fcfee"/>
<circle cx="378.64" cy="534.87" r="2.3" fill="#9fcfee"/>
<circle cx="381.87" cy="530.62" r="2.3" fill="#9fcfee"/>
<circle cx="385.09" cy="531.91" r="2.3" fill="#9fcfee"/>
<circle cx="388.31" cy="530.62" r="2.3" fill="#9fcfee"/>
<circle cx="391.54" cy="531.01" r="2.3" fill="#9fcfee"/>
<circle cx="394.76" cy="527.28" r="2.3" fill="#9fcfee"/>
<circle cx="397.98" cy="528.95" r="2.3" fill="#9fcfee"/>
<circle cx="401.21" cy="529.34" r="2.3" fill="#9fcfee"/>
<circle cx="404.43" cy="531.65" r="2.3" fill="#9fcfee"/>
<circle cx="407.65" cy="526.5" r="2.3" fill="#9fcfee"/>
<circle cx="410.88" cy="526.25" r="2.3" fill="#9fcfee"/>
<circle cx="414.1" cy="532.3" r="2.3" fill="#9fcfee"/>
<circle cx="417.32" cy="527.28" r="2.3" fill="#9fcfee"/>
<circle cx="420.55" cy="532.55" r="2.3" fill="#9fcfee"/>
<circle cx="423.77" cy="527.15" r="2.3" fill="#9fcfee"/>
<circle cx="426.99" cy="526.76" r="2.3" fill="#9fcfee"/>
<circle cx="430.22" cy="530.37" r="2.3" fill="#9fcfee"/>
<circle cx="433.44" cy="530.11" r="2.3" fill="#9fcfee"/>
<circle cx="436.66" cy="525.99" r="2.3" fill="#9fcfee"/>
<circle cx="439.89" cy="532.3" r="2.3" fill="#9fcfee"/>
<circle cx="443.11" cy="526.12" r="2.3" fill="#9fcfee"/>
<circle cx="446.33" cy="528.43" r="2.3" fill="#9fcfee"/>
<circle cx="449.56" cy="530.24" r="2.3" fill="#9fcfee"/>
<circle cx="452.78" cy="526.12" r="2.3" fill="#9fcfee"/>
<circle cx="456" cy="525.99" r="2.3" fill="#9fcfee"/>
<circle cx="459.23" cy="526.38" r="2.3" fill="#9fcfee"/>
<circle cx="462.45" cy="532.55" r="2.3" fill="#9fcfee"/>
<circle cx="465.67" cy="529.98" r="2.3" fill="#9fcfee"/>
<circle cx="468.9" cy="526.89" r="2.3" fill="#9fcfee"/>
<circle cx="472.12" cy="528.95" r="2.3" fill="#9fcfee"/>
<circle cx="475.34" cy="527.92" r="2.3" fill="#9fcfee"/>
<circle cx="478.57" cy="528.05" r="2.3" fill="#9fcfee"/>
<circle cx="481.79" cy="526.76" r="2.3" fill="#9fcfee"/>
<circle cx="485.01" cy="530.37" r="2.3" fill="#9fcfee"/>
<circle cx="488.24" cy="525.99" r="2.3" fill="#9fcfee"/>
<circle cx="491.46" cy="528.18" r="2.3" fill="#9fcfee"/>
<circle cx="494.68" cy="527.28" r="2.3" fill="#9fcfee"/>
<circle cx="497.91" cy="526.76" r="2.3" fill="#9fcfee"/>
<circle cx="501.13" cy="531.52" r="2.3" fill="#9fcfee"/>
<circle cx="504.35" cy="531.01" r="2.3" fill="#9fcfee"/>
<circle cx="507.58" cy="530.88" r="2.3" fill="#9fcfee"/>
<circle cx="510.8" cy="528.43" r="2.3" fill="#9fcfee"/>
<line x1="48.7" y1="618.88" x2="48.7" y2="756.85" stroke="#000" stroke-width="1.85"/>
<line x1="47.78" y1="751.85" x2="250.12" y2="751.85" stroke="#000" stroke-width="1.85"/>
<line x1="43.7" y1="751.85" x2="48.7" y2="751.85" stroke="#000" stroke-width="1.85"/>
<text x="44.3" y="756.25" text-anchor="end" class="tk">0</text>
<line x1="43.7" y1="725.44" x2="48.7" y2="725.44" stroke="#000" stroke-width="1.85"/>
<text x="44.3" y="729.84" text-anchor="end" class="tk">100</text>
<line x1="43.7" y1="699.03" x2="48.7" y2="699.03" stroke="#000" stroke-width="1.85"/>
<text x="44.3" y="703.43" text-anchor="end" class="tk">200</text>
<line x1="43.7" y1="672.62" x2="48.7" y2="672.62" stroke="#000" stroke-width="1.85"/>
<text x="44.3" y="677.02" text-anchor="end" class="tk">300</text>
<line x1="43.7" y1="646.21" x2="48.7" y2="646.21" stroke="#000" stroke-width="1.85"/>
<text x="44.3" y="650.61" text-anchor="end" class="tk">400</text>
<line x1="43.7" y1="619.8" x2="48.7" y2="619.8" stroke="#000" stroke-width="1.85"/>
<text x="44.3" y="624.2" text-anchor="end" class="tk">500</text>
<line x1="48.7" y1="750.93" x2="48.7" y2="756.85" stroke="#000" stroke-width="1.85"/>
<text x="49.3" y="768.05" text-anchor="middle" class="tk">0</text>
<line x1="115.53" y1="750.93" x2="115.53" y2="756.85" stroke="#000" stroke-width="1.85"/>
<text x="116.13" y="768.05" text-anchor="middle" class="tk">20</text>
<line x1="182.37" y1="750.93" x2="182.37" y2="756.85" stroke="#000" stroke-width="1.85"/>
<text x="182.97" y="768.05" text-anchor="middle" class="tk">40</text>
<line x1="249.2" y1="750.93" x2="249.2" y2="756.85" stroke="#000" stroke-width="1.85"/>
<text x="249.8" y="768.05" text-anchor="middle" class="tk">60</text>
<text x="90" y="616.4" class="tt" textLength="114.5" lengthAdjust="spacingAndGlyphs">Zymosan IgG Opsonized</text>
<text x="127.9" y="782.3" class="xl" textLength="47.6" lengthAdjust="spacingAndGlyphs">Time (min)</text>
<text transform="translate(11.6,685.9) rotate(-90)" text-anchor="middle" class="xl" textLength="21.6" lengthAdjust="spacingAndGlyphs">RLU</text>
<path d="M52.04 750.98V749.79M49.54 749.79H54.54" stroke="#bf2824" stroke-width="1.4" fill="none"/>
<path d="M55.38 750.05V747.99M52.88 747.99H57.88" stroke="#bf2824" stroke-width="1.4" fill="none"/>
<path d="M65.41 747.89V745.99M62.91 745.99H67.91" stroke="#bf2824" stroke-width="1.4" fill="none"/>
<path d="M78.78 748.07V746.59M76.28 746.59H81.28" stroke="#bf2824" stroke-width="1.4" fill="none"/>
<path d="M82.12 747.89V746.86M79.62 746.86H84.62" stroke="#bf2824" stroke-width="1.4" fill="none"/>
<path d="M88.8 746.28V743.9M86.3 743.9H91.3" stroke="#bf2824" stroke-width="1.4" fill="none"/>
<path d="M108.85 734.6V733.26M106.35 733.26H111.35" stroke="#bf2824" stroke-width="1.4" fill="none"/>
<path d="M112.19 732.36V729.82M109.69 729.82H114.69" stroke="#bf2824" stroke-width="1.4" fill="none"/>
<path d="M115.53 732.81V729.96M113.03 729.96H118.03" stroke="#bf2824" stroke-width="1.4" fill="none"/>
<path d="M122.22 727.08V724.28M119.72 724.28H124.72" stroke="#bf2824" stroke-width="1.4" fill="none"/>
<path d="M138.93 706.08V703.57M136.43 703.57H141.43" stroke="#bf2824" stroke-width="1.4" fill="none"/>
<path d="M142.27 709.54V706M139.77 706H144.77" stroke="#bf2824" stroke-width="1.4" fill="none"/>
<path d="M145.61 698.13V695.54M143.11 695.54H148.11" stroke="#bf2824" stroke-width="1.4" fill="none"/>
<path d="M148.95 692.77V690.1M146.45 690.1H151.45" stroke="#bf2824" stroke-width="1.4" fill="none"/>
<path d="M152.29 694.75V691.24M149.79 691.24H154.79" stroke="#bf2824" stroke-width="1.4" fill="none"/>
<path d="M158.98 686.22V682.15M156.48 682.15H161.48" stroke="#bf2824" stroke-width="1.4" fill="none"/>
<path d="M162.32 679.38V675.37M159.82 675.37H164.82" stroke="#bf2824" stroke-width="1.4" fill="none"/>
<path d="M165.66 670.98V667.52M163.16 667.52H168.16" stroke="#bf2824" stroke-width="1.4" fill="none"/>
<path d="M169 670.4V667.13M166.5 667.13H171.5" stroke="#bf2824" stroke-width="1.4" fill="none"/>
<path d="M172.34 657.99V654.11M169.84 654.11H174.84" stroke="#bf2824" stroke-width="1.4" fill="none"/>
<path d="M189.05 640.77V635.25M186.55 635.25H191.55" stroke="#bf2824" stroke-width="1.4" fill="none"/>
<path d="M195.73 643.6V639.24M193.23 639.24H198.23" stroke="#bf2824" stroke-width="1.4" fill="none"/>
<path d="M205.76 645.66V641.09M203.26 641.09H208.26" stroke="#bf2824" stroke-width="1.4" fill="none"/>
<path d="M209.1 641.03V636.68M206.6 636.68H211.6" stroke="#bf2824" stroke-width="1.4" fill="none"/>
<path d="M212.44 639.77V635.51M209.94 635.51H214.94" stroke="#bf2824" stroke-width="1.4" fill="none"/>
<path d="M215.78 641.43V637.07M213.28 637.07H218.28" stroke="#bf2824" stroke-width="1.4" fill="none"/>
<path d="M219.12 643.86V639.58M216.62 639.58H221.62" stroke="#bf2824" stroke-width="1.4" fill="none"/>
<path d="M222.47 642.3V638.13M219.97 638.13H224.97" stroke="#bf2824" stroke-width="1.4" fill="none"/>
<path d="M239.18 658.86V653.97M236.68 653.97H241.68" stroke="#bf2824" stroke-width="1.4" fill="none"/>
<path d="M242.52 657.12V652.73M240.02 652.73H245.02" stroke="#bf2824" stroke-width="1.4" fill="none"/>
<path d="M48.7 748.42 L52.04 750.98 L55.38 750.05 L58.73 748.76 L62.07 747.78 L65.41 747.89 L68.75 747.55 L72.09 751.14 L75.43 751.53 L78.78 748.07 L82.12 747.89 L85.46 744.01 L88.8 746.28 L92.14 743.19 L95.48 744.51 L98.83 740.34 L102.17 742.95 L105.51 740.36 L108.85 734.6 L112.19 732.36 L115.53 732.81 L118.88 730.72 L122.22 727.08 L125.56 725.73 L128.9 719.37 L132.24 715.06 L135.58 715.8 L138.93 706.08 L142.27 709.54 L145.61 698.13 L148.95 692.77 L152.29 694.75 L155.63 688.97 L158.98 686.22 L162.32 679.38 L165.66 670.98 L169 670.4 L172.34 657.99 L175.68 654.53 L179.03 653.37 L182.37 652.23 L185.71 647.61 L189.05 640.77 L192.39 643.46 L195.73 643.6 L199.07 639.18 L202.42 641.11 L205.76 645.66 L209.1 641.03 L212.44 639.77 L215.78 641.43 L219.12 643.86 L222.47 642.3 L225.81 645.55 L229.15 648.32 L232.49 648.09 L235.83 650.04 L239.18 658.86 L242.52 657.12 L245.86 657.72 L249.2 664.56" stroke="#bf2824" stroke-width="2.5" fill="none" stroke-linejoin="round"/>
<circle cx="48.7" cy="748.42" r="2.3" fill="#bf2824"/>
<circle cx="52.04" cy="750.98" r="2.3" fill="#bf2824"/>
<circle cx="55.38" cy="750.05" r="2.3" fill="#bf2824"/>
<circle cx="58.73" cy="748.76" r="2.3" fill="#bf2824"/>
<circle cx="62.07" cy="747.78" r="2.3" fill="#bf2824"/>
<circle cx="65.41" cy="747.89" r="2.3" fill="#bf2824"/>
<circle cx="68.75" cy="747.55" r="2.3" fill="#bf2824"/>
<circle cx="72.09" cy="751.14" r="2.3" fill="#bf2824"/>
<circle cx="75.43" cy="751.53" r="2.3" fill="#bf2824"/>
<circle cx="78.78" cy="748.07" r="2.3" fill="#bf2824"/>
<circle cx="82.12" cy="747.89" r="2.3" fill="#bf2824"/>
<circle cx="85.46" cy="744.01" r="2.3" fill="#bf2824"/>
<circle cx="88.8" cy="746.28" r="2.3" fill="#bf2824"/>
<circle cx="92.14" cy="743.19" r="2.3" fill="#bf2824"/>
<circle cx="95.48" cy="744.51" r="2.3" fill="#bf2824"/>
<circle cx="98.83" cy="740.34" r="2.3" fill="#bf2824"/>
<circle cx="102.17" cy="742.95" r="2.3" fill="#bf2824"/>
<circle cx="105.51" cy="740.36" r="2.3" fill="#bf2824"/>
<circle cx="108.85" cy="734.6" r="2.3" fill="#bf2824"/>
<circle cx="112.19" cy="732.36" r="2.3" fill="#bf2824"/>
<circle cx="115.53" cy="732.81" r="2.3" fill="#bf2824"/>
<circle cx="118.88" cy="730.72" r="2.3" fill="#bf2824"/>
<circle cx="122.22" cy="727.08" r="2.3" fill="#bf2824"/>
<circle cx="125.56" cy="725.73" r="2.3" fill="#bf2824"/>
<circle cx="128.9" cy="719.37" r="2.3" fill="#bf2824"/>
<circle cx="132.24" cy="715.06" r="2.3" fill="#bf2824"/>
<circle cx="135.58" cy="715.8" r="2.3" fill="#bf2824"/>
<circle cx="138.93" cy="706.08" r="2.3" fill="#bf2824"/>
<circle cx="142.27" cy="709.54" r="2.3" fill="#bf2824"/>
<circle cx="145.61" cy="698.13" r="2.3" fill="#bf2824"/>
<circle cx="148.95" cy="692.77" r="2.3" fill="#bf2824"/>
<circle cx="152.29" cy="694.75" r="2.3" fill="#bf2824"/>
<circle cx="155.63" cy="688.97" r="2.3" fill="#bf2824"/>
<circle cx="158.98" cy="686.22" r="2.3" fill="#bf2824"/>
<circle cx="162.32" cy="679.38" r="2.3" fill="#bf2824"/>
<circle cx="165.66" cy="670.98" r="2.3" fill="#bf2824"/>
<circle cx="169" cy="670.4" r="2.3" fill="#bf2824"/>
<circle cx="172.34" cy="657.99" r="2.3" fill="#bf2824"/>
<circle cx="175.68" cy="654.53" r="2.3" fill="#bf2824"/>
<circle cx="179.03" cy="653.37" r="2.3" fill="#bf2824"/>
<circle cx="182.37" cy="652.23" r="2.3" fill="#bf2824"/>
<circle cx="185.71" cy="647.61" r="2.3" fill="#bf2824"/>
<circle cx="189.05" cy="640.77" r="2.3" fill="#bf2824"/>
<circle cx="192.39" cy="643.46" r="2.3" fill="#bf2824"/>
<circle cx="195.73" cy="643.6" r="2.3" fill="#bf2824"/>
<circle cx="199.07" cy="639.18" r="2.3" fill="#bf2824"/>
<circle cx="202.42" cy="641.11" r="2.3" fill="#bf2824"/>
<circle cx="205.76" cy="645.66" r="2.3" fill="#bf2824"/>
<circle cx="209.1" cy="641.03" r="2.3" fill="#bf2824"/>
<circle cx="212.44" cy="639.77" r="2.3" fill="#bf2824"/>
<circle cx="215.78" cy="641.43" r="2.3" fill="#bf2824"/>
<circle cx="219.12" cy="643.86" r="2.3" fill="#bf2824"/>
<circle cx="222.47" cy="642.3" r="2.3" fill="#bf2824"/>
<circle cx="225.81" cy="645.55" r="2.3" fill="#bf2824"/>
<circle cx="229.15" cy="648.32" r="2.3" fill="#bf2824"/>
<circle cx="232.49" cy="648.09" r="2.3" fill="#bf2824"/>
<circle cx="235.83" cy="650.04" r="2.3" fill="#bf2824"/>
<circle cx="239.18" cy="658.86" r="2.3" fill="#bf2824"/>
<circle cx="242.52" cy="657.12" r="2.3" fill="#bf2824"/>
<circle cx="245.86" cy="657.72" r="2.3" fill="#bf2824"/>
<circle cx="249.2" cy="664.56" r="2.3" fill="#bf2824"/>
<path d="M48.7 748.87V747.49M46.2 747.49H51.2" stroke="#454296" stroke-width="1.4" fill="none"/>
<path d="M55.38 749.39V744.64M52.88 744.64H57.88" stroke="#454296" stroke-width="1.4" fill="none"/>
<path d="M58.73 750.42V748.34M56.23 748.34H61.23" stroke="#454296" stroke-width="1.4" fill="none"/>
<path d="M62.07 749.95V748.55M59.57 748.55H64.57" stroke="#454296" stroke-width="1.4" fill="none"/>
<path d="M65.41 748.84V747.15M62.91 747.15H67.91" stroke="#454296" stroke-width="1.4" fill="none"/>
<path d="M75.43 749.24V747.33M72.93 747.33H77.93" stroke="#454296" stroke-width="1.4" fill="none"/>
<path d="M82.12 749.02V747.15M79.62 747.15H84.62" stroke="#454296" stroke-width="1.4" fill="none"/>
<path d="M85.46 750.29V748.68M82.96 748.68H87.96" stroke="#454296" stroke-width="1.4" fill="none"/>
<path d="M92.14 745.91V743.9M89.64 743.9H94.64" stroke="#454296" stroke-width="1.4" fill="none"/>
<path d="M95.48 745.7V744.14M92.98 744.14H97.98" stroke="#454296" stroke-width="1.4" fill="none"/>
<path d="M98.83 745.35V744.11M96.33 744.11H101.33" stroke="#454296" stroke-width="1.4" fill="none"/>
<path d="M102.17 744.01V742.61M99.67 742.61H104.67" stroke="#454296" stroke-width="1.4" fill="none"/>
<path d="M112.19 742.32V740.39M109.69 740.39H114.69" stroke="#454296" stroke-width="1.4" fill="none"/>
<path d="M115.53 740.63V739.31M113.03 739.31H118.03" stroke="#454296" stroke-width="1.4" fill="none"/>
<path d="M122.22 741.34V738.99M119.72 738.99H124.72" stroke="#454296" stroke-width="1.4" fill="none"/>
<path d="M125.56 738.72V736.51M123.06 736.51H128.06" stroke="#454296" stroke-width="1.4" fill="none"/>
<path d="M138.93 735.61V733.65M136.43 733.65H141.43" stroke="#454296" stroke-width="1.4" fill="none"/>
<path d="M142.27 733.63V731.14M139.77 731.14H144.77" stroke="#454296" stroke-width="1.4" fill="none"/>
<path d="M152.29 732.91V730.91M149.79 730.91H154.79" stroke="#454296" stroke-width="1.4" fill="none"/>
<path d="M155.63 724.23V721.87M153.13 721.87H158.13" stroke="#454296" stroke-width="1.4" fill="none"/>
<path d="M158.98 724.96V723.17M156.48 723.17H161.48" stroke="#454296" stroke-width="1.4" fill="none"/>
<path d="M165.66 719.15V716.38M163.16 716.38H168.16" stroke="#454296" stroke-width="1.4" fill="none"/>
<path d="M169 716.7V713.93M166.5 713.93H171.5" stroke="#454296" stroke-width="1.4" fill="none"/>
<path d="M172.34 717.44V715.3M169.84 715.3H174.84" stroke="#454296" stroke-width="1.4" fill="none"/>
<path d="M175.68 717.78V715.14M173.18 715.14H178.18" stroke="#454296" stroke-width="1.4" fill="none"/>
<path d="M185.71 710.04V707.01M183.21 707.01H188.21" stroke="#454296" stroke-width="1.4" fill="none"/>
<path d="M192.39 706.27V703.65M189.89 703.65H194.89" stroke="#454296" stroke-width="1.4" fill="none"/>
<path d="M205.76 702.41V700.01M203.26 700.01H208.26" stroke="#454296" stroke-width="1.4" fill="none"/>
<path d="M209.1 702.33V698.82M206.6 698.82H211.6" stroke="#454296" stroke-width="1.4" fill="none"/>
<path d="M212.44 699.24V695.6M209.94 695.6H214.94" stroke="#454296" stroke-width="1.4" fill="none"/>
<path d="M222.47 696.79V693.64M219.97 693.64H224.97" stroke="#454296" stroke-width="1.4" fill="none"/>
<path d="M225.81 695.57V692.03M223.31 692.03H228.31" stroke="#454296" stroke-width="1.4" fill="none"/>
<path d="M229.15 695.44V692.56M226.65 692.56H231.65" stroke="#454296" stroke-width="1.4" fill="none"/>
<path d="M232.49 690.5V686.72M229.99 686.72H234.99" stroke="#454296" stroke-width="1.4" fill="none"/>
<path d="M235.83 690.5V687.54M233.33 687.54H238.33" stroke="#454296" stroke-width="1.4" fill="none"/>
<path d="M48.7 748.87 L52.04 748.89 L55.38 749.39 L58.73 750.42 L62.07 749.95 L65.41 748.84 L68.75 750.21 L72.09 751.14 L75.43 749.24 L78.78 751.45 L82.12 749.02 L85.46 750.29 L88.8 749.39 L92.14 745.91 L95.48 745.7 L98.83 745.35 L102.17 744.01 L105.51 744.72 L108.85 743.27 L112.19 742.32 L115.53 740.63 L118.88 738.8 L122.22 741.34 L125.56 738.72 L128.9 737.06 L132.24 738.96 L135.58 737.25 L138.93 735.61 L142.27 733.63 L145.61 731.7 L148.95 730.11 L152.29 732.91 L155.63 724.23 L158.98 724.96 L162.32 721.58 L165.66 719.15 L169 716.7 L172.34 717.44 L175.68 717.78 L179.03 713 L182.37 710.6 L185.71 710.04 L189.05 710.18 L192.39 706.27 L195.73 707.88 L199.07 702.67 L202.42 700.59 L205.76 702.41 L209.1 702.33 L212.44 699.24 L215.78 698.53 L219.12 698.5 L222.47 696.79 L225.81 695.57 L229.15 695.44 L232.49 690.5 L235.83 690.5 L239.18 694.62 L242.52 691.69 L245.86 690.61 L249.2 690.21" stroke="#454296" stroke-width="2.5" fill="none" stroke-linejoin="round"/>
<circle cx="48.7" cy="748.87" r="2.3" fill="#454296"/>
<circle cx="52.04" cy="748.89" r="2.3" fill="#454296"/>
<circle cx="55.38" cy="749.39" r="2.3" fill="#454296"/>
<circle cx="58.73" cy="750.42" r="2.3" fill="#454296"/>
<circle cx="62.07" cy="749.95" r="2.3" fill="#454296"/>
<circle cx="65.41" cy="748.84" r="2.3" fill="#454296"/>
<circle cx="68.75" cy="750.21" r="2.3" fill="#454296"/>
<circle cx="72.09" cy="751.14" r="2.3" fill="#454296"/>
<circle cx="75.43" cy="749.24" r="2.3" fill="#454296"/>
<circle cx="78.78" cy="751.45" r="2.3" fill="#454296"/>
<circle cx="82.12" cy="749.02" r="2.3" fill="#454296"/>
<circle cx="85.46" cy="750.29" r="2.3" fill="#454296"/>
<circle cx="88.8" cy="749.39" r="2.3" fill="#454296"/>
<circle cx="92.14" cy="745.91" r="2.3" fill="#454296"/>
<circle cx="95.48" cy="745.7" r="2.3" fill="#454296"/>
<circle cx="98.83" cy="745.35" r="2.3" fill="#454296"/>
<circle cx="102.17" cy="744.01" r="2.3" fill="#454296"/>
<circle cx="105.51" cy="744.72" r="2.3" fill="#454296"/>
<circle cx="108.85" cy="743.27" r="2.3" fill="#454296"/>
<circle cx="112.19" cy="742.32" r="2.3" fill="#454296"/>
<circle cx="115.53" cy="740.63" r="2.3" fill="#454296"/>
<circle cx="118.88" cy="738.8" r="2.3" fill="#454296"/>
<circle cx="122.22" cy="741.34" r="2.3" fill="#454296"/>
<circle cx="125.56" cy="738.72" r="2.3" fill="#454296"/>
<circle cx="128.9" cy="737.06" r="2.3" fill="#454296"/>
<circle cx="132.24" cy="738.96" r="2.3" fill="#454296"/>
<circle cx="135.58" cy="737.25" r="2.3" fill="#454296"/>
<circle cx="138.93" cy="735.61" r="2.3" fill="#454296"/>
<circle cx="142.27" cy="733.63" r="2.3" fill="#454296"/>
<circle cx="145.61" cy="731.7" r="2.3" fill="#454296"/>
<circle cx="148.95" cy="730.11" r="2.3" fill="#454296"/>
<circle cx="152.29" cy="732.91" r="2.3" fill="#454296"/>
<circle cx="155.63" cy="724.23" r="2.3" fill="#454296"/>
<circle cx="158.98" cy="724.96" r="2.3" fill="#454296"/>
<circle cx="162.32" cy="721.58" r="2.3" fill="#454296"/>
<circle cx="165.66" cy="719.15" r="2.3" fill="#454296"/>
<circle cx="169" cy="716.7" r="2.3" fill="#454296"/>
<circle cx="172.34" cy="717.44" r="2.3" fill="#454296"/>
<circle cx="175.68" cy="717.78" r="2.3" fill="#454296"/>
<circle cx="179.03" cy="713" r="2.3" fill="#454296"/>
<circle cx="182.37" cy="710.6" r="2.3" fill="#454296"/>
<circle cx="185.71" cy="710.04" r="2.3" fill="#454296"/>
<circle cx="189.05" cy="710.18" r="2.3" fill="#454296"/>
<circle cx="192.39" cy="706.27" r="2.3" fill="#454296"/>
<circle cx="195.73" cy="707.88" r="2.3" fill="#454296"/>
<circle cx="199.07" cy="702.67" r="2.3" fill="#454296"/>
<circle cx="202.42" cy="700.59" r="2.3" fill="#454296"/>
<circle cx="205.76" cy="702.41" r="2.3" fill="#454296"/>
<circle cx="209.1" cy="702.33" r="2.3" fill="#454296"/>
<circle cx="212.44" cy="699.24" r="2.3" fill="#454296"/>
<circle cx="215.78" cy="698.53" r="2.3" fill="#454296"/>
<circle cx="219.12" cy="698.5" r="2.3" fill="#454296"/>
<circle cx="222.47" cy="696.79" r="2.3" fill="#454296"/>
<circle cx="225.81" cy="695.57" r="2.3" fill="#454296"/>
<circle cx="229.15" cy="695.44" r="2.3" fill="#454296"/>
<circle cx="232.49" cy="690.5" r="2.3" fill="#454296"/>
<circle cx="235.83" cy="690.5" r="2.3" fill="#454296"/>
<circle cx="239.18" cy="694.62" r="2.3" fill="#454296"/>
<circle cx="242.52" cy="691.69" r="2.3" fill="#454296"/>
<circle cx="245.86" cy="690.61" r="2.3" fill="#454296"/>
<circle cx="249.2" cy="690.21" r="2.3" fill="#454296"/>
<line x1="317" y1="620.18" x2="317" y2="756.85" stroke="#000" stroke-width="1.85"/>
<line x1="316.07" y1="751.85" x2="514.82" y2="751.85" stroke="#000" stroke-width="1.85"/>
<line x1="312" y1="751.85" x2="317" y2="751.85" stroke="#000" stroke-width="1.85"/>
<text x="312.6" y="756.25" text-anchor="end" class="tk">0</text>
<line x1="312" y1="708.27" x2="317" y2="708.27" stroke="#000" stroke-width="1.85"/>
<text x="312.6" y="712.67" text-anchor="end" class="tk">100</text>
<line x1="312" y1="664.68" x2="317" y2="664.68" stroke="#000" stroke-width="1.85"/>
<text x="312.6" y="669.08" text-anchor="end" class="tk">200</text>
<line x1="312" y1="621.1" x2="317" y2="621.1" stroke="#000" stroke-width="1.85"/>
<text x="312.6" y="625.5" text-anchor="end" class="tk">300</text>
<line x1="317" y1="750.93" x2="317" y2="756.85" stroke="#000" stroke-width="1.85"/>
<text x="317.6" y="768.05" text-anchor="middle" class="tk">0</text>
<line x1="382.63" y1="750.93" x2="382.63" y2="756.85" stroke="#000" stroke-width="1.85"/>
<text x="383.23" y="768.05" text-anchor="middle" class="tk">20</text>
<line x1="448.27" y1="750.93" x2="448.27" y2="756.85" stroke="#000" stroke-width="1.85"/>
<text x="448.87" y="768.05" text-anchor="middle" class="tk">40</text>
<line x1="513.9" y1="750.93" x2="513.9" y2="756.85" stroke="#000" stroke-width="1.85"/>
<text x="514.5" y="768.05" text-anchor="middle" class="tk">60</text>
<text x="369.5" y="617" class="tt" textLength="100" lengthAdjust="spacingAndGlyphs">Zymosan without Ca<tspan dy="-3" font-size="6">2+</tspan></text>
<text x="396" y="782.3" class="xl" textLength="48.6" lengthAdjust="spacingAndGlyphs">Time (min)</text>
<text transform="translate(282.8,685.9) rotate(-90)" text-anchor="middle" class="xl" textLength="21.6" lengthAdjust="spacingAndGlyphs">RLU</text>
<path d="M317 749.37V746.79M314.5 746.79H319.5" stroke="#bf2824" stroke-width="1.4" fill="none"/>
<path d="M323.56 747.19V743.74M321.06 743.74H326.06" stroke="#bf2824" stroke-width="1.4" fill="none"/>
<path d="M326.85 752.33V751.41M324.35 751.41H329.35" stroke="#bf2824" stroke-width="1.4" fill="none"/>
<path d="M330.13 750.8V747.84M327.63 747.84H332.63" stroke="#bf2824" stroke-width="1.4" fill="none"/>
<path d="M336.69 747.62V744.53M334.19 744.53H339.19" stroke="#bf2824" stroke-width="1.4" fill="none"/>
<path d="M343.25 749.28V747.49M340.75 747.49H345.75" stroke="#bf2824" stroke-width="1.4" fill="none"/>
<path d="M353.1 741.35V740M350.6 740H355.6" stroke="#bf2824" stroke-width="1.4" fill="none"/>
<path d="M356.38 740.74V738.21M353.88 738.21H358.88" stroke="#bf2824" stroke-width="1.4" fill="none"/>
<path d="M362.94 738.77V736.51M360.44 736.51H365.44" stroke="#bf2824" stroke-width="1.4" fill="none"/>
<path d="M372.79 730.32V726.05M370.29 726.05H375.29" stroke="#bf2824" stroke-width="1.4" fill="none"/>
<path d="M376.07 729.97V726.7M373.57 726.7H378.57" stroke="#bf2824" stroke-width="1.4" fill="none"/>
<path d="M379.35 727.97V724.44M376.85 724.44H381.85" stroke="#bf2824" stroke-width="1.4" fill="none"/>
<path d="M385.91 725.26V723.3M383.41 723.3H388.41" stroke="#bf2824" stroke-width="1.4" fill="none"/>
<path d="M395.76 717.72V713.5M393.26 713.5H398.26" stroke="#bf2824" stroke-width="1.4" fill="none"/>
<path d="M399.04 713.45V708.83M396.54 708.83H401.54" stroke="#bf2824" stroke-width="1.4" fill="none"/>
<path d="M402.32 710.1V706.04M399.82 706.04H404.82" stroke="#bf2824" stroke-width="1.4" fill="none"/>
<path d="M405.61 704.3V699.55M403.11 699.55H408.11" stroke="#bf2824" stroke-width="1.4" fill="none"/>
<path d="M415.45 695.02V689.35M412.95 689.35H417.95" stroke="#bf2824" stroke-width="1.4" fill="none"/>
<path d="M425.29 685.78V680.77M422.79 680.77H427.79" stroke="#bf2824" stroke-width="1.4" fill="none"/>
<path d="M435.14 681.55V677.02M432.64 677.02H437.64" stroke="#bf2824" stroke-width="1.4" fill="none"/>
<path d="M441.7 677.5V672.96M439.2 672.96H444.2" stroke="#bf2824" stroke-width="1.4" fill="none"/>
<path d="M451.55 668.87V662.59M449.05 662.59H454.05" stroke="#bf2824" stroke-width="1.4" fill="none"/>
<path d="M454.83 670.22V664.33M452.33 664.33H457.33" stroke="#bf2824" stroke-width="1.4" fill="none"/>
<path d="M458.11 665.99V660.85M455.61 660.85H460.61" stroke="#bf2824" stroke-width="1.4" fill="none"/>
<path d="M461.39 667.73V661.81M458.89 661.81H463.89" stroke="#bf2824" stroke-width="1.4" fill="none"/>
<path d="M471.24 662.77V657.54M468.74 657.54H473.74" stroke="#bf2824" stroke-width="1.4" fill="none"/>
<path d="M474.52 660.8V654.96M472.02 654.96H477.02" stroke="#bf2824" stroke-width="1.4" fill="none"/>
<path d="M477.8 662.94V657.84M475.3 657.84H480.3" stroke="#bf2824" stroke-width="1.4" fill="none"/>
<path d="M484.37 662.2V655.4M481.87 655.4H486.87" stroke="#bf2824" stroke-width="1.4" fill="none"/>
<path d="M494.21 658.76V652.35M491.71 652.35H496.71" stroke="#bf2824" stroke-width="1.4" fill="none"/>
<path d="M500.77 657.88V650.65M498.27 650.65H503.27" stroke="#bf2824" stroke-width="1.4" fill="none"/>
<path d="M504.05 659.19V652.22M501.55 652.22H506.55" stroke="#bf2824" stroke-width="1.4" fill="none"/>
<path d="M507.34 653.53V646.42M504.84 646.42H509.84" stroke="#bf2824" stroke-width="1.4" fill="none"/>
<path d="M317 749.37 L320.28 749.93 L323.56 747.19 L326.85 752.33 L330.13 750.8 L333.41 750.06 L336.69 747.62 L339.97 744.48 L343.25 749.28 L346.53 746.18 L349.82 745.88 L353.1 741.35 L356.38 740.74 L359.66 741.7 L362.94 738.77 L366.23 733.59 L369.51 732.19 L372.79 730.32 L376.07 729.97 L379.35 727.97 L382.63 729.49 L385.91 725.26 L389.2 723.52 L392.48 718.03 L395.76 717.72 L399.04 713.45 L402.32 710.1 L405.61 704.3 L408.89 705.17 L412.17 697.59 L415.45 695.02 L418.73 696.98 L422.01 692.71 L425.29 685.78 L428.58 685.65 L431.86 681.94 L435.14 681.55 L438.42 681.38 L441.7 677.5 L444.99 674.49 L448.27 673.01 L451.55 668.87 L454.83 670.22 L458.11 665.99 L461.39 667.73 L464.67 667.12 L467.96 664.03 L471.24 662.77 L474.52 660.8 L477.8 662.94 L481.08 662.11 L484.37 662.2 L487.65 662.16 L490.93 662.63 L494.21 658.76 L497.49 663.33 L500.77 657.88 L504.05 659.19 L507.34 653.53 L510.62 647.16 L513.9 652.22" stroke="#bf2824" stroke-width="2.5" fill="none" stroke-linejoin="round"/>
<circle cx="317" cy="749.37" r="2.3" fill="#bf2824"/>
<circle cx="320.28" cy="749.93" r="2.3" fill="#bf2824"/>
<circle cx="323.56" cy="747.19" r="2.3" fill="#bf2824"/>
<circle cx="326.85" cy="752.33" r="2.3" fill="#bf2824"/>
<circle cx="330.13" cy="750.8" r="2.3" fill="#bf2824"/>
<circle cx="333.41" cy="750.06" r="2.3" fill="#bf2824"/>
<circle cx="336.69" cy="747.62" r="2.3" fill="#bf2824"/>
<circle cx="339.97" cy="744.48" r="2.3" fill="#bf2824"/>
<circle cx="343.25" cy="749.28" r="2.3" fill="#bf2824"/>
<circle cx="346.53" cy="746.18" r="2.3" fill="#bf2824"/>
<circle cx="349.82" cy="745.88" r="2.3" fill="#bf2824"/>
<circle cx="353.1" cy="741.35" r="2.3" fill="#bf2824"/>
<circle cx="356.38" cy="740.74" r="2.3" fill="#bf2824"/>
<circle cx="359.66" cy="741.7" r="2.3" fill="#bf2824"/>
<circle cx="362.94" cy="738.77" r="2.3" fill="#bf2824"/>
<circle cx="366.23" cy="733.59" r="2.3" fill="#bf2824"/>
<circle cx="369.51" cy="732.19" r="2.3" fill="#bf2824"/>
<circle cx="372.79" cy="730.32" r="2.3" fill="#bf2824"/>
<circle cx="376.07" cy="729.97" r="2.3" fill="#bf2824"/>
<circle cx="379.35" cy="727.97" r="2.3" fill="#bf2824"/>
<circle cx="382.63" cy="729.49" r="2.3" fill="#bf2824"/>
<circle cx="385.91" cy="725.26" r="2.3" fill="#bf2824"/>
<circle cx="389.2" cy="723.52" r="2.3" fill="#bf2824"/>
<circle cx="392.48" cy="718.03" r="2.3" fill="#bf2824"/>
<circle cx="395.76" cy="717.72" r="2.3" fill="#bf2824"/>
<circle cx="399.04" cy="713.45" r="2.3" fill="#bf2824"/>
<circle cx="402.32" cy="710.1" r="2.3" fill="#bf2824"/>
<circle cx="405.61" cy="704.3" r="2.3" fill="#bf2824"/>
<circle cx="408.89" cy="705.17" r="2.3" fill="#bf2824"/>
<circle cx="412.17" cy="697.59" r="2.3" fill="#bf2824"/>
<circle cx="415.45" cy="695.02" r="2.3" fill="#bf2824"/>
<circle cx="418.73" cy="696.98" r="2.3" fill="#bf2824"/>
<circle cx="422.01" cy="692.71" r="2.3" fill="#bf2824"/>
<circle cx="425.29" cy="685.78" r="2.3" fill="#bf2824"/>
<circle cx="428.58" cy="685.65" r="2.3" fill="#bf2824"/>
<circle cx="431.86" cy="681.94" r="2.3" fill="#bf2824"/>
<circle cx="435.14" cy="681.55" r="2.3" fill="#bf2824"/>
<circle cx="438.42" cy="681.38" r="2.3" fill="#bf2824"/>
<circle cx="441.7" cy="677.5" r="2.3" fill="#bf2824"/>
<circle cx="444.99" cy="674.49" r="2.3" fill="#bf2824"/>
<circle cx="448.27" cy="673.01" r="2.3" fill="#bf2824"/>
<circle cx="451.55" cy="668.87" r="2.3" fill="#bf2824"/>
<circle cx="454.83" cy="670.22" r="2.3" fill="#bf2824"/>
<circle cx="458.11" cy="665.99" r="2.3" fill="#bf2824"/>
<circle cx="461.39" cy="667.73" r="2.3" fill="#bf2824"/>
<circle cx="464.67" cy="667.12" r="2.3" fill="#bf2824"/>
<circle cx="467.96" cy="664.03" r="2.3" fill="#bf2824"/>
<circle cx="471.24" cy="662.77" r="2.3" fill="#bf2824"/>
<circle cx="474.52" cy="660.8" r="2.3" fill="#bf2824"/>
<circle cx="477.8" cy="662.94" r="2.3" fill="#bf2824"/>
<circle cx="481.08" cy="662.11" r="2.3" fill="#bf2824"/>
<circle cx="484.37" cy="662.2" r="2.3" fill="#bf2824"/>
<circle cx="487.65" cy="662.16" r="2.3" fill="#bf2824"/>
<circle cx="490.93" cy="662.63" r="2.3" fill="#bf2824"/>
<circle cx="494.21" cy="658.76" r="2.3" fill="#bf2824"/>
<circle cx="497.49" cy="663.33" r="2.3" fill="#bf2824"/>
<circle cx="500.77" cy="657.88" r="2.3" fill="#bf2824"/>
<circle cx="504.05" cy="659.19" r="2.3" fill="#bf2824"/>
<circle cx="507.34" cy="653.53" r="2.3" fill="#bf2824"/>
<circle cx="510.62" cy="647.16" r="2.3" fill="#bf2824"/>
<circle cx="513.9" cy="652.22" r="2.3" fill="#bf2824"/>
<path d="M320.28 749.8V748.15M317.78 748.15H322.78" stroke="#454296" stroke-width="1.4" fill="none"/>
<path d="M323.56 744.31V732.98M321.06 732.98H326.06" stroke="#454296" stroke-width="1.4" fill="none"/>
<path d="M326.85 746.62V744.35M324.35 744.35H329.35" stroke="#454296" stroke-width="1.4" fill="none"/>
<path d="M330.13 745.01V743.74M327.63 743.74H332.63" stroke="#454296" stroke-width="1.4" fill="none"/>
<path d="M333.41 748.45V747.06M330.91 747.06H335.91" stroke="#454296" stroke-width="1.4" fill="none"/>
<path d="M349.82 741.08V737.95M347.32 737.95H352.32" stroke="#454296" stroke-width="1.4" fill="none"/>
<path d="M353.1 745.23V743.26M350.6 743.26H355.6" stroke="#454296" stroke-width="1.4" fill="none"/>
<path d="M359.66 742.35V739.69M357.16 739.69H362.16" stroke="#454296" stroke-width="1.4" fill="none"/>
<path d="M362.94 738.99V735.59M360.44 735.59H365.44" stroke="#454296" stroke-width="1.4" fill="none"/>
<path d="M369.51 737.38V735.81M367.01 735.81H372.01" stroke="#454296" stroke-width="1.4" fill="none"/>
<path d="M372.79 738.56V735.59M370.29 735.59H375.29" stroke="#454296" stroke-width="1.4" fill="none"/>
<path d="M376.07 737.34V734.42M373.57 734.42H378.57" stroke="#454296" stroke-width="1.4" fill="none"/>
<path d="M385.91 733.55V730.01M383.41 730.01H388.41" stroke="#454296" stroke-width="1.4" fill="none"/>
<path d="M395.76 722.17V719.21M393.26 719.21H398.26" stroke="#454296" stroke-width="1.4" fill="none"/>
<path d="M402.32 723.22V719.82M399.82 719.82H404.82" stroke="#454296" stroke-width="1.4" fill="none"/>
<path d="M408.89 713.19V709.84M406.39 709.84H411.39" stroke="#454296" stroke-width="1.4" fill="none"/>
<path d="M422.01 702.82V700.42M419.51 700.42H424.51" stroke="#454296" stroke-width="1.4" fill="none"/>
<path d="M428.58 698.02V694.67M426.08 694.67H431.08" stroke="#454296" stroke-width="1.4" fill="none"/>
<path d="M435.14 693.62V689.05M432.64 689.05H437.64" stroke="#454296" stroke-width="1.4" fill="none"/>
<path d="M444.99 683.9V679.02M442.49 679.02H447.49" stroke="#454296" stroke-width="1.4" fill="none"/>
<path d="M448.27 683.99V681.03M445.77 681.03H450.77" stroke="#454296" stroke-width="1.4" fill="none"/>
<path d="M451.55 681.42V676.32M449.05 676.32H454.05" stroke="#454296" stroke-width="1.4" fill="none"/>
<path d="M454.83 680.94V677.15M452.33 677.15H457.33" stroke="#454296" stroke-width="1.4" fill="none"/>
<path d="M458.11 679.59V674.97M455.61 674.97H460.61" stroke="#454296" stroke-width="1.4" fill="none"/>
<path d="M461.39 679.28V675.4M458.89 675.4H463.89" stroke="#454296" stroke-width="1.4" fill="none"/>
<path d="M464.67 675.54V672.22M462.17 672.22H467.17" stroke="#454296" stroke-width="1.4" fill="none"/>
<path d="M474.52 671.53V666.34M472.02 666.34H477.02" stroke="#454296" stroke-width="1.4" fill="none"/>
<path d="M477.8 670.65V666.17M475.3 666.17H480.3" stroke="#454296" stroke-width="1.4" fill="none"/>
<path d="M481.08 663.33V658.32M478.58 658.32H483.58" stroke="#454296" stroke-width="1.4" fill="none"/>
<path d="M484.37 663.59V658.45M481.87 658.45H486.87" stroke="#454296" stroke-width="1.4" fill="none"/>
<path d="M490.93 661.41V657.27M488.43 657.27H493.43" stroke="#454296" stroke-width="1.4" fill="none"/>
<path d="M494.21 663.86V659.41M491.71 659.41H496.71" stroke="#454296" stroke-width="1.4" fill="none"/>
<path d="M500.77 661.94V656.79M498.27 656.79H503.27" stroke="#454296" stroke-width="1.4" fill="none"/>
<path d="M504.05 661.46V657.27M501.55 657.27H506.55" stroke="#454296" stroke-width="1.4" fill="none"/>
<path d="M513.9 657.71V652.52M511.4 652.52H516.4" stroke="#454296" stroke-width="1.4" fill="none"/>
<path d="M317 750.76 L320.28 749.8 L323.56 744.31 L326.85 746.62 L330.13 745.01 L333.41 748.45 L336.69 745.75 L339.97 745.66 L343.25 744.7 L346.53 741.78 L349.82 741.08 L353.1 745.23 L356.38 744.48 L359.66 742.35 L362.94 738.99 L366.23 737.21 L369.51 737.38 L372.79 738.56 L376.07 737.34 L379.35 738.03 L382.63 734.42 L385.91 733.55 L389.2 726.53 L392.48 728.1 L395.76 722.17 L399.04 723.83 L402.32 723.22 L405.61 720.38 L408.89 713.19 L412.17 709.05 L415.45 712.19 L418.73 706.13 L422.01 702.82 L425.29 701.29 L428.58 698.02 L431.86 695.63 L435.14 693.62 L438.42 691.36 L441.7 685.6 L444.99 683.9 L448.27 683.99 L451.55 681.42 L454.83 680.94 L458.11 679.59 L461.39 679.28 L464.67 675.54 L467.96 671.74 L471.24 672.09 L474.52 671.53 L477.8 670.65 L481.08 663.33 L484.37 663.59 L487.65 662.11 L490.93 661.41 L494.21 663.86 L497.49 659.15 L500.77 661.94 L504.05 661.46 L507.34 661.11 L510.62 657.58 L513.9 657.71" stroke="#454296" stroke-width="2.5" fill="none" stroke-linejoin="round"/>
<circle cx="317" cy="750.76" r="2.3" fill="#454296"/>
<circle cx="320.28" cy="749.8" r="2.3" fill="#454296"/>
<circle cx="323.56" cy="744.31" r="2.3" fill="#454296"/>
<circle cx="326.85" cy="746.62" r="2.3" fill="#454296"/>
<circle cx="330.13" cy="745.01" r="2.3" fill="#454296"/>
<circle cx="333.41" cy="748.45" r="2.3" fill="#454296"/>
<circle cx="336.69" cy="745.75" r="2.3" fill="#454296"/>
<circle cx="339.97" cy="745.66" r="2.3" fill="#454296"/>
<circle cx="343.25" cy="744.7" r="2.3" fill="#454296"/>
<circle cx="346.53" cy="741.78" r="2.3" fill="#454296"/>
<circle cx="349.82" cy="741.08" r="2.3" fill="#454296"/>
<circle cx="353.1" cy="745.23" r="2.3" fill="#454296"/>
<circle cx="356.38" cy="744.48" r="2.3" fill="#454296"/>
<circle cx="359.66" cy="742.35" r="2.3" fill="#454296"/>
<circle cx="362.94" cy="738.99" r="2.3" fill="#454296"/>
<circle cx="366.23" cy="737.21" r="2.3" fill="#454296"/>
<circle cx="369.51" cy="737.38" r="2.3" fill="#454296"/>
<circle cx="372.79" cy="738.56" r="2.3" fill="#454296"/>
<circle cx="376.07" cy="737.34" r="2.3" fill="#454296"/>
<circle cx="379.35" cy="738.03" r="2.3" fill="#454296"/>
<circle cx="382.63" cy="734.42" r="2.3" fill="#454296"/>
<circle cx="385.91" cy="733.55" r="2.3" fill="#454296"/>
<circle cx="389.2" cy="726.53" r="2.3" fill="#454296"/>
<circle cx="392.48" cy="728.1" r="2.3" fill="#454296"/>
<circle cx="395.76" cy="722.17" r="2.3" fill="#454296"/>
<circle cx="399.04" cy="723.83" r="2.3" fill="#454296"/>
<circle cx="402.32" cy="723.22" r="2.3" fill="#454296"/>
<circle cx="405.61" cy="720.38" r="2.3" fill="#454296"/>
<circle cx="408.89" cy="713.19" r="2.3" fill="#454296"/>
<circle cx="412.17" cy="709.05" r="2.3" fill="#454296"/>
<circle cx="415.45" cy="712.19" r="2.3" fill="#454296"/>
<circle cx="418.73" cy="706.13" r="2.3" fill="#454296"/>
<circle cx="422.01" cy="702.82" r="2.3" fill="#454296"/>
<circle cx="425.29" cy="701.29" r="2.3" fill="#454296"/>
<circle cx="428.58" cy="698.02" r="2.3" fill="#454296"/>
<circle cx="431.86" cy="695.63" r="2.3" fill="#454296"/>
<circle cx="435.14" cy="693.62" r="2.3" fill="#454296"/>
<circle cx="438.42" cy="691.36" r="2.3" fill="#454296"/>
<circle cx="441.7" cy="685.6" r="2.3" fill="#454296"/>
<circle cx="444.99" cy="683.9" r="2.3" fill="#454296"/>
<circle cx="448.27" cy="683.99" r="2.3" fill="#454296"/>
<circle cx="451.55" cy="681.42" r="2.3" fill="#454296"/>
<circle cx="454.83" cy="680.94" r="2.3" fill="#454296"/>
<circle cx="458.11" cy="679.59" r="2.3" fill="#454296"/>
<circle cx="461.39" cy="679.28" r="2.3" fill="#454296"/>
<circle cx="464.67" cy="675.54" r="2.3" fill="#454296"/>
<circle cx="467.96" cy="671.74" r="2.3" fill="#454296"/>
<circle cx="471.24" cy="672.09" r="2.3" fill="#454296"/>
<circle cx="474.52" cy="671.53" r="2.3" fill="#454296"/>
<circle cx="477.8" cy="670.65" r="2.3" fill="#454296"/>
<circle cx="481.08" cy="663.33" r="2.3" fill="#454296"/>
<circle cx="484.37" cy="663.59" r="2.3" fill="#454296"/>
<circle cx="487.65" cy="662.11" r="2.3" fill="#454296"/>
<circle cx="490.93" cy="661.41" r="2.3" fill="#454296"/>
<circle cx="494.21" cy="663.86" r="2.3" fill="#454296"/>
<circle cx="497.49" cy="659.15" r="2.3" fill="#454296"/>
<circle cx="500.77" cy="661.94" r="2.3" fill="#454296"/>
<circle cx="504.05" cy="661.46" r="2.3" fill="#454296"/>
<circle cx="507.34" cy="661.11" r="2.3" fill="#454296"/>
<circle cx="510.62" cy="657.58" r="2.3" fill="#454296"/>
<circle cx="513.9" cy="657.71" r="2.3" fill="#454296"/>
<line x1="46.2" y1="823.68" x2="46.2" y2="963.05" stroke="#000" stroke-width="1.85"/>
<line x1="45.28" y1="958.05" x2="247.32" y2="958.05" stroke="#000" stroke-width="1.85"/>
<line x1="41.2" y1="958.05" x2="46.2" y2="958.05" stroke="#000" stroke-width="1.85"/>
<text x="41.8" y="962.45" text-anchor="end" class="tk">0</text>
<line x1="41.2" y1="931.36" x2="46.2" y2="931.36" stroke="#000" stroke-width="1.85"/>
<text x="41.8" y="935.76" text-anchor="end" class="tk">20</text>
<line x1="41.2" y1="904.67" x2="46.2" y2="904.67" stroke="#000" stroke-width="1.85"/>
<text x="41.8" y="909.07" text-anchor="end" class="tk">40</text>
<line x1="41.2" y1="877.98" x2="46.2" y2="877.98" stroke="#000" stroke-width="1.85"/>
<text x="41.8" y="882.38" text-anchor="end" class="tk">60</text>
<line x1="41.2" y1="851.29" x2="46.2" y2="851.29" stroke="#000" stroke-width="1.85"/>
<text x="41.8" y="855.69" text-anchor="end" class="tk">80</text>
<line x1="41.2" y1="824.6" x2="46.2" y2="824.6" stroke="#000" stroke-width="1.85"/>
<text x="41.8" y="829" text-anchor="end" class="tk">100</text>
<line x1="46.2" y1="957.12" x2="46.2" y2="963.05" stroke="#000" stroke-width="1.85"/>
<text x="46.8" y="974.25" text-anchor="middle" class="tk">0</text>
<line x1="112.93" y1="957.12" x2="112.93" y2="963.05" stroke="#000" stroke-width="1.85"/>
<text x="113.53" y="974.25" text-anchor="middle" class="tk">20</text>
<line x1="179.67" y1="957.12" x2="179.67" y2="963.05" stroke="#000" stroke-width="1.85"/>
<text x="180.27" y="974.25" text-anchor="middle" class="tk">40</text>
<line x1="246.4" y1="957.12" x2="246.4" y2="963.05" stroke="#000" stroke-width="1.85"/>
<text x="247" y="974.25" text-anchor="middle" class="tk">60</text>
<text x="104.4" y="821.5" class="tt" textLength="78.6" lengthAdjust="spacingAndGlyphs">Opsonized SRBC</text>
<text x="127.9" y="987.3" class="xl" textLength="47.6" lengthAdjust="spacingAndGlyphs">Time (min)</text>
<text transform="translate(13.3,890.9) rotate(-90)" text-anchor="middle" class="xl" textLength="21.6" lengthAdjust="spacingAndGlyphs">RLU</text>
<path d="M46.2 941.24V938.57M43.7 938.57H48.7" stroke="#bf2824" stroke-width="1.4" fill="none"/>
<path d="M52.87 945.37V938.03M50.37 938.03H55.37" stroke="#bf2824" stroke-width="1.4" fill="none"/>
<path d="M59.55 946.44V943.77M57.05 943.77H62.05" stroke="#bf2824" stroke-width="1.4" fill="none"/>
<path d="M66.22 944.44V937.77M63.72 937.77H68.72" stroke="#bf2824" stroke-width="1.4" fill="none"/>
<path d="M72.89 943.37V940.7M70.39 940.7H75.39" stroke="#bf2824" stroke-width="1.4" fill="none"/>
<path d="M79.57 943.37V940.7M77.07 940.7H82.07" stroke="#bf2824" stroke-width="1.4" fill="none"/>
<path d="M86.24 940.17V937.5M83.74 937.5H88.74" stroke="#bf2824" stroke-width="1.4" fill="none"/>
<path d="M92.91 938.03V935.36M90.41 935.36H95.41" stroke="#bf2824" stroke-width="1.4" fill="none"/>
<path d="M99.59 934.83V932.16M97.09 932.16H102.09" stroke="#bf2824" stroke-width="1.4" fill="none"/>
<path d="M106.26 914.01V911.34M103.76 911.34H108.76" stroke="#bf2824" stroke-width="1.4" fill="none"/>
<path d="M112.93 893.99V891.33M110.43 891.33H115.43" stroke="#bf2824" stroke-width="1.4" fill="none"/>
<path d="M119.61 882.25V878.25M117.11 878.25H122.11" stroke="#bf2824" stroke-width="1.4" fill="none"/>
<path d="M126.28 861.3V851.96M123.78 851.96H128.78" stroke="#bf2824" stroke-width="1.4" fill="none"/>
<path d="M132.95 852.89V843.55M130.45 843.55H135.45" stroke="#bf2824" stroke-width="1.4" fill="none"/>
<path d="M139.63 860.23V857.56M137.13 857.56H142.13" stroke="#bf2824" stroke-width="1.4" fill="none"/>
<path d="M146.3 855.03V851.02M143.8 851.02H148.8" stroke="#bf2824" stroke-width="1.4" fill="none"/>
<path d="M152.97 845.95V838.61M150.47 838.61H155.47" stroke="#bf2824" stroke-width="1.4" fill="none"/>
<path d="M159.65 867.3V860.63M157.15 860.63H162.15" stroke="#bf2824" stroke-width="1.4" fill="none"/>
<path d="M166.32 863.97V855.96M163.82 855.96H168.82" stroke="#bf2824" stroke-width="1.4" fill="none"/>
<path d="M172.99 879.71V877.05M170.49 877.05H175.49" stroke="#bf2824" stroke-width="1.4" fill="none"/>
<path d="M179.67 879.71V869.04M177.17 869.04H182.17" stroke="#bf2824" stroke-width="1.4" fill="none"/>
<path d="M186.34 887.32V884.65M183.84 884.65H188.84" stroke="#bf2824" stroke-width="1.4" fill="none"/>
<path d="M193.01 906V903.34M190.51 903.34H195.51" stroke="#bf2824" stroke-width="1.4" fill="none"/>
<path d="M199.69 904.94V902.27M197.19 902.27H202.19" stroke="#bf2824" stroke-width="1.4" fill="none"/>
<path d="M206.36 898.66V897.33M203.86 897.33H208.86" stroke="#bf2824" stroke-width="1.4" fill="none"/>
<path d="M213.03 912.28V909.61M210.53 909.61H215.53" stroke="#bf2824" stroke-width="1.4" fill="none"/>
<path d="M219.71 904.94V894.26M217.21 894.26H222.21" stroke="#bf2824" stroke-width="1.4" fill="none"/>
<path d="M226.38 914.41V911.74M223.88 911.74H228.88" stroke="#bf2824" stroke-width="1.4" fill="none"/>
<path d="M233.05 913.34V910.68M230.55 910.68H235.55" stroke="#bf2824" stroke-width="1.4" fill="none"/>
<path d="M239.73 918.68V916.01M237.23 916.01H242.23" stroke="#bf2824" stroke-width="1.4" fill="none"/>
<path d="M246.4 919.75V917.08M243.9 917.08H248.9" stroke="#bf2824" stroke-width="1.4" fill="none"/>
<path d="M46.2 941.24 L52.87 945.37 L59.55 946.44 L66.22 944.44 L72.89 943.37 L79.57 943.37 L86.24 940.17 L92.91 938.03 L99.59 934.83 L106.26 914.01 L112.93 893.99 L119.61 882.25 L126.28 861.3 L132.95 852.89 L139.63 860.23 L146.3 855.03 L152.97 845.95 L159.65 867.3 L166.32 863.97 L172.99 879.71 L179.67 879.71 L186.34 887.32 L193.01 906 L199.69 904.94 L206.36 898.66 L213.03 912.28 L219.71 904.94 L226.38 914.41 L233.05 913.34 L239.73 918.68 L246.4 919.75" stroke="#bf2824" stroke-width="2.15" fill="none" stroke-linejoin="round"/>
<circle cx="46.2" cy="941.24" r="2.07" fill="#bf2824"/>
<circle cx="52.87" cy="945.37" r="2.07" fill="#bf2824"/>
<circle cx="59.55" cy="946.44" r="2.07" fill="#bf2824"/>
<circle cx="66.22" cy="944.44" r="2.07" fill="#bf2824"/>
<circle cx="72.89" cy="943.37" r="2.07" fill="#bf2824"/>
<circle cx="79.57" cy="943.37" r="2.07" fill="#bf2824"/>
<circle cx="86.24" cy="940.17" r="2.07" fill="#bf2824"/>
<circle cx="92.91" cy="938.03" r="2.07" fill="#bf2824"/>
<circle cx="99.59" cy="934.83" r="2.07" fill="#bf2824"/>
<circle cx="106.26" cy="914.01" r="2.07" fill="#bf2824"/>
<circle cx="112.93" cy="893.99" r="2.07" fill="#bf2824"/>
<circle cx="119.61" cy="882.25" r="2.07" fill="#bf2824"/>
<circle cx="126.28" cy="861.3" r="2.07" fill="#bf2824"/>
<circle cx="132.95" cy="852.89" r="2.07" fill="#bf2824"/>
<circle cx="139.63" cy="860.23" r="2.07" fill="#bf2824"/>
<circle cx="146.3" cy="855.03" r="2.07" fill="#bf2824"/>
<circle cx="152.97" cy="845.95" r="2.07" fill="#bf2824"/>
<circle cx="159.65" cy="867.3" r="2.07" fill="#bf2824"/>
<circle cx="166.32" cy="863.97" r="2.07" fill="#bf2824"/>
<circle cx="172.99" cy="879.71" r="2.07" fill="#bf2824"/>
<circle cx="179.67" cy="879.71" r="2.07" fill="#bf2824"/>
<circle cx="186.34" cy="887.32" r="2.07" fill="#bf2824"/>
<circle cx="193.01" cy="906" r="2.07" fill="#bf2824"/>
<circle cx="199.69" cy="904.94" r="2.07" fill="#bf2824"/>
<circle cx="206.36" cy="898.66" r="2.07" fill="#bf2824"/>
<circle cx="213.03" cy="912.28" r="2.07" fill="#bf2824"/>
<circle cx="219.71" cy="904.94" r="2.07" fill="#bf2824"/>
<circle cx="226.38" cy="914.41" r="2.07" fill="#bf2824"/>
<circle cx="233.05" cy="913.34" r="2.07" fill="#bf2824"/>
<circle cx="239.73" cy="918.68" r="2.07" fill="#bf2824"/>
<circle cx="246.4" cy="919.75" r="2.07" fill="#bf2824"/>
<path d="M46.2 941.24V938.57M43.7 938.57H48.7" stroke="#454296" stroke-width="1.4" fill="none"/>
<path d="M52.87 947.51V944.84M50.37 944.84H55.37" stroke="#454296" stroke-width="1.4" fill="none"/>
<path d="M59.55 943.37V939.37M57.05 939.37H62.05" stroke="#454296" stroke-width="1.4" fill="none"/>
<path d="M66.22 947.51V938.17M63.72 938.17H68.72" stroke="#454296" stroke-width="1.4" fill="none"/>
<path d="M72.89 943.37V938.03M70.39 938.03H75.39" stroke="#454296" stroke-width="1.4" fill="none"/>
<path d="M79.57 944.44V941.77M77.07 941.77H82.07" stroke="#454296" stroke-width="1.4" fill="none"/>
<path d="M86.24 935.9V933.23M83.74 933.23H88.74" stroke="#454296" stroke-width="1.4" fill="none"/>
<path d="M92.91 931.76V926.42M90.41 926.42H95.41" stroke="#454296" stroke-width="1.4" fill="none"/>
<path d="M99.59 910.81V908.14M97.09 908.14H102.09" stroke="#454296" stroke-width="1.4" fill="none"/>
<path d="M106.26 907.61V904.27M103.76 904.27H108.76" stroke="#454296" stroke-width="1.4" fill="none"/>
<path d="M112.93 873.98V871.31M110.43 871.31H115.43" stroke="#454296" stroke-width="1.4" fill="none"/>
<path d="M119.61 875.98V871.97M117.11 871.97H122.11" stroke="#454296" stroke-width="1.4" fill="none"/>
<path d="M126.28 884.39V881.72M123.78 881.72H128.78" stroke="#454296" stroke-width="1.4" fill="none"/>
<path d="M132.95 879.31V871.97M130.45 871.97H135.45" stroke="#454296" stroke-width="1.4" fill="none"/>
<path d="M139.63 877.98V867.3M137.13 867.3H142.13" stroke="#454296" stroke-width="1.4" fill="none"/>
<path d="M146.3 885.99V883.32M143.8 883.32H148.8" stroke="#454296" stroke-width="1.4" fill="none"/>
<path d="M152.97 888.26V885.59M150.47 885.59H155.47" stroke="#454296" stroke-width="1.4" fill="none"/>
<path d="M159.65 911.34V908.67M157.15 908.67H162.15" stroke="#454296" stroke-width="1.4" fill="none"/>
<path d="M166.32 914.41V911.74M163.82 911.74H168.82" stroke="#454296" stroke-width="1.4" fill="none"/>
<path d="M172.99 927.09V924.42M170.49 924.42H175.49" stroke="#454296" stroke-width="1.4" fill="none"/>
<path d="M179.67 924.95V919.62M177.17 919.62H182.17" stroke="#454296" stroke-width="1.4" fill="none"/>
<path d="M186.34 927.09V925.76M183.84 925.76H188.84" stroke="#454296" stroke-width="1.4" fill="none"/>
<path d="M193.01 936.56V933.9M190.51 933.9H195.51" stroke="#454296" stroke-width="1.4" fill="none"/>
<path d="M199.69 928.16V925.49M197.19 925.49H202.19" stroke="#454296" stroke-width="1.4" fill="none"/>
<path d="M206.36 936.56V933.9M203.86 933.9H208.86" stroke="#454296" stroke-width="1.4" fill="none"/>
<path d="M213.03 929.09V926.42M210.53 926.42H215.53" stroke="#454296" stroke-width="1.4" fill="none"/>
<path d="M219.71 935.5V932.83M217.21 932.83H222.21" stroke="#454296" stroke-width="1.4" fill="none"/>
<path d="M226.38 927.09V924.42M223.88 924.42H228.88" stroke="#454296" stroke-width="1.4" fill="none"/>
<path d="M233.05 932.29V929.63M230.55 929.63H235.55" stroke="#454296" stroke-width="1.4" fill="none"/>
<path d="M239.73 923.89V921.22M237.23 921.22H242.23" stroke="#454296" stroke-width="1.4" fill="none"/>
<path d="M246.4 924.95V920.95M243.9 920.95H248.9" stroke="#454296" stroke-width="1.4" fill="none"/>
<path d="M46.2 941.24 L52.87 947.51 L59.55 943.37 L66.22 947.51 L72.89 943.37 L79.57 944.44 L86.24 935.9 L92.91 931.76 L99.59 910.81 L106.26 907.61 L112.93 873.98 L119.61 875.98 L126.28 884.39 L132.95 879.31 L139.63 877.98 L146.3 885.99 L152.97 888.26 L159.65 911.34 L166.32 914.41 L172.99 927.09 L179.67 924.95 L186.34 927.09 L193.01 936.56 L199.69 928.16 L206.36 936.56 L213.03 929.09 L219.71 935.5 L226.38 927.09 L233.05 932.29 L239.73 923.89 L246.4 924.95" stroke="#454296" stroke-width="2.15" fill="none" stroke-linejoin="round"/>
<circle cx="46.2" cy="941.24" r="2.07" fill="#454296"/>
<circle cx="52.87" cy="947.51" r="2.07" fill="#454296"/>
<circle cx="59.55" cy="943.37" r="2.07" fill="#454296"/>
<circle cx="66.22" cy="947.51" r="2.07" fill="#454296"/>
<circle cx="72.89" cy="943.37" r="2.07" fill="#454296"/>
<circle cx="79.57" cy="944.44" r="2.07" fill="#454296"/>
<circle cx="86.24" cy="935.9" r="2.07" fill="#454296"/>
<circle cx="92.91" cy="931.76" r="2.07" fill="#454296"/>
<circle cx="99.59" cy="910.81" r="2.07" fill="#454296"/>
<circle cx="106.26" cy="907.61" r="2.07" fill="#454296"/>
<circle cx="112.93" cy="873.98" r="2.07" fill="#454296"/>
<circle cx="119.61" cy="875.98" r="2.07" fill="#454296"/>
<circle cx="126.28" cy="884.39" r="2.07" fill="#454296"/>
<circle cx="132.95" cy="879.31" r="2.07" fill="#454296"/>
<circle cx="139.63" cy="877.98" r="2.07" fill="#454296"/>
<circle cx="146.3" cy="885.99" r="2.07" fill="#454296"/>
<circle cx="152.97" cy="888.26" r="2.07" fill="#454296"/>
<circle cx="159.65" cy="911.34" r="2.07" fill="#454296"/>
<circle cx="166.32" cy="914.41" r="2.07" fill="#454296"/>
<circle cx="172.99" cy="927.09" r="2.07" fill="#454296"/>
<circle cx="179.67" cy="924.95" r="2.07" fill="#454296"/>
<circle cx="186.34" cy="927.09" r="2.07" fill="#454296"/>
<circle cx="193.01" cy="936.56" r="2.07" fill="#454296"/>
<circle cx="199.69" cy="928.16" r="2.07" fill="#454296"/>
<circle cx="206.36" cy="936.56" r="2.07" fill="#454296"/>
<circle cx="213.03" cy="929.09" r="2.07" fill="#454296"/>
<circle cx="219.71" cy="935.5" r="2.07" fill="#454296"/>
<circle cx="226.38" cy="927.09" r="2.07" fill="#454296"/>
<circle cx="233.05" cy="932.29" r="2.07" fill="#454296"/>
<circle cx="239.73" cy="923.89" r="2.07" fill="#454296"/>
<circle cx="246.4" cy="924.95" r="2.07" fill="#454296"/>
<line x1="317.1" y1="824.08" x2="317.1" y2="961.6" stroke="#000" stroke-width="1.85"/>
<line x1="316.18" y1="956.6" x2="514.82" y2="956.6" stroke="#000" stroke-width="1.85"/>
<line x1="312.1" y1="956.6" x2="317.1" y2="956.6" stroke="#000" stroke-width="1.85"/>
<text x="312.7" y="961" text-anchor="end" class="tk">0</text>
<line x1="312.1" y1="923.7" x2="317.1" y2="923.7" stroke="#000" stroke-width="1.85"/>
<text x="312.7" y="928.1" text-anchor="end" class="tk">10</text>
<line x1="312.1" y1="890.8" x2="317.1" y2="890.8" stroke="#000" stroke-width="1.85"/>
<text x="312.7" y="895.2" text-anchor="end" class="tk">20</text>
<line x1="312.1" y1="857.9" x2="317.1" y2="857.9" stroke="#000" stroke-width="1.85"/>
<text x="312.7" y="862.3" text-anchor="end" class="tk">30</text>
<line x1="312.1" y1="825" x2="317.1" y2="825" stroke="#000" stroke-width="1.85"/>
<text x="312.7" y="829.4" text-anchor="end" class="tk">40</text>
<line x1="317.1" y1="955.68" x2="317.1" y2="961.6" stroke="#000" stroke-width="1.85"/>
<text x="317.7" y="972.8" text-anchor="middle" class="tk">0</text>
<line x1="382.7" y1="955.68" x2="382.7" y2="961.6" stroke="#000" stroke-width="1.85"/>
<text x="383.3" y="972.8" text-anchor="middle" class="tk">20</text>
<line x1="448.3" y1="955.68" x2="448.3" y2="961.6" stroke="#000" stroke-width="1.85"/>
<text x="448.9" y="972.8" text-anchor="middle" class="tk">40</text>
<line x1="513.9" y1="955.68" x2="513.9" y2="961.6" stroke="#000" stroke-width="1.85"/>
<text x="514.5" y="972.8" text-anchor="middle" class="tk">60</text>
<text x="346.3" y="823.7" class="tt" textLength="137" lengthAdjust="spacingAndGlyphs" style="font-weight:normal;stroke:#000;stroke-width:0.35px">Opsonized SRBC without Ca<tspan dy="-4" font-size="8">2+</tspan></text>
<text x="396" y="985.8" class="xl" textLength="48.6" lengthAdjust="spacingAndGlyphs">Time (min)</text>
<text transform="translate(284.4,890.8) rotate(-90)" text-anchor="middle" class="xl" textLength="21.6" lengthAdjust="spacingAndGlyphs">RLU</text>
<path d="M317.1 897.05V882.25M314.6 882.25H319.6" stroke="#bf2824" stroke-width="1.4" fill="none"/>
<path d="M323.66 925.35V922.06M321.16 922.06H326.16" stroke="#bf2824" stroke-width="1.4" fill="none"/>
<path d="M330.22 926.33V923.04M327.72 923.04H332.72" stroke="#bf2824" stroke-width="1.4" fill="none"/>
<path d="M336.78 932.91V929.62M334.28 929.62H339.28" stroke="#bf2824" stroke-width="1.4" fill="none"/>
<path d="M343.34 913.83V910.54M340.84 910.54H345.84" stroke="#bf2824" stroke-width="1.4" fill="none"/>
<path d="M349.9 917.12V912.19M347.4 912.19H352.4" stroke="#bf2824" stroke-width="1.4" fill="none"/>
<path d="M356.46 920.41V918.11M353.96 918.11H358.96" stroke="#bf2824" stroke-width="1.4" fill="none"/>
<path d="M363.02 924.36V921.07M360.52 921.07H365.52" stroke="#bf2824" stroke-width="1.4" fill="none"/>
<path d="M369.58 912.84V909.55M367.08 909.55H372.08" stroke="#bf2824" stroke-width="1.4" fill="none"/>
<path d="M376.14 901.33V898.04M373.64 898.04H378.64" stroke="#bf2824" stroke-width="1.4" fill="none"/>
<path d="M382.7 894.75V884.22M380.2 884.22H385.2" stroke="#bf2824" stroke-width="1.4" fill="none"/>
<path d="M389.26 863.16V859.87M386.76 859.87H391.76" stroke="#bf2824" stroke-width="1.4" fill="none"/>
<path d="M395.82 881.26V877.97M393.32 877.97H398.32" stroke="#bf2824" stroke-width="1.4" fill="none"/>
<path d="M402.38 869.41V854.61M399.88 854.61H404.88" stroke="#bf2824" stroke-width="1.4" fill="none"/>
<path d="M408.94 888.5V877.97M406.44 877.97H411.44" stroke="#bf2824" stroke-width="1.4" fill="none"/>
<path d="M415.5 903.3V900.01M413 900.01H418" stroke="#bf2824" stroke-width="1.4" fill="none"/>
<path d="M422.06 888.5V869.41M419.56 869.41H424.56" stroke="#bf2824" stroke-width="1.4" fill="none"/>
<path d="M428.62 901.33V896.39M426.12 896.39H431.12" stroke="#bf2824" stroke-width="1.4" fill="none"/>
<path d="M435.18 889.48V876.98M432.68 876.98H437.68" stroke="#bf2824" stroke-width="1.4" fill="none"/>
<path d="M441.74 915.8V912.51M439.24 912.51H444.24" stroke="#bf2824" stroke-width="1.4" fill="none"/>
<path d="M448.3 894.75V889.81M445.8 889.81H450.8" stroke="#bf2824" stroke-width="1.4" fill="none"/>
<path d="M454.86 912.84V909.55M452.36 909.55H457.36" stroke="#bf2824" stroke-width="1.4" fill="none"/>
<path d="M461.42 920.08V916.79M458.92 916.79H463.92" stroke="#bf2824" stroke-width="1.4" fill="none"/>
<path d="M467.98 903.3V900.01M465.48 900.01H470.48" stroke="#bf2824" stroke-width="1.4" fill="none"/>
<path d="M474.54 902.32V897.05M472.04 897.05H477.04" stroke="#bf2824" stroke-width="1.4" fill="none"/>
<path d="M481.1 915.8V912.51M478.6 912.51H483.6" stroke="#bf2824" stroke-width="1.4" fill="none"/>
<path d="M487.66 909.55V906.26M485.16 906.26H490.16" stroke="#bf2824" stroke-width="1.4" fill="none"/>
<path d="M494.22 894.75V892.77M491.72 892.77H496.72" stroke="#bf2824" stroke-width="1.4" fill="none"/>
<path d="M500.78 907.58V897.05M498.28 897.05H503.28" stroke="#bf2824" stroke-width="1.4" fill="none"/>
<path d="M507.34 903.3V899.02M504.84 899.02H509.84" stroke="#bf2824" stroke-width="1.4" fill="none"/>
<path d="M513.9 923.37V920.08M511.4 920.08H516.4" stroke="#bf2824" stroke-width="1.4" fill="none"/>
<path d="M317.1 897.05 L323.66 925.35 L330.22 926.33 L336.78 932.91 L343.34 913.83 L349.9 917.12 L356.46 920.41 L363.02 924.36 L369.58 912.84 L376.14 901.33 L382.7 894.75 L389.26 863.16 L395.82 881.26 L402.38 869.41 L408.94 888.5 L415.5 903.3 L422.06 888.5 L428.62 901.33 L435.18 889.48 L441.74 915.8 L448.3 894.75 L454.86 912.84 L461.42 920.08 L467.98 903.3 L474.54 902.32 L481.1 915.8 L487.66 909.55 L494.22 894.75 L500.78 907.58 L507.34 903.3 L513.9 923.37" stroke="#bf2824" stroke-width="2.15" fill="none" stroke-linejoin="round"/>
<circle cx="317.1" cy="897.05" r="2.07" fill="#bf2824"/>
<circle cx="323.66" cy="925.35" r="2.07" fill="#bf2824"/>
<circle cx="330.22" cy="926.33" r="2.07" fill="#bf2824"/>
<circle cx="336.78" cy="932.91" r="2.07" fill="#bf2824"/>
<circle cx="343.34" cy="913.83" r="2.07" fill="#bf2824"/>
<circle cx="349.9" cy="917.12" r="2.07" fill="#bf2824"/>
<circle cx="356.46" cy="920.41" r="2.07" fill="#bf2824"/>
<circle cx="363.02" cy="924.36" r="2.07" fill="#bf2824"/>
<circle cx="369.58" cy="912.84" r="2.07" fill="#bf2824"/>
<circle cx="376.14" cy="901.33" r="2.07" fill="#bf2824"/>
<circle cx="382.7" cy="894.75" r="2.07" fill="#bf2824"/>
<circle cx="389.26" cy="863.16" r="2.07" fill="#bf2824"/>
<circle cx="395.82" cy="881.26" r="2.07" fill="#bf2824"/>
<circle cx="402.38" cy="869.41" r="2.07" fill="#bf2824"/>
<circle cx="408.94" cy="888.5" r="2.07" fill="#bf2824"/>
<circle cx="415.5" cy="903.3" r="2.07" fill="#bf2824"/>
<circle cx="422.06" cy="888.5" r="2.07" fill="#bf2824"/>
<circle cx="428.62" cy="901.33" r="2.07" fill="#bf2824"/>
<circle cx="435.18" cy="889.48" r="2.07" fill="#bf2824"/>
<circle cx="441.74" cy="915.8" r="2.07" fill="#bf2824"/>
<circle cx="448.3" cy="894.75" r="2.07" fill="#bf2824"/>
<circle cx="454.86" cy="912.84" r="2.07" fill="#bf2824"/>
<circle cx="461.42" cy="920.08" r="2.07" fill="#bf2824"/>
<circle cx="467.98" cy="903.3" r="2.07" fill="#bf2824"/>
<circle cx="474.54" cy="902.32" r="2.07" fill="#bf2824"/>
<circle cx="481.1" cy="915.8" r="2.07" fill="#bf2824"/>
<circle cx="487.66" cy="909.55" r="2.07" fill="#bf2824"/>
<circle cx="494.22" cy="894.75" r="2.07" fill="#bf2824"/>
<circle cx="500.78" cy="907.58" r="2.07" fill="#bf2824"/>
<circle cx="507.34" cy="903.3" r="2.07" fill="#bf2824"/>
<circle cx="513.9" cy="923.37" r="2.07" fill="#bf2824"/>
<path d="M317.1 924.36V921.07M314.6 921.07H319.6" stroke="#454296" stroke-width="1.4" fill="none"/>
<path d="M323.66 928.63V925.35M321.16 925.35H326.16" stroke="#454296" stroke-width="1.4" fill="none"/>
<path d="M330.22 926.33V915.8M327.72 915.8H332.72" stroke="#454296" stroke-width="1.4" fill="none"/>
<path d="M336.78 922.38V919.09M334.28 919.09H339.28" stroke="#454296" stroke-width="1.4" fill="none"/>
<path d="M343.34 912.84V903.3M340.84 903.3H345.84" stroke="#454296" stroke-width="1.4" fill="none"/>
<path d="M349.9 929.62V926.33M347.4 926.33H352.4" stroke="#454296" stroke-width="1.4" fill="none"/>
<path d="M356.46 935.87V932.58M353.96 932.58H358.96" stroke="#454296" stroke-width="1.4" fill="none"/>
<path d="M363.02 906.59V896.06M360.52 896.06H365.52" stroke="#454296" stroke-width="1.4" fill="none"/>
<path d="M369.58 909.55V906.26M367.08 906.26H372.08" stroke="#454296" stroke-width="1.4" fill="none"/>
<path d="M376.14 878.96V860.2M373.64 860.2H378.64" stroke="#454296" stroke-width="1.4" fill="none"/>
<path d="M382.7 896.06V892.77M380.2 892.77H385.2" stroke="#454296" stroke-width="1.4" fill="none"/>
<path d="M389.26 861.19V845.4M386.76 845.4H391.76" stroke="#454296" stroke-width="1.4" fill="none"/>
<path d="M395.82 877.97V862.18M393.32 862.18H398.32" stroke="#454296" stroke-width="1.4" fill="none"/>
<path d="M402.38 878.96V864.15M399.88 864.15H404.88" stroke="#454296" stroke-width="1.4" fill="none"/>
<path d="M408.94 866.45V849.67M406.44 849.67H411.44" stroke="#454296" stroke-width="1.4" fill="none"/>
<path d="M415.5 872.71V854.61M413 854.61H418" stroke="#454296" stroke-width="1.4" fill="none"/>
<path d="M422.06 888.5V876.98M419.56 876.98H424.56" stroke="#454296" stroke-width="1.4" fill="none"/>
<path d="M428.62 912.84V909.55M426.12 909.55H431.12" stroke="#454296" stroke-width="1.4" fill="none"/>
<path d="M435.18 899.02V895.74M432.68 895.74H437.68" stroke="#454296" stroke-width="1.4" fill="none"/>
<path d="M441.74 904.29V901M439.24 901H444.24" stroke="#454296" stroke-width="1.4" fill="none"/>
<path d="M448.3 892.77V868.43M445.8 868.43H450.8" stroke="#454296" stroke-width="1.4" fill="none"/>
<path d="M454.86 912.84V909.55M452.36 909.55H457.36" stroke="#454296" stroke-width="1.4" fill="none"/>
<path d="M461.42 902.32V888.5M458.92 888.5H463.92" stroke="#454296" stroke-width="1.4" fill="none"/>
<path d="M467.98 920.08V916.79M465.48 916.79H470.48" stroke="#454296" stroke-width="1.4" fill="none"/>
<path d="M474.54 898.04V889.48M472.04 889.48H477.04" stroke="#454296" stroke-width="1.4" fill="none"/>
<path d="M481.1 912.84V909.55M478.6 909.55H483.6" stroke="#454296" stroke-width="1.4" fill="none"/>
<path d="M487.66 907.58V904.29M485.16 904.29H490.16" stroke="#454296" stroke-width="1.4" fill="none"/>
<path d="M494.22 900.01V895.74M491.72 895.74H496.72" stroke="#454296" stroke-width="1.4" fill="none"/>
<path d="M500.78 920.08V916.79M498.28 916.79H503.28" stroke="#454296" stroke-width="1.4" fill="none"/>
<path d="M507.34 903.3V899.02M504.84 899.02H509.84" stroke="#454296" stroke-width="1.4" fill="none"/>
<path d="M513.9 909.55V906.26M511.4 906.26H516.4" stroke="#454296" stroke-width="1.4" fill="none"/>
<path d="M317.1 924.36 L323.66 928.63 L330.22 926.33 L336.78 922.38 L343.34 912.84 L349.9 929.62 L356.46 935.87 L363.02 906.59 L369.58 909.55 L376.14 878.96 L382.7 896.06 L389.26 861.19 L395.82 877.97 L402.38 878.96 L408.94 866.45 L415.5 872.71 L422.06 888.5 L428.62 912.84 L435.18 899.02 L441.74 904.29 L448.3 892.77 L454.86 912.84 L461.42 902.32 L467.98 920.08 L474.54 898.04 L481.1 912.84 L487.66 907.58 L494.22 900.01 L500.78 920.08 L507.34 903.3 L513.9 909.55" stroke="#454296" stroke-width="2.15" fill="none" stroke-linejoin="round"/>
<circle cx="317.1" cy="924.36" r="2.07" fill="#454296"/>
<circle cx="323.66" cy="928.63" r="2.07" fill="#454296"/>
<circle cx="330.22" cy="926.33" r="2.07" fill="#454296"/>
<circle cx="336.78" cy="922.38" r="2.07" fill="#454296"/>
<circle cx="343.34" cy="912.84" r="2.07" fill="#454296"/>
<circle cx="349.9" cy="929.62" r="2.07" fill="#454296"/>
<circle cx="356.46" cy="935.87" r="2.07" fill="#454296"/>
<circle cx="363.02" cy="906.59" r="2.07" fill="#454296"/>
<circle cx="369.58" cy="909.55" r="2.07" fill="#454296"/>
<circle cx="376.14" cy="878.96" r="2.07" fill="#454296"/>
<circle cx="382.7" cy="896.06" r="2.07" fill="#454296"/>
<circle cx="389.26" cy="861.19" r="2.07" fill="#454296"/>
<circle cx="395.82" cy="877.97" r="2.07" fill="#454296"/>
<circle cx="402.38" cy="878.96" r="2.07" fill="#454296"/>
<circle cx="408.94" cy="866.45" r="2.07" fill="#454296"/>
<circle cx="415.5" cy="872.71" r="2.07" fill="#454296"/>
<circle cx="422.06" cy="888.5" r="2.07" fill="#454296"/>
<circle cx="428.62" cy="912.84" r="2.07" fill="#454296"/>
<circle cx="435.18" cy="899.02" r="2.07" fill="#454296"/>
<circle cx="441.74" cy="904.29" r="2.07" fill="#454296"/>
<circle cx="448.3" cy="892.77" r="2.07" fill="#454296"/>
<circle cx="454.86" cy="912.84" r="2.07" fill="#454296"/>
<circle cx="461.42" cy="902.32" r="2.07" fill="#454296"/>
<circle cx="467.98" cy="920.08" r="2.07" fill="#454296"/>
<circle cx="474.54" cy="898.04" r="2.07" fill="#454296"/>
<circle cx="481.1" cy="912.84" r="2.07" fill="#454296"/>
<circle cx="487.66" cy="907.58" r="2.07" fill="#454296"/>
<circle cx="494.22" cy="900.01" r="2.07" fill="#454296"/>
<circle cx="500.78" cy="920.08" r="2.07" fill="#454296"/>
<circle cx="507.34" cy="903.3" r="2.07" fill="#454296"/>
<circle cx="513.9" cy="909.55" r="2.07" fill="#454296"/>
<text x="0.6" y="18.6" class="pl">A</text>
<text x="-0.3" y="214.8" class="pl">B</text>
<text x="-1.0" y="414.6" class="pl">C</text>
<text x="-0.5" y="616.6" class="pl">D</text>
<text x="-0.3" y="821.8" class="pl">E</text>

<g>
<line x1="60" y1="1024.8" x2="79" y2="1024.8" stroke="#bf2824" stroke-width="3.8" stroke-linecap="round"/>
<circle cx="69.8" cy="1024.8" r="2.2" fill="#bf2824"/>
<line x1="60.3" y1="1043.8" x2="79" y2="1043.8" stroke="#454296" stroke-width="3.8" stroke-linecap="round"/>
<circle cx="69.8" cy="1043.8" r="2.2" fill="#454296"/>
<path d="M60.8 1062.4H63.2M76.2 1062.4H78.6" stroke="#cd7c7c" stroke-width="2.8" stroke-linecap="round"/>
<circle cx="70" cy="1062.4" r="2.5" fill="#cd7c7c"/>
<path d="M60.8 1081.1H63.2M76.2 1081.1H78.6" stroke="#a9c8e2" stroke-width="2.8" stroke-linecap="round"/>
<circle cx="70" cy="1081.1" r="2.5" fill="#a9c8e2"/>
<text x="88.3" y="1029.3" class="lg" textLength="15" lengthAdjust="spacingAndGlyphs">WT</text>
<text x="87.7" y="1047.3" class="lg" font-style="italic">stim1<tspan dy="-3.8" font-size="7">-/-</tspan></text>
<text x="88" y="1066.6" class="lg" textLength="58" lengthAdjust="spacingAndGlyphs">WT + BAPTA</text>
<text x="88" y="1085.3" class="lg"><tspan font-style="italic">stim1</tspan><tspan dy="-3.8" font-size="8" font-style="italic">-/-</tspan><tspan dy="3.8"> + BAPTA</tspan></text>
</g>
</svg></body></html>
